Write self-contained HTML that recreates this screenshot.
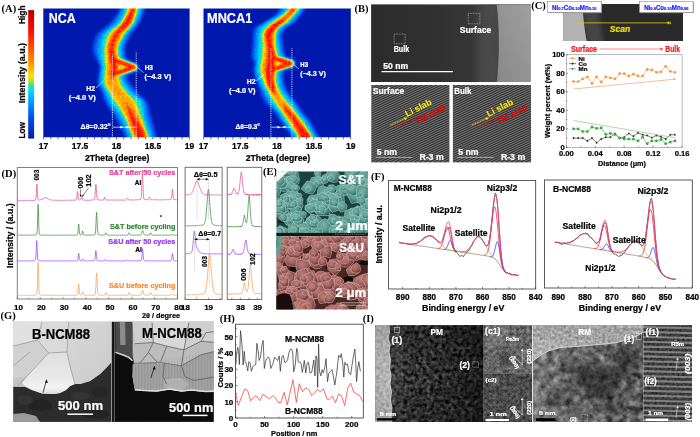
<!DOCTYPE html>
<html><head><meta charset="utf-8"><style>
html,body{margin:0;padding:0;background:#fff;width:700px;height:437px;overflow:hidden}
svg{display:block;will-change:transform}
</style></head><body>
<svg xmlns="http://www.w3.org/2000/svg" width="700" height="437" viewBox="0 0 700 437">
<rect width="700" height="437" fill="#fff"/>
<defs>
<linearGradient id="cbar" x1="0" y1="0" x2="0" y2="1">
 <stop offset="0" stop-color="#b00000"/>
 <stop offset="0.06" stop-color="#d80000"/>
 <stop offset="0.16" stop-color="#f81000"/>
 <stop offset="0.26" stop-color="#ff4000"/>
 <stop offset="0.40" stop-color="#ff8c00"/>
 <stop offset="0.51" stop-color="#ffe000"/>
 <stop offset="0.555" stop-color="#b0e030"/>
 <stop offset="0.585" stop-color="#30e0a0"/>
 <stop offset="0.62" stop-color="#00e0f0"/>
 <stop offset="0.71" stop-color="#00a0ff"/>
 <stop offset="0.83" stop-color="#0050f0"/>
 <stop offset="1" stop-color="#0020a0"/>
</linearGradient>
</defs>
<text x="1.60" y="11.70" font-family="Liberation Serif" font-size="10.5" fill="#000" font-weight="bold" >(A)</text>
<text x="24.60" y="24.10" font-family="Liberation Sans" font-size="8.6" fill="#000" font-weight="bold" stroke="#000" stroke-width="0.22" textLength="18.60" lengthAdjust="spacingAndGlyphs" transform="rotate(-90 24.60 24.10)" >High</text>
<text x="24.60" y="103.30" font-family="Liberation Sans" font-size="8.6" fill="#000" font-weight="bold" stroke="#000" stroke-width="0.22" textLength="60.40" lengthAdjust="spacingAndGlyphs" transform="rotate(-90 24.60 103.30)" >Intensity (a.u.)</text>
<text x="24.60" y="138.60" font-family="Liberation Sans" font-size="8.6" fill="#000" font-weight="bold" stroke="#000" stroke-width="0.22" textLength="16.70" lengthAdjust="spacingAndGlyphs" transform="rotate(-90 24.60 138.60)" >Low</text>
<rect x="28.20" y="10.10" width="5.90" height="128.50" fill="url(#cbar)" />
<defs>
<filter id="jet" x="0" y="0" width="1" height="1" color-interpolation-filters="sRGB">
 <feGaussianBlur in="SourceGraphic" stdDeviation="0.9" result="bl"/>
 <feTurbulence type="fractalNoise" baseFrequency="0.45" numOctaves="2" seed="3" result="tn"/>
 <feColorMatrix in="tn" type="matrix" values="1 0 0 0 0  1 0 0 0 0  1 0 0 0 0  0 0 0 0 1" result="gn"/>
 <feComposite in="bl" in2="gn" operator="arithmetic" k1="0.3" k2="0.85" k3="0" k4="0" result="mx"/>
 <feComponentTransfer in="mx">
  <feFuncR type="table" tableValues="0.000 0.000 0.000 0.000 0.000 0.000 0.000 0.000 0.000 0.000 0.000 0.000 0.000 0.000 0.000 0.024 0.141 0.376 0.690 0.845 1.000 1.000 1.000 1.000 1.000 1.000 1.000 1.000 1.000 1.000 1.000 1.000 1.000 0.994 0.964 0.933 0.903 0.867 0.808 0.749 0.690"/>
  <feFuncG type="table" tableValues="0.098 0.121 0.143 0.166 0.188 0.237 0.286 0.335 0.402 0.472 0.543 0.613 0.683 0.753 0.823 0.878 0.878 0.878 0.878 0.878 0.878 0.812 0.745 0.678 0.612 0.550 0.488 0.425 0.363 0.301 0.238 0.176 0.113 0.060 0.044 0.028 0.013 0.000 0.000 0.000 0.000"/>
  <feFuncB type="table" tableValues="0.682 0.716 0.749 0.782 0.816 0.855 0.894 0.933 0.953 0.968 0.982 0.997 0.987 0.971 0.954 0.902 0.706 0.463 0.188 0.094 0.000 0.000 0.000 0.000 0.000 0.000 0.000 0.000 0.000 0.000 0.000 0.000 0.000 0.000 0.000 0.000 0.000 0.000 0.000 0.000 0.000"/>
  <feFuncA type="linear" slope="0" intercept="1"/>
 </feComponentTransfer>
</filter>
<clipPath id="clA1"><rect x="43.3" y="8.5" width="146.3" height="128.7"/></clipPath>
<clipPath id="clA2"><rect x="203.5" y="8.5" width="147.3" height="128.7"/></clipPath>
</defs>
<g clip-path="url(#clA1)"><g filter="url(#jet)">
<rect x="43.3" y="8.5" width="146.3" height="128.7" fill="#000"/>
<defs><linearGradient id="clA1og" gradientUnits="userSpaceOnUse" x1="0" y1="0" x2="0" y2="140"><stop offset="0" stop-color="rgb(161,161,161)"/><stop offset="0.507" stop-color="rgb(161,161,161)"/><stop offset="0.571" stop-color="rgb(147,147,147)"/><stop offset="0.714" stop-color="rgb(148,148,148)"/><stop offset="0.829" stop-color="rgb(161,161,161)"/><stop offset="1" stop-color="rgb(161,161,161)"/></linearGradient></defs>
<polygon points="122.3,0.0 122.1,1.0 121.8,2.0 121.5,3.0 121.1,4.0 120.8,5.0 120.4,6.0 120.0,7.0 119.5,8.0 119.1,9.0 118.6,10.0 118.0,11.0 117.5,12.0 116.9,13.0 116.3,14.0 115.6,15.0 114.9,16.0 114.2,17.0 113.5,18.0 112.7,19.0 111.9,20.0 111.1,21.0 110.3,22.0 109.4,23.0 108.4,24.0 107.2,25.0 105.9,26.0 104.6,27.0 103.3,28.0 102.0,29.0 100.7,30.0 99.5,31.0 98.3,32.0 97.3,33.0 96.5,34.0 95.8,35.0 95.3,36.0 94.9,37.0 94.6,38.0 94.3,39.0 94.0,40.0 93.7,41.0 93.4,42.0 93.2,43.0 93.0,44.0 92.8,45.0 92.6,46.0 92.5,47.0 92.4,48.0 92.3,49.0 92.3,50.0 92.4,51.0 92.6,52.0 92.9,53.0 93.2,54.0 93.7,55.0 94.2,56.0 94.7,57.0 95.2,58.0 95.6,59.0 96.1,60.0 96.5,61.0 97.1,62.0 97.6,63.0 98.1,64.0 98.6,65.0 98.9,66.0 99.0,67.0 99.0,68.0 98.9,69.0 98.7,70.0 98.5,71.0 98.3,72.0 98.2,73.0 98.0,74.0 97.9,75.0 97.7,76.0 97.5,77.0 97.4,78.0 97.2,79.0 97.1,80.0 97.0,81.0 97.0,82.0 97.1,83.0 97.3,84.0 97.6,85.0 98.0,86.0 98.5,87.0 99.0,88.0 99.6,89.0 100.1,90.0 100.6,91.0 101.0,92.0 101.4,93.0 101.7,94.0 102.1,95.0 102.4,96.0 102.7,97.0 103.0,98.0 103.4,99.0 103.8,100.0 104.1,101.0 104.6,102.0 105.0,103.0 105.5,104.0 106.1,105.0 106.7,106.0 107.4,107.0 108.1,108.0 108.8,109.0 109.5,110.0 110.3,111.0 111.0,112.0 111.7,113.0 112.4,114.0 113.0,115.0 113.6,116.0 114.2,117.0 114.8,118.0 115.3,119.0 115.9,120.0 116.4,121.0 117.0,122.0 117.5,123.0 118.0,124.0 118.6,125.0 119.1,126.0 119.6,127.0 120.1,128.0 120.6,129.0 121.1,130.0 121.6,131.0 122.2,132.0 122.7,133.0 123.1,134.0 123.6,135.0 124.1,136.0 124.6,137.0 125.1,138.0 125.5,139.0 126.0,140.0 158.0,140.0 157.8,139.0 157.5,138.0 157.3,137.0 157.1,136.0 156.8,135.0 156.6,134.0 156.3,133.0 156.1,132.0 155.8,131.0 155.5,130.0 155.2,129.0 155.0,128.0 154.7,127.0 154.3,126.0 154.0,125.0 153.7,124.0 153.4,123.0 153.1,122.0 152.8,121.0 152.5,120.0 152.2,119.0 151.9,118.0 151.6,117.0 151.3,116.0 151.0,115.0 150.7,114.0 150.5,113.0 150.3,112.0 150.1,111.0 149.9,110.0 149.7,109.0 149.5,108.0 149.2,107.0 149.0,106.0 148.7,105.0 148.4,104.0 148.0,103.0 147.5,102.0 146.9,101.0 146.1,100.0 145.1,99.0 144.1,98.0 143.1,97.0 142.0,96.0 140.9,95.0 139.9,94.0 138.9,93.0 138.0,92.0 137.1,91.0 136.2,90.0 135.3,89.0 134.4,88.0 133.6,87.0 132.7,86.0 131.9,85.0 131.2,84.0 130.6,83.0 130.0,82.0 129.5,81.0 129.0,80.0 128.6,79.0 128.2,78.0 127.8,77.0 127.5,76.0 127.2,75.0 127.0,74.0 126.8,73.0 126.6,72.0 126.4,71.0 126.2,70.0 126.1,69.0 126.0,68.0 126.0,67.0 126.1,66.0 126.2,65.0 126.4,64.0 126.6,63.0 126.7,62.0 126.9,61.0 126.9,60.0 126.9,59.0 126.8,58.0 126.7,57.0 126.5,56.0 126.3,55.0 126.1,54.0 126.0,53.0 125.8,52.0 125.7,51.0 125.7,50.0 125.7,49.0 125.9,48.0 126.0,47.0 126.3,46.0 126.6,45.0 127.0,44.0 127.4,43.0 127.8,42.0 128.3,41.0 128.7,40.0 129.2,39.0 129.7,38.0 130.2,37.0 130.7,36.0 131.2,35.0 131.8,34.0 132.5,33.0 133.3,32.0 134.0,31.0 134.9,30.0 135.7,29.0 136.5,28.0 137.3,27.0 138.1,26.0 138.9,25.0 139.5,24.0 140.2,23.0 140.7,22.0 141.2,21.0 141.7,20.0 142.1,19.0 142.6,18.0 143.0,17.0 143.4,16.0 143.8,15.0 144.2,14.0 144.5,13.0 144.9,12.0 145.1,11.0 145.4,10.0 145.6,9.0 145.8,8.0 146.0,7.0 146.1,6.0 146.3,5.0 146.4,4.0 146.5,3.0 146.6,2.0 146.7,1.0 146.7,0.0" fill="rgb(43,43,43)"/>
<path d="M114.5,60 L133.8,67.3 L112.5,74.5" fill="none" stroke="rgb(43,43,43)" stroke-width="10.5" stroke-linecap="round" stroke-linejoin="round"/>
<polygon points="124.5,0.0 124.3,1.0 124.1,2.0 123.8,3.0 123.5,4.0 123.2,5.0 122.9,6.0 122.5,7.0 122.2,8.0 121.8,9.0 121.4,10.0 121.0,11.0 120.5,12.0 120.0,13.0 119.5,14.0 119.0,15.0 118.4,16.0 117.8,17.0 117.2,18.0 116.6,19.0 115.9,20.0 115.2,21.0 114.5,22.0 113.7,23.0 112.7,24.0 111.7,25.0 110.5,26.0 109.2,27.0 108.0,28.0 106.7,29.0 105.4,30.0 104.2,31.0 103.1,32.0 102.1,33.0 101.2,34.0 100.5,35.0 100.0,36.0 99.6,37.0 99.2,38.0 98.8,39.0 98.5,40.0 98.1,41.0 97.8,42.0 97.5,43.0 97.3,44.0 97.1,45.0 96.9,46.0 96.7,47.0 96.6,48.0 96.5,49.0 96.5,50.0 96.5,51.0 96.6,52.0 96.8,53.0 97.0,54.0 97.2,55.0 97.5,56.0 97.8,57.0 98.1,58.0 98.4,59.0 98.6,60.0 99.0,61.0 99.4,62.0 99.8,63.0 100.3,64.0 100.6,65.0 100.9,66.0 101.0,67.0 101.0,68.0 100.8,69.0 100.7,70.0 100.5,71.0 100.3,72.0 100.1,73.0 100.0,74.0 99.9,75.0 99.8,76.0 99.7,77.0 99.7,78.0 99.6,79.0 99.5,80.0 99.5,81.0 99.5,82.0 99.6,83.0 99.8,84.0 100.2,85.0 100.7,86.0 101.2,87.0 101.8,88.0 102.4,89.0 103.0,90.0 103.5,91.0 104.0,92.0 104.4,93.0 104.8,94.0 105.2,95.0 105.6,96.0 105.9,97.0 106.3,98.0 106.7,99.0 107.1,100.0 107.5,101.0 108.0,102.0 108.5,103.0 109.1,104.0 109.7,105.0 110.4,106.0 111.1,107.0 111.8,108.0 112.6,109.0 113.4,110.0 114.2,111.0 115.0,112.0 115.7,113.0 116.4,114.0 117.0,115.0 117.6,116.0 118.2,117.0 118.7,118.0 119.3,119.0 119.8,120.0 120.3,121.0 120.9,122.0 121.4,123.0 121.9,124.0 122.4,125.0 122.8,126.0 123.3,127.0 123.8,128.0 124.3,129.0 124.7,130.0 125.2,131.0 125.6,132.0 126.1,133.0 126.5,134.0 127.0,135.0 127.4,136.0 127.8,137.0 128.2,138.0 128.6,139.0 129.0,140.0 154.5,140.0 154.2,139.0 153.9,138.0 153.6,137.0 153.3,136.0 153.0,135.0 152.7,134.0 152.4,133.0 152.1,132.0 151.8,131.0 151.5,130.0 151.2,129.0 150.8,128.0 150.5,127.0 150.2,126.0 149.8,125.0 149.5,124.0 149.2,123.0 148.9,122.0 148.6,121.0 148.3,120.0 148.0,119.0 147.7,118.0 147.5,117.0 147.2,116.0 147.0,115.0 146.8,114.0 146.6,113.0 146.5,112.0 146.4,111.0 146.2,110.0 146.1,109.0 146.0,108.0 145.8,107.0 145.7,106.0 145.5,105.0 145.3,104.0 145.0,103.0 144.6,102.0 143.9,101.0 143.1,100.0 142.0,99.0 140.9,98.0 139.7,97.0 138.5,96.0 137.2,95.0 136.1,94.0 135.0,93.0 134.0,92.0 133.1,91.0 132.2,90.0 131.2,89.0 130.3,88.0 129.4,87.0 128.5,86.0 127.7,85.0 127.0,84.0 126.4,83.0 126.0,82.0 125.6,81.0 125.3,80.0 125.1,79.0 124.8,78.0 124.6,77.0 124.4,76.0 124.2,75.0 124.0,74.0 123.8,73.0 123.6,72.0 123.4,71.0 123.3,70.0 123.1,69.0 123.0,68.0 123.0,67.0 123.0,66.0 123.2,65.0 123.3,64.0 123.5,63.0 123.7,62.0 123.8,61.0 123.9,60.0 123.8,59.0 123.7,58.0 123.6,57.0 123.4,56.0 123.2,55.0 123.0,54.0 122.8,53.0 122.6,52.0 122.5,51.0 122.5,50.0 122.5,49.0 122.7,48.0 122.8,47.0 123.1,46.0 123.4,45.0 123.8,44.0 124.2,43.0 124.6,42.0 125.0,41.0 125.5,40.0 126.0,39.0 126.5,38.0 127.0,37.0 127.5,36.0 128.0,35.0 128.7,34.0 129.4,33.0 130.2,32.0 131.0,31.0 131.9,30.0 132.8,29.0 133.7,28.0 134.5,27.0 135.4,26.0 136.2,25.0 136.9,24.0 137.5,23.0 138.0,22.0 138.4,21.0 138.9,20.0 139.3,19.0 139.7,18.0 140.0,17.0 140.4,16.0 140.7,15.0 141.0,14.0 141.3,13.0 141.6,12.0 141.9,11.0 142.1,10.0 142.4,9.0 142.6,8.0 142.8,7.0 143.0,6.0 143.2,5.0 143.4,4.0 143.6,3.0 143.7,2.0 143.9,1.0 144.0,0.0" fill="rgb(69,69,69)"/>
<path d="M114.5,60 L133.8,67.3 L112.5,74.5" fill="none" stroke="rgb(69,69,69)" stroke-width="9" stroke-linecap="round" stroke-linejoin="round"/>
<polygon points="127.1,0.0 127.0,1.0 126.9,2.0 126.7,3.0 126.5,4.0 126.3,5.0 126.0,6.0 125.8,7.0 125.5,8.0 125.3,9.0 125.0,10.0 124.6,11.0 124.2,12.0 123.8,13.0 123.4,14.0 123.0,15.0 122.5,16.0 122.0,17.0 121.4,18.0 120.9,19.0 120.3,20.0 119.6,21.0 119.0,22.0 118.2,23.0 117.3,24.0 116.2,25.0 115.0,26.0 113.7,27.0 112.3,28.0 111.0,29.0 109.7,30.0 108.4,31.0 107.2,32.0 106.2,33.0 105.3,34.0 104.6,35.0 104.1,36.0 103.8,37.0 103.5,38.0 103.1,39.0 102.9,40.0 102.6,41.0 102.3,42.0 102.1,43.0 101.9,44.0 101.7,45.0 101.6,46.0 101.5,47.0 101.4,48.0 101.3,49.0 101.3,50.0 101.3,51.0 101.3,52.0 101.3,53.0 101.4,54.0 101.4,55.0 101.4,56.0 101.5,57.0 101.5,58.0 101.6,59.0 101.7,60.0 101.8,61.0 102.0,62.0 102.2,63.0 102.5,64.0 102.8,65.0 102.9,66.0 103.0,67.0 102.9,68.0 102.8,69.0 102.6,70.0 102.4,71.0 102.2,72.0 102.1,73.0 102.0,74.0 102.0,75.0 102.0,76.0 102.0,77.0 102.0,78.0 102.0,79.0 102.0,80.0 102.0,81.0 102.0,82.0 102.1,83.0 102.4,84.0 102.8,85.0 103.3,86.0 103.9,87.0 104.6,88.0 105.2,89.0 105.9,90.0 106.5,91.0 107.0,92.0 107.5,93.0 107.9,94.0 108.3,95.0 108.8,96.0 109.2,97.0 109.6,98.0 110.0,99.0 110.5,100.0 111.0,101.0 111.5,102.0 112.0,103.0 112.6,104.0 113.3,105.0 114.0,106.0 114.8,107.0 115.6,108.0 116.5,109.0 117.3,110.0 118.1,111.0 118.9,112.0 119.7,113.0 120.4,114.0 121.0,115.0 121.6,116.0 122.1,117.0 122.7,118.0 123.2,119.0 123.7,120.0 124.2,121.0 124.7,122.0 125.1,123.0 125.6,124.0 126.1,125.0 126.5,126.0 126.9,127.0 127.4,128.0 127.8,129.0 128.2,130.0 128.7,131.0 129.1,132.0 129.6,133.0 130.0,134.0 130.4,135.0 130.9,136.0 131.3,137.0 131.7,138.0 132.1,139.0 132.5,140.0 151.5,140.0 151.2,139.0 150.9,138.0 150.6,137.0 150.3,136.0 149.9,135.0 149.6,134.0 149.3,133.0 149.0,132.0 148.7,131.0 148.3,130.0 148.0,129.0 147.6,128.0 147.3,127.0 146.9,126.0 146.5,125.0 146.2,124.0 145.8,123.0 145.5,122.0 145.1,121.0 144.8,120.0 144.5,119.0 144.2,118.0 143.9,117.0 143.7,116.0 143.5,115.0 143.3,114.0 143.2,113.0 143.1,112.0 142.9,111.0 142.8,110.0 142.7,109.0 142.6,108.0 142.5,107.0 142.4,106.0 142.2,105.0 142.0,104.0 141.8,103.0 141.4,102.0 140.7,101.0 139.7,100.0 138.6,99.0 137.4,98.0 136.0,97.0 134.7,96.0 133.3,95.0 132.1,94.0 131.0,93.0 130.0,92.0 129.2,91.0 128.3,90.0 127.5,89.0 126.7,88.0 125.9,87.0 125.2,86.0 124.5,85.0 123.9,84.0 123.4,83.0 123.0,82.0 122.6,81.0 122.3,80.0 121.9,79.0 121.6,78.0 121.4,77.0 121.2,76.0 121.0,75.0 121.0,74.0 121.0,73.0 121.0,72.0 121.0,71.0 121.0,70.0 121.0,69.0 121.0,68.0 121.0,67.0 121.0,66.0 121.1,65.0 121.1,64.0 121.2,63.0 121.3,62.0 121.3,61.0 121.3,60.0 121.3,59.0 121.2,58.0 121.0,57.0 120.8,56.0 120.6,55.0 120.4,54.0 120.2,53.0 120.1,52.0 119.9,51.0 119.9,50.0 119.9,49.0 120.1,48.0 120.2,47.0 120.5,46.0 120.8,45.0 121.2,44.0 121.6,43.0 122.0,42.0 122.4,41.0 122.9,40.0 123.4,39.0 123.9,38.0 124.4,37.0 124.9,36.0 125.4,35.0 126.1,34.0 126.8,33.0 127.6,32.0 128.5,31.0 129.4,30.0 130.3,29.0 131.2,28.0 132.0,27.0 132.9,26.0 133.7,25.0 134.4,24.0 135.0,23.0 135.5,22.0 135.9,21.0 136.3,20.0 136.7,19.0 137.1,18.0 137.4,17.0 137.8,16.0 138.1,15.0 138.4,14.0 138.7,13.0 138.9,12.0 139.2,11.0 139.4,10.0 139.7,9.0 139.9,8.0 140.1,7.0 140.4,6.0 140.6,5.0 140.7,4.0 140.9,3.0 141.1,2.0 141.3,1.0 141.4,0.0" fill="rgb(97,97,97)"/>
<path d="M114.5,60 L133.8,67.3 L112.5,74.5" fill="none" stroke="rgb(97,97,97)" stroke-width="7.5" stroke-linecap="round" stroke-linejoin="round"/>
<polygon points="128.8,0.0 128.8,1.0 128.7,2.0 128.6,3.0 128.5,4.0 128.3,5.0 128.2,6.0 128.0,7.0 127.8,8.0 127.6,9.0 127.3,10.0 127.0,11.0 126.7,12.0 126.3,13.0 125.8,14.0 125.4,15.0 124.9,16.0 124.3,17.0 123.7,18.0 123.2,19.0 122.6,20.0 121.9,21.0 121.3,22.0 120.6,23.0 119.7,24.0 118.7,25.0 117.6,26.0 116.4,27.0 115.2,28.0 114.0,29.0 112.8,30.0 111.7,31.0 110.6,32.0 109.7,33.0 108.9,34.0 108.2,35.0 107.8,36.0 107.5,37.0 107.2,38.0 106.9,39.0 106.6,40.0 106.3,41.0 106.0,42.0 105.8,43.0 105.6,44.0 105.4,45.0 105.3,46.0 105.2,47.0 105.1,48.0 105.0,49.0 105.0,50.0 105.0,51.0 105.0,52.0 105.0,53.0 105.0,54.0 105.1,55.0 105.1,56.0 105.1,57.0 105.1,58.0 105.2,59.0 105.2,60.0 105.3,61.0 105.4,62.0 105.5,63.0 105.7,64.0 105.9,65.0 106.0,66.0 106.0,67.0 105.9,68.0 105.8,69.0 105.6,70.0 105.4,71.0 105.2,72.0 105.1,73.0 105.0,74.0 105.0,75.0 105.0,76.0 105.0,77.0 105.0,78.0 105.0,79.0 105.0,80.0 105.0,81.0 105.0,82.0 105.1,83.0 105.3,84.0 105.6,85.0 106.1,86.0 106.6,87.0 107.2,88.0 107.8,89.0 108.4,90.0 109.0,91.0 109.5,92.0 110.0,93.0 110.6,94.0 111.2,95.0 111.8,96.0 112.4,97.0 113.1,98.0 113.7,99.0 114.4,100.0 115.0,101.0 115.7,102.0 116.3,103.0 116.9,104.0 117.6,105.0 118.3,106.0 119.0,107.0 119.6,108.0 120.3,109.0 121.0,110.0 121.7,111.0 122.3,112.0 122.9,113.0 123.5,114.0 124.0,115.0 124.5,116.0 125.0,117.0 125.4,118.0 125.9,119.0 126.3,120.0 126.7,121.0 127.2,122.0 127.6,123.0 127.9,124.0 128.3,125.0 128.7,126.0 129.1,127.0 129.5,128.0 129.9,129.0 130.3,130.0 130.7,131.0 131.1,132.0 131.5,133.0 132.0,134.0 132.4,135.0 132.8,136.0 133.2,137.0 133.7,138.0 134.1,139.0 134.5,140.0 149.5,140.0 149.0,139.0 148.6,138.0 148.2,137.0 147.7,136.0 147.3,135.0 146.9,134.0 146.5,133.0 146.1,132.0 145.7,131.0 145.4,130.0 145.0,129.0 144.7,128.0 144.4,127.0 144.1,126.0 143.7,125.0 143.4,124.0 143.1,123.0 142.8,122.0 142.5,121.0 142.2,120.0 141.9,119.0 141.5,118.0 141.2,117.0 140.9,116.0 140.5,115.0 140.1,114.0 139.8,113.0 139.4,112.0 139.1,111.0 138.7,110.0 138.4,109.0 138.0,108.0 137.6,107.0 137.2,106.0 136.7,105.0 136.2,104.0 135.7,103.0 135.1,102.0 134.3,101.0 133.5,100.0 132.6,99.0 131.6,98.0 130.6,97.0 129.6,96.0 128.6,95.0 127.7,94.0 126.8,93.0 126.0,92.0 125.2,91.0 124.4,90.0 123.6,89.0 122.8,88.0 122.1,87.0 121.4,86.0 120.7,85.0 120.2,84.0 119.8,83.0 119.5,82.0 119.3,81.0 119.1,80.0 118.9,79.0 118.8,78.0 118.7,77.0 118.6,76.0 118.5,75.0 118.5,74.0 118.6,73.0 118.7,72.0 118.9,71.0 119.1,70.0 119.3,69.0 119.4,68.0 119.5,67.0 119.5,66.0 119.5,65.0 119.5,64.0 119.4,63.0 119.4,62.0 119.3,61.0 119.3,60.0 119.2,59.0 119.1,58.0 118.9,57.0 118.6,56.0 118.4,55.0 118.2,54.0 117.9,53.0 117.8,52.0 117.6,51.0 117.6,50.0 117.6,49.0 117.8,48.0 117.9,47.0 118.2,46.0 118.5,45.0 118.9,44.0 119.3,43.0 119.7,42.0 120.1,41.0 120.6,40.0 121.1,39.0 121.6,38.0 122.1,37.0 122.6,36.0 123.1,35.0 123.8,34.0 124.5,33.0 125.3,32.0 126.2,31.0 127.1,30.0 128.0,29.0 128.9,28.0 129.7,27.0 130.6,26.0 131.4,25.0 132.1,24.0 132.7,23.0 133.2,22.0 133.6,21.0 134.0,20.0 134.4,19.0 134.8,18.0 135.1,17.0 135.5,16.0 135.8,15.0 136.1,14.0 136.3,13.0 136.6,12.0 136.9,11.0 137.1,10.0 137.4,9.0 137.6,8.0 137.9,7.0 138.1,6.0 138.3,5.0 138.5,4.0 138.7,3.0 138.9,2.0 139.0,1.0 139.2,0.0" fill="rgb(128,128,128)"/>
<path d="M114.5,60 L133.8,67.3 L112.5,74.5" fill="none" stroke="rgb(128,128,128)" stroke-width="6.2" stroke-linecap="round" stroke-linejoin="round"/>
<polygon points="130.6,0.0 130.6,1.0 130.5,2.0 130.4,3.0 130.3,4.0 130.1,5.0 129.9,6.0 129.7,7.0 129.5,8.0 129.3,9.0 129.0,10.0 128.7,11.0 128.3,12.0 127.9,13.0 127.5,14.0 127.0,15.0 126.5,16.0 125.9,17.0 125.3,18.0 124.7,19.0 124.1,20.0 123.5,21.0 122.9,22.0 122.2,23.0 121.4,24.0 120.5,25.0 119.5,26.0 118.4,27.0 117.3,28.0 116.2,29.0 115.1,30.0 114.1,31.0 113.1,32.0 112.2,33.0 111.4,34.0 110.8,35.0 110.3,36.0 109.9,37.0 109.5,38.0 109.1,39.0 108.8,40.0 108.4,41.0 108.1,42.0 107.8,43.0 107.5,44.0 107.3,45.0 107.1,46.0 106.9,47.0 106.8,48.0 106.7,49.0 106.7,50.0 106.7,51.0 106.7,52.0 106.8,53.0 106.8,54.0 106.9,55.0 107.0,56.0 107.1,57.0 107.1,58.0 107.2,59.0 107.3,60.0 107.4,61.0 107.4,62.0 107.5,63.0 107.6,64.0 107.7,65.0 107.8,66.0 107.8,67.0 107.8,68.0 107.6,69.0 107.5,70.0 107.3,71.0 107.2,72.0 107.0,73.0 107.0,74.0 107.0,75.0 107.0,76.0 107.0,77.0 107.0,78.0 107.0,79.0 107.0,80.0 107.0,81.0 107.0,82.0 107.1,83.0 107.3,84.0 107.6,85.0 108.1,86.0 108.6,87.0 109.1,88.0 109.7,89.0 110.3,90.0 110.9,91.0 111.5,92.0 112.1,93.0 112.7,94.0 113.4,95.0 114.0,96.0 114.8,97.0 115.5,98.0 116.2,99.0 117.0,100.0 117.7,101.0 118.3,102.0 119.0,103.0 119.6,104.0 120.3,105.0 120.9,106.0 121.5,107.0 122.2,108.0 122.8,109.0 123.4,110.0 123.9,111.0 124.5,112.0 125.0,113.0 125.5,114.0 126.0,115.0 126.4,116.0 126.8,117.0 127.2,118.0 127.6,119.0 128.0,120.0 128.3,121.0 128.6,122.0 129.0,123.0 129.3,124.0 129.6,125.0 129.9,126.0 130.3,127.0 130.6,128.0 131.0,129.0 131.3,130.0 131.7,131.0 132.1,132.0 132.6,133.0 133.0,134.0 133.5,135.0 134.0,136.0 134.5,137.0 135.0,138.0 135.5,139.0 136.0,140.0 148.0,140.0 147.7,139.0 147.3,138.0 147.0,137.0 146.6,136.0 146.2,135.0 145.9,134.0 145.5,133.0 145.1,132.0 144.7,131.0 144.3,130.0 143.9,129.0 143.5,128.0 143.1,127.0 142.7,126.0 142.3,125.0 141.8,124.0 141.4,123.0 141.0,122.0 140.6,121.0 140.1,120.0 139.7,119.0 139.3,118.0 138.8,117.0 138.4,116.0 138.0,115.0 137.6,114.0 137.2,113.0 136.8,112.0 136.5,111.0 136.1,110.0 135.7,109.0 135.3,108.0 134.9,107.0 134.5,106.0 134.0,105.0 133.5,104.0 133.0,103.0 132.4,102.0 131.7,101.0 130.9,100.0 130.0,99.0 129.1,98.0 128.2,97.0 127.3,96.0 126.4,95.0 125.5,94.0 124.7,93.0 124.0,92.0 123.3,91.0 122.6,90.0 121.8,89.0 121.1,88.0 120.4,87.0 119.7,86.0 119.2,85.0 118.7,84.0 118.3,83.0 118.0,82.0 117.8,81.0 117.6,80.0 117.4,79.0 117.3,78.0 117.2,77.0 117.1,76.0 117.0,75.0 117.0,74.0 117.1,73.0 117.4,72.0 117.7,71.0 118.1,70.0 118.4,69.0 118.7,68.0 118.8,67.0 118.8,66.0 118.7,65.0 118.5,64.0 118.3,63.0 118.1,62.0 117.9,61.0 117.7,60.0 117.5,59.0 117.3,58.0 117.1,57.0 116.8,56.0 116.6,55.0 116.4,54.0 116.2,53.0 116.0,52.0 115.9,51.0 115.9,50.0 115.9,49.0 116.1,48.0 116.2,47.0 116.5,46.0 116.8,45.0 117.1,44.0 117.5,43.0 118.0,42.0 118.4,41.0 118.9,40.0 119.4,39.0 119.9,38.0 120.4,37.0 120.9,36.0 121.5,35.0 122.1,34.0 122.9,33.0 123.7,32.0 124.6,31.0 125.5,30.0 126.5,29.0 127.4,28.0 128.3,27.0 129.2,26.0 130.0,25.0 130.8,24.0 131.4,23.0 131.9,22.0 132.3,21.0 132.7,20.0 133.1,19.0 133.5,18.0 133.8,17.0 134.1,16.0 134.4,15.0 134.7,14.0 135.0,13.0 135.2,12.0 135.5,11.0 135.7,10.0 136.0,9.0 136.2,8.0 136.5,7.0 136.7,6.0 136.9,5.0 137.1,4.0 137.3,3.0 137.5,2.0 137.7,1.0 137.9,0.0" fill="url(#clA1og)"/>
<path d="M114.5,60 L133.8,67.3 L112.5,74.5" fill="none" stroke="rgb(161,161,161)" stroke-width="5" stroke-linecap="round" stroke-linejoin="round"/>
<polygon points="133.1,0.0 133.0,1.0 132.9,2.0 132.7,3.0 132.5,4.0 132.3,5.0 132.1,6.0 131.8,7.0 131.5,8.0 131.3,9.0 130.9,10.0 130.5,11.0 130.1,12.0 129.6,13.0 129.1,14.0 128.6,15.0 128.0,16.0 127.4,17.0 126.8,18.0 126.2,19.0 125.6,20.0 124.9,21.0 124.3,22.0 123.6,23.0 122.9,24.0 122.1,25.0 121.3,26.0 120.4,27.0 119.5,28.0 118.6,29.0 117.7,30.0 116.9,31.0 116.1,32.0 115.3,33.0 114.7,34.0 114.1,35.0 113.6,36.0 113.2,37.0 112.7,38.0 112.3,39.0 111.9,40.0 111.5,41.0 111.1,42.0 110.7,43.0 110.4,44.0 110.1,45.0 109.9,46.0 109.7,47.0 109.5,48.0 109.4,49.0 109.4,50.0 109.4,51.0 109.4,52.0 109.5,53.0 109.5,54.0 109.5,55.0 109.6,56.0 109.7,57.0 109.7,58.0 109.8,59.0 109.9,60.0 110.1,61.0 110.4,62.0 110.8,63.0 111.2,64.0 111.6,65.0 111.9,66.0 112.0,67.0 111.9,68.0 111.8,69.0 111.6,70.0 111.4,71.0 111.2,72.0 111.1,73.0 111.0,74.0 111.0,75.0 111.0,76.0 111.1,77.0 111.1,78.0 111.2,79.0 111.3,80.0 111.4,81.0 111.5,82.0 111.7,83.0 112.0,84.0 112.4,85.0 113.0,86.0 113.6,87.0 114.2,88.0 114.9,89.0 115.6,90.0 116.3,91.0 117.0,92.0 117.7,93.0 118.5,94.0 119.4,95.0 120.4,96.0 121.3,97.0 122.3,98.0 123.2,99.0 124.1,100.0 124.8,101.0 125.5,102.0 126.0,103.0 126.4,104.0 126.8,105.0 127.1,106.0 127.4,107.0 127.7,108.0 127.9,109.0 128.2,110.0 128.4,111.0 128.7,112.0 128.9,113.0 129.2,114.0 129.5,115.0 129.8,116.0 130.1,117.0 130.4,118.0 130.7,119.0 131.0,120.0 131.3,121.0 131.6,122.0 131.9,123.0 132.2,124.0 132.5,125.0 132.8,126.0 133.1,127.0 133.4,128.0 133.8,129.0 134.1,130.0 134.5,131.0 134.8,132.0 135.2,133.0 135.5,134.0 135.9,135.0 136.3,136.0 136.7,137.0 137.2,138.0 137.6,139.0 138.0,140.0 146.5,140.0 146.2,139.0 145.8,138.0 145.4,137.0 145.0,136.0 144.6,135.0 144.2,134.0 143.8,133.0 143.3,132.0 142.9,131.0 142.4,130.0 141.9,129.0 141.3,128.0 140.8,127.0 140.2,126.0 139.6,125.0 139.0,124.0 138.4,123.0 137.8,122.0 137.2,121.0 136.5,120.0 135.9,119.0 135.3,118.0 134.7,117.0 134.1,116.0 133.5,115.0 132.9,114.0 132.4,113.0 131.8,112.0 131.3,111.0 130.7,110.0 130.2,109.0 129.6,108.0 129.0,107.0 128.4,106.0 127.8,105.0 127.2,104.0 126.5,103.0 125.8,102.0 125.0,101.0 124.2,100.0 123.3,99.0 122.4,98.0 121.5,97.0 120.6,96.0 119.8,95.0 119.0,94.0 118.2,93.0 117.5,92.0 116.8,91.0 116.1,90.0 115.3,89.0 114.6,88.0 113.9,87.0 113.3,86.0 112.8,85.0 112.4,84.0 112.1,83.0 112.0,82.0 112.1,81.0 112.2,80.0 112.4,79.0 112.7,78.0 113.0,77.0 113.3,76.0 113.7,75.0 114.0,74.0 114.4,73.0 114.9,72.0 115.5,71.0 116.1,70.0 116.5,69.0 116.9,68.0 117.0,67.0 116.9,66.0 116.8,65.0 116.6,64.0 116.4,63.0 116.1,62.0 115.8,61.0 115.6,60.0 115.4,59.0 115.1,58.0 114.8,57.0 114.5,56.0 114.2,55.0 113.9,54.0 113.7,53.0 113.5,52.0 113.3,51.0 113.3,50.0 113.3,49.0 113.4,48.0 113.6,47.0 113.8,46.0 114.0,45.0 114.3,44.0 114.6,43.0 114.9,42.0 115.3,41.0 115.7,40.0 116.1,39.0 116.5,38.0 117.0,37.0 117.4,36.0 117.9,35.0 118.7,34.0 119.5,33.0 120.5,32.0 121.5,31.0 122.7,30.0 123.8,29.0 125.0,28.0 126.1,27.0 127.2,26.0 128.1,25.0 129.0,24.0 129.7,23.0 130.3,22.0 130.7,21.0 131.2,20.0 131.6,19.0 131.9,18.0 132.3,17.0 132.6,16.0 132.9,15.0 133.2,14.0 133.5,13.0 133.7,12.0 133.9,11.0 134.2,10.0 134.4,9.0 134.6,8.0 134.8,7.0 135.0,6.0 135.2,5.0 135.4,4.0 135.5,3.0 135.7,2.0 135.8,1.0 135.9,0.0" fill="rgb(209,209,209)"/>
<path d="M114.5,60 L133.8,67.3 L112.5,74.5" fill="none" stroke="rgb(209,209,209)" stroke-width="3.2" stroke-linecap="round" stroke-linejoin="round"/>
</g></g>
<g clip-path="url(#clA2)"><g filter="url(#jet)">
<rect x="203.5" y="8.5" width="147.3" height="128.7" fill="#000"/>
<defs><linearGradient id="clA2og" gradientUnits="userSpaceOnUse" x1="0" y1="0" x2="0" y2="140"><stop offset="0" stop-color="rgb(161,161,161)"/><stop offset="0.507" stop-color="rgb(161,161,161)"/><stop offset="0.571" stop-color="rgb(147,147,147)"/><stop offset="0.714" stop-color="rgb(148,148,148)"/><stop offset="0.829" stop-color="rgb(161,161,161)"/><stop offset="1" stop-color="rgb(161,161,161)"/></linearGradient></defs>
<polygon points="282.3,0.0 282.1,1.0 281.9,2.0 281.6,3.0 281.3,4.0 280.9,5.0 280.5,6.0 280.0,7.0 279.5,8.0 279.0,9.0 278.5,10.0 277.8,11.0 277.0,12.0 276.2,13.0 275.3,14.0 274.3,15.0 273.1,16.0 271.7,17.0 270.1,18.0 268.3,19.0 266.6,20.0 264.9,21.0 263.3,22.0 261.7,23.0 259.9,24.0 258.1,25.0 256.4,26.0 254.9,27.0 253.9,28.0 253.3,29.0 253.1,30.0 252.9,31.0 252.7,32.0 252.5,33.0 252.4,34.0 252.3,35.0 252.3,36.0 252.3,37.0 252.3,38.0 252.3,39.0 252.3,40.0 252.3,41.0 252.3,42.0 252.3,43.0 252.3,44.0 252.2,45.0 252.0,46.0 251.8,47.0 251.6,48.0 251.5,49.0 251.3,50.0 251.3,51.0 251.3,52.0 251.2,53.0 251.2,54.0 251.2,55.0 251.2,56.0 251.2,57.0 251.2,58.0 251.6,59.0 252.2,60.0 252.9,61.0 253.5,62.0 253.9,63.0 254.0,64.0 253.8,65.0 253.5,66.0 253.3,67.0 253.1,68.0 253.0,69.0 253.0,70.0 253.1,71.0 253.2,72.0 253.3,73.0 253.4,74.0 253.6,75.0 253.7,76.0 253.9,77.0 254.1,78.0 254.4,79.0 254.8,80.0 255.2,81.0 255.8,82.0 256.3,83.0 256.9,84.0 257.4,85.0 257.8,86.0 258.2,87.0 258.6,88.0 258.9,89.0 259.2,90.0 259.5,91.0 259.8,92.0 260.2,93.0 260.5,94.0 260.9,95.0 261.4,96.0 261.8,97.0 262.3,98.0 262.9,99.0 263.4,100.0 264.0,101.0 264.7,102.0 265.3,103.0 266.0,104.0 266.8,105.0 267.6,106.0 268.5,107.0 269.5,108.0 270.5,109.0 271.5,110.0 272.5,111.0 273.3,112.0 274.2,113.0 274.9,114.0 275.6,115.0 276.3,116.0 277.0,117.0 277.6,118.0 278.3,119.0 278.9,120.0 279.6,121.0 280.3,122.0 281.0,123.0 281.8,124.0 282.6,125.0 283.4,126.0 284.2,127.0 285.0,128.0 285.8,129.0 286.5,130.0 287.2,131.0 287.9,132.0 288.5,133.0 289.1,134.0 289.6,135.0 290.0,136.0 290.5,137.0 290.9,138.0 291.3,139.0 291.7,140.0 292.0,141.0 322.0,141.0 321.4,140.0 320.9,139.0 320.3,138.0 319.8,137.0 319.2,136.0 318.6,135.0 318.1,134.0 317.5,133.0 316.9,132.0 316.4,131.0 315.9,130.0 315.3,129.0 314.8,128.0 314.2,127.0 313.7,126.0 313.1,125.0 312.5,124.0 311.9,123.0 311.3,122.0 310.6,121.0 309.8,120.0 309.1,119.0 308.2,118.0 307.4,117.0 306.6,116.0 305.7,115.0 304.9,114.0 304.1,113.0 303.4,112.0 302.7,111.0 302.1,110.0 301.4,109.0 300.7,108.0 300.1,107.0 299.4,106.0 298.7,105.0 298.0,104.0 297.2,103.0 296.4,102.0 295.6,101.0 294.8,100.0 293.9,99.0 293.1,98.0 292.3,97.0 291.6,96.0 290.9,95.0 290.2,94.0 289.5,93.0 288.9,92.0 288.2,91.0 287.7,90.0 287.1,89.0 286.6,88.0 286.2,87.0 285.9,86.0 285.5,85.0 285.2,84.0 284.9,83.0 284.6,82.0 284.4,81.0 284.2,80.0 284.1,79.0 284.0,78.0 284.0,77.0 284.0,76.0 284.0,75.0 284.0,74.0 284.0,73.0 284.0,72.0 284.0,71.0 284.0,70.0 284.0,69.0 284.0,68.0 284.0,67.0 284.0,66.0 284.0,65.0 284.0,64.0 284.0,63.0 284.3,62.0 284.7,61.0 285.2,60.0 285.6,59.0 285.8,58.0 285.8,57.0 285.7,56.0 285.6,55.0 285.4,54.0 285.2,53.0 285.0,52.0 284.8,51.0 284.6,50.0 284.5,49.0 284.3,48.0 284.2,47.0 284.0,46.0 283.9,45.0 283.8,44.0 283.6,43.0 283.5,42.0 283.3,41.0 283.1,40.0 282.9,39.0 282.8,38.0 282.7,37.0 282.7,36.0 282.8,35.0 283.1,34.0 283.5,33.0 283.9,32.0 284.5,31.0 285.1,30.0 285.7,29.0 286.6,28.0 287.9,27.0 289.5,26.0 291.2,25.0 292.9,24.0 294.4,23.0 295.7,22.0 296.7,21.0 297.7,20.0 298.6,19.0 299.4,18.0 300.2,17.0 301.0,16.0 301.7,15.0 302.4,14.0 303.1,13.0 303.8,12.0 304.4,11.0 304.9,10.0 305.5,9.0 305.9,8.0 306.4,7.0 306.8,6.0 307.2,5.0 307.6,4.0 307.9,3.0 308.2,2.0 308.5,1.0 308.7,0.0" fill="rgb(43,43,43)"/>
<path d="M272,57.5 L290.8,63.4 L270.5,70" fill="none" stroke="rgb(43,43,43)" stroke-width="10.5" stroke-linecap="round" stroke-linejoin="round"/>
<polygon points="285.0,0.0 284.9,1.0 284.8,2.0 284.6,3.0 284.3,4.0 283.9,5.0 283.5,6.0 283.1,7.0 282.7,8.0 282.3,9.0 281.7,10.0 281.1,11.0 280.3,12.0 279.5,13.0 278.5,14.0 277.5,15.0 276.2,16.0 274.6,17.0 272.8,18.0 270.8,19.0 268.9,20.0 267.1,21.0 265.5,22.0 264.0,23.0 262.5,24.0 261.0,25.0 259.6,26.0 258.4,27.0 257.4,28.0 256.9,29.0 256.6,30.0 256.3,31.0 256.0,32.0 255.8,33.0 255.7,34.0 255.6,35.0 255.5,36.0 255.5,37.0 255.5,38.0 255.5,39.0 255.5,40.0 255.5,41.0 255.5,42.0 255.5,43.0 255.5,44.0 255.4,45.0 255.2,46.0 255.1,47.0 254.9,48.0 254.7,49.0 254.5,50.0 254.5,51.0 254.4,52.0 254.4,53.0 254.3,54.0 254.3,55.0 254.3,56.0 254.3,57.0 254.3,58.0 254.5,59.0 254.9,60.0 255.3,61.0 255.7,62.0 256.0,63.0 256.0,64.0 255.8,65.0 255.5,66.0 255.3,67.0 255.1,68.0 255.0,69.0 255.0,70.0 255.1,71.0 255.3,72.0 255.4,73.0 255.6,74.0 255.9,75.0 256.1,76.0 256.4,77.0 256.6,78.0 256.9,79.0 257.3,80.0 257.8,81.0 258.3,82.0 258.8,83.0 259.3,84.0 259.8,85.0 260.3,86.0 260.8,87.0 261.2,88.0 261.7,89.0 262.1,90.0 262.5,91.0 263.0,92.0 263.4,93.0 263.9,94.0 264.4,95.0 264.9,96.0 265.4,97.0 265.9,98.0 266.5,99.0 267.0,100.0 267.6,101.0 268.2,102.0 268.8,103.0 269.5,104.0 270.3,105.0 271.1,106.0 272.1,107.0 273.1,108.0 274.1,109.0 275.0,110.0 276.0,111.0 276.9,112.0 277.6,113.0 278.3,114.0 279.0,115.0 279.6,116.0 280.2,117.0 280.8,118.0 281.4,119.0 282.0,120.0 282.6,121.0 283.3,122.0 284.0,123.0 284.7,124.0 285.5,125.0 286.3,126.0 287.1,127.0 287.9,128.0 288.7,129.0 289.5,130.0 290.2,131.0 290.9,132.0 291.5,133.0 292.1,134.0 292.6,135.0 293.0,136.0 293.5,137.0 293.9,138.0 294.3,139.0 294.7,140.0 295.0,141.0 319.0,141.0 318.4,140.0 317.9,139.0 317.3,138.0 316.8,137.0 316.2,136.0 315.6,135.0 315.1,134.0 314.5,133.0 313.9,132.0 313.4,131.0 312.9,130.0 312.3,129.0 311.8,128.0 311.2,127.0 310.7,126.0 310.1,125.0 309.5,124.0 308.9,123.0 308.3,122.0 307.6,121.0 306.8,120.0 306.1,119.0 305.2,118.0 304.4,117.0 303.6,116.0 302.7,115.0 301.9,114.0 301.1,113.0 300.4,112.0 299.7,111.0 299.1,110.0 298.4,109.0 297.7,108.0 297.1,107.0 296.4,106.0 295.7,105.0 295.0,104.0 294.2,103.0 293.4,102.0 292.6,101.0 291.8,100.0 290.9,99.0 290.1,98.0 289.3,97.0 288.6,96.0 287.9,95.0 287.2,94.0 286.5,93.0 285.9,92.0 285.2,91.0 284.7,90.0 284.1,89.0 283.6,88.0 283.2,87.0 282.9,86.0 282.5,85.0 282.2,84.0 281.9,83.0 281.6,82.0 281.4,81.0 281.2,80.0 281.1,79.0 281.0,78.0 281.0,77.0 281.0,76.0 281.0,75.0 281.0,74.0 281.0,73.0 281.0,72.0 281.0,71.0 281.0,70.0 281.0,69.0 281.0,68.0 281.0,67.0 281.0,66.0 281.0,65.0 281.0,64.0 281.0,63.0 281.3,62.0 281.7,61.0 282.1,60.0 282.5,59.0 282.7,58.0 282.7,57.0 282.6,56.0 282.4,55.0 282.2,54.0 282.0,53.0 281.8,52.0 281.6,51.0 281.4,50.0 281.3,49.0 281.1,48.0 281.0,47.0 280.8,46.0 280.7,45.0 280.6,44.0 280.4,43.0 280.3,42.0 280.1,41.0 279.9,40.0 279.7,39.0 279.6,38.0 279.5,37.0 279.5,36.0 279.6,35.0 279.9,34.0 280.3,33.0 280.7,32.0 281.3,31.0 281.9,30.0 282.5,29.0 283.4,28.0 284.7,27.0 286.3,26.0 288.0,25.0 289.7,24.0 291.2,23.0 292.5,22.0 293.5,21.0 294.5,20.0 295.3,19.0 296.2,18.0 297.0,17.0 297.7,16.0 298.5,15.0 299.3,14.0 300.1,13.0 300.8,12.0 301.6,11.0 302.2,10.0 302.8,9.0 303.2,8.0 303.6,7.0 304.0,6.0 304.4,5.0 304.7,4.0 305.0,3.0 305.2,2.0 305.4,1.0 305.5,0.0" fill="rgb(69,69,69)"/>
<path d="M272,57.5 L290.8,63.4 L270.5,70" fill="none" stroke="rgb(69,69,69)" stroke-width="9" stroke-linecap="round" stroke-linejoin="round"/>
<polygon points="287.6,0.0 287.6,1.0 287.6,2.0 287.5,3.0 287.4,4.0 287.3,5.0 287.2,6.0 287.0,7.0 286.9,8.0 286.7,9.0 286.2,10.0 285.4,11.0 284.5,12.0 283.4,13.0 282.3,14.0 281.1,15.0 279.7,16.0 278.1,17.0 276.2,18.0 274.2,19.0 272.3,20.0 270.5,21.0 269.0,22.0 267.6,23.0 266.3,24.0 264.9,25.0 263.7,26.0 262.7,27.0 261.8,28.0 261.2,29.0 260.8,30.0 260.3,31.0 260.0,32.0 259.6,33.0 259.4,34.0 259.2,35.0 259.1,36.0 259.1,37.0 259.1,38.0 259.1,39.0 259.1,40.0 259.1,41.0 259.1,42.0 259.1,43.0 259.1,44.0 259.1,45.0 259.0,46.0 258.9,47.0 258.8,48.0 258.7,49.0 258.6,50.0 258.6,51.0 258.5,52.0 258.5,53.0 258.5,54.0 258.4,55.0 258.4,56.0 258.4,57.0 258.3,58.0 258.3,59.0 258.2,60.0 258.2,61.0 258.1,62.0 258.0,63.0 258.0,64.0 257.8,65.0 257.7,66.0 257.6,67.0 257.5,68.0 257.5,69.0 257.6,70.0 257.7,71.0 257.9,72.0 258.2,73.0 258.5,74.0 258.8,75.0 259.2,76.0 259.5,77.0 259.8,78.0 260.2,79.0 260.5,80.0 260.9,81.0 261.3,82.0 261.7,83.0 262.1,84.0 262.5,85.0 263.0,86.0 263.5,87.0 264.0,88.0 264.6,89.0 265.3,90.0 265.9,91.0 266.6,92.0 267.2,93.0 267.8,94.0 268.4,95.0 268.9,96.0 269.4,97.0 269.9,98.0 270.3,99.0 270.8,100.0 271.3,101.0 271.8,102.0 272.3,103.0 272.9,104.0 273.6,105.0 274.3,106.0 275.1,107.0 276.0,108.0 276.9,109.0 277.8,110.0 278.6,111.0 279.4,112.0 280.1,113.0 280.8,114.0 281.5,115.0 282.1,116.0 282.7,117.0 283.3,118.0 283.9,119.0 284.5,120.0 285.1,121.0 285.8,122.0 286.5,123.0 287.2,124.0 288.0,125.0 288.8,126.0 289.6,127.0 290.3,128.0 291.1,129.0 291.9,130.0 292.6,131.0 293.3,132.0 294.0,133.0 294.6,134.0 295.1,135.0 295.7,136.0 296.2,137.0 296.7,138.0 297.1,139.0 297.6,140.0 298.0,141.0 316.5,141.0 316.0,140.0 315.4,139.0 314.8,138.0 314.3,137.0 313.7,136.0 313.1,135.0 312.6,134.0 312.0,133.0 311.4,132.0 310.8,131.0 310.2,130.0 309.7,129.0 309.1,128.0 308.5,127.0 307.9,126.0 307.2,125.0 306.6,124.0 306.0,123.0 305.3,122.0 304.6,121.0 303.8,120.0 303.0,119.0 302.2,118.0 301.4,117.0 300.5,116.0 299.7,115.0 298.9,114.0 298.1,113.0 297.4,112.0 296.8,111.0 296.1,110.0 295.5,109.0 294.9,108.0 294.3,107.0 293.6,106.0 292.9,105.0 292.2,104.0 291.4,103.0 290.5,102.0 289.6,101.0 288.6,100.0 287.7,99.0 286.7,98.0 285.9,97.0 285.1,96.0 284.4,95.0 283.7,94.0 283.1,93.0 282.5,92.0 281.9,91.0 281.4,90.0 280.9,89.0 280.4,88.0 280.1,87.0 279.8,86.0 279.5,85.0 279.3,84.0 279.0,83.0 278.8,82.0 278.6,81.0 278.4,80.0 278.3,79.0 278.2,78.0 278.2,77.0 278.1,76.0 278.1,75.0 278.1,74.0 278.1,73.0 278.0,72.0 278.0,71.0 278.0,70.0 278.0,69.0 278.0,68.0 278.0,67.0 278.0,66.0 278.0,65.0 278.0,64.0 278.0,63.0 278.3,62.0 278.6,61.0 279.1,60.0 279.4,59.0 279.6,58.0 279.7,57.0 279.6,56.0 279.6,55.0 279.5,54.0 279.4,53.0 279.3,52.0 279.2,51.0 279.1,50.0 278.9,49.0 278.7,48.0 278.4,47.0 278.1,46.0 277.9,45.0 277.7,44.0 277.5,43.0 277.4,42.0 277.3,41.0 277.3,40.0 277.2,39.0 277.1,38.0 277.1,37.0 277.1,36.0 277.2,35.0 277.5,34.0 277.8,33.0 278.3,32.0 278.8,31.0 279.3,30.0 279.9,29.0 280.8,28.0 282.1,27.0 283.6,26.0 285.3,25.0 287.0,24.0 288.6,23.0 289.8,22.0 290.8,21.0 291.7,20.0 292.5,19.0 293.2,18.0 294.0,17.0 294.7,16.0 295.5,15.0 296.3,14.0 297.2,13.0 298.0,12.0 298.8,11.0 299.6,10.0 300.2,9.0 300.6,8.0 301.0,7.0 301.4,6.0 301.8,5.0 302.2,4.0 302.4,3.0 302.7,2.0 302.8,1.0 302.9,0.0" fill="rgb(97,97,97)"/>
<path d="M272,57.5 L290.8,63.4 L270.5,70" fill="none" stroke="rgb(97,97,97)" stroke-width="7.5" stroke-linecap="round" stroke-linejoin="round"/>
<polygon points="289.8,0.0 289.8,1.0 289.7,2.0 289.7,3.0 289.6,4.0 289.4,5.0 289.3,6.0 289.1,7.0 288.9,8.0 288.6,9.0 288.1,10.0 287.3,11.0 286.2,12.0 285.1,13.0 283.9,14.0 282.8,15.0 281.6,16.0 280.4,17.0 279.0,18.0 277.6,19.0 276.2,20.0 274.8,21.0 273.5,22.0 272.2,23.0 270.8,24.0 269.3,25.0 268.0,26.0 266.8,27.0 265.8,28.0 265.0,29.0 264.4,30.0 263.8,31.0 263.3,32.0 262.9,33.0 262.5,34.0 262.2,35.0 262.1,36.0 262.1,37.0 262.2,38.0 262.3,39.0 262.5,40.0 262.6,41.0 262.7,42.0 262.8,43.0 262.8,44.0 262.8,45.0 262.8,46.0 262.8,47.0 262.8,48.0 262.8,49.0 262.8,50.0 262.8,51.0 262.8,52.0 262.7,53.0 262.7,54.0 262.6,55.0 262.6,56.0 262.5,57.0 262.4,58.0 262.2,59.0 261.9,60.0 261.6,61.0 261.3,62.0 261.1,63.0 260.9,64.0 260.8,65.0 260.7,66.0 260.6,67.0 260.5,68.0 260.5,69.0 260.6,70.0 260.7,71.0 260.8,72.0 261.1,73.0 261.3,74.0 261.6,75.0 261.9,76.0 262.1,77.0 262.4,78.0 262.7,79.0 263.1,80.0 263.4,81.0 263.8,82.0 264.3,83.0 264.7,84.0 265.2,85.0 265.6,86.0 266.1,87.0 266.6,88.0 267.1,89.0 267.6,90.0 268.1,91.0 268.7,92.0 269.2,93.0 269.8,94.0 270.4,95.0 271.0,96.0 271.6,97.0 272.3,98.0 272.9,99.0 273.6,100.0 274.3,101.0 275.0,102.0 275.7,103.0 276.4,104.0 277.1,105.0 277.8,106.0 278.5,107.0 279.2,108.0 279.9,109.0 280.6,110.0 281.3,111.0 282.0,112.0 282.6,113.0 283.3,114.0 283.9,115.0 284.5,116.0 285.1,117.0 285.7,118.0 286.4,119.0 287.0,120.0 287.6,121.0 288.3,122.0 288.9,123.0 289.6,124.0 290.4,125.0 291.1,126.0 291.8,127.0 292.6,128.0 293.3,129.0 294.0,130.0 294.7,131.0 295.3,132.0 296.0,133.0 296.6,134.0 297.1,135.0 297.6,136.0 298.2,137.0 298.6,138.0 299.1,139.0 299.6,140.0 300.0,141.0 314.5,141.0 314.0,140.0 313.4,139.0 312.9,138.0 312.3,137.0 311.7,136.0 311.2,135.0 310.6,134.0 310.0,133.0 309.3,132.0 308.7,131.0 308.1,130.0 307.5,129.0 306.8,128.0 306.2,127.0 305.5,126.0 304.9,125.0 304.2,124.0 303.5,123.0 302.8,122.0 302.1,121.0 301.3,120.0 300.5,119.0 299.7,118.0 298.9,117.0 298.1,116.0 297.3,115.0 296.5,114.0 295.7,113.0 294.9,112.0 294.1,111.0 293.3,110.0 292.6,109.0 291.8,108.0 291.0,107.0 290.3,106.0 289.5,105.0 288.7,104.0 287.9,103.0 287.0,102.0 286.1,101.0 285.2,100.0 284.4,99.0 283.5,98.0 282.7,97.0 282.0,96.0 281.4,95.0 280.8,94.0 280.2,93.0 279.7,92.0 279.2,91.0 278.7,90.0 278.2,89.0 277.8,88.0 277.5,87.0 277.2,86.0 276.9,85.0 276.6,84.0 276.3,83.0 276.1,82.0 275.9,81.0 275.7,80.0 275.6,79.0 275.5,78.0 275.5,77.0 275.6,76.0 275.7,75.0 275.8,74.0 275.9,73.0 276.1,72.0 276.2,71.0 276.3,70.0 276.4,69.0 276.4,68.0 276.4,67.0 276.4,66.0 276.5,65.0 276.5,64.0 276.5,63.0 276.7,62.0 276.9,61.0 277.2,60.0 277.4,59.0 277.5,58.0 277.5,57.0 277.4,56.0 277.2,55.0 277.0,54.0 276.7,53.0 276.5,52.0 276.3,51.0 276.1,50.0 276.0,49.0 275.8,48.0 275.7,47.0 275.5,46.0 275.5,45.0 275.4,44.0 275.4,43.0 275.4,42.0 275.4,41.0 275.4,40.0 275.4,39.0 275.4,38.0 275.4,37.0 275.4,36.0 275.5,35.0 275.6,34.0 275.8,33.0 276.0,32.0 276.3,31.0 276.6,30.0 276.9,29.0 277.6,28.0 278.8,27.0 280.3,26.0 282.1,25.0 283.8,24.0 285.5,23.0 286.8,22.0 287.9,21.0 288.8,20.0 289.8,19.0 290.6,18.0 291.5,17.0 292.3,16.0 293.2,15.0 294.1,14.0 295.1,13.0 296.1,12.0 297.0,11.0 297.9,10.0 298.5,9.0 298.9,8.0 299.2,7.0 299.6,6.0 299.9,5.0 300.2,4.0 300.4,3.0 300.6,2.0 300.7,1.0 300.7,0.0" fill="rgb(128,128,128)"/>
<path d="M272,57.5 L290.8,63.4 L270.5,70" fill="none" stroke="rgb(128,128,128)" stroke-width="6.2" stroke-linecap="round" stroke-linejoin="round"/>
<polygon points="291.6,0.0 291.6,1.0 291.6,2.0 291.5,3.0 291.4,4.0 291.3,5.0 291.2,6.0 291.0,7.0 290.9,8.0 290.7,9.0 290.2,10.0 289.4,11.0 288.4,12.0 287.4,13.0 286.2,14.0 285.1,15.0 283.9,16.0 282.5,17.0 281.1,18.0 279.5,19.0 278.0,20.0 276.5,21.0 275.1,22.0 273.7,23.0 272.3,24.0 270.9,25.0 269.5,26.0 268.3,27.0 267.3,28.0 266.6,29.0 266.0,30.0 265.5,31.0 265.0,32.0 264.6,33.0 264.3,34.0 264.0,35.0 263.9,36.0 263.9,37.0 264.1,38.0 264.3,39.0 264.5,40.0 264.8,41.0 265.0,42.0 265.1,43.0 265.1,44.0 265.1,45.0 265.1,46.0 265.1,47.0 265.1,48.0 265.1,49.0 265.1,50.0 265.1,51.0 265.1,52.0 265.0,53.0 265.0,54.0 264.9,55.0 264.8,56.0 264.7,57.0 264.5,58.0 264.3,59.0 264.0,60.0 263.7,61.0 263.3,62.0 263.1,63.0 262.9,64.0 262.8,65.0 262.7,66.0 262.6,67.0 262.5,68.0 262.5,69.0 262.5,70.0 262.6,71.0 262.8,72.0 263.0,73.0 263.2,74.0 263.4,75.0 263.6,76.0 263.9,77.0 264.1,78.0 264.3,79.0 264.6,80.0 264.9,81.0 265.3,82.0 265.6,83.0 266.0,84.0 266.4,85.0 266.8,86.0 267.3,87.0 267.7,88.0 268.3,89.0 268.8,90.0 269.4,91.0 270.0,92.0 270.6,93.0 271.2,94.0 271.9,95.0 272.5,96.0 273.2,97.0 273.9,98.0 274.6,99.0 275.3,100.0 276.1,101.0 276.8,102.0 277.5,103.0 278.2,104.0 278.9,105.0 279.5,106.0 280.2,107.0 280.8,108.0 281.5,109.0 282.1,110.0 282.8,111.0 283.4,112.0 284.1,113.0 284.9,114.0 285.6,115.0 286.4,116.0 287.1,117.0 287.9,118.0 288.7,119.0 289.4,120.0 290.1,121.0 290.8,122.0 291.4,123.0 292.0,124.0 292.6,125.0 293.2,126.0 293.8,127.0 294.3,128.0 294.9,129.0 295.4,130.0 296.0,131.0 296.5,132.0 297.0,133.0 297.6,134.0 298.1,135.0 298.6,136.0 299.1,137.0 299.6,138.0 300.1,139.0 300.5,140.0 301.0,141.0 313.5,141.0 313.0,140.0 312.4,139.0 311.9,138.0 311.3,137.0 310.8,136.0 310.2,135.0 309.6,134.0 308.9,133.0 308.3,132.0 307.7,131.0 307.0,130.0 306.3,129.0 305.6,128.0 304.9,127.0 304.2,126.0 303.5,125.0 302.8,124.0 302.0,123.0 301.3,122.0 300.6,121.0 299.8,120.0 299.0,119.0 298.2,118.0 297.4,117.0 296.6,116.0 295.8,115.0 295.0,114.0 294.2,113.0 293.4,112.0 292.6,111.0 291.8,110.0 291.0,109.0 290.2,108.0 289.4,107.0 288.6,106.0 287.8,105.0 287.0,104.0 286.2,103.0 285.3,102.0 284.5,101.0 283.6,100.0 282.7,99.0 281.9,98.0 281.1,97.0 280.4,96.0 279.8,95.0 279.2,94.0 278.5,93.0 277.9,92.0 277.3,91.0 276.8,90.0 276.3,89.0 275.9,88.0 275.6,87.0 275.4,86.0 275.2,85.0 275.1,84.0 274.9,83.0 274.8,82.0 274.7,81.0 274.6,80.0 274.5,79.0 274.5,78.0 274.5,77.0 274.6,76.0 274.7,75.0 274.9,74.0 275.0,73.0 275.2,72.0 275.3,71.0 275.4,70.0 275.5,69.0 275.5,68.0 275.5,67.0 275.5,66.0 275.5,65.0 275.5,64.0 275.5,63.0 275.6,62.0 275.8,61.0 276.1,60.0 276.3,59.0 276.4,58.0 276.4,57.0 276.2,56.0 276.0,55.0 275.8,54.0 275.5,53.0 275.2,52.0 275.0,51.0 274.8,50.0 274.6,49.0 274.4,48.0 274.3,47.0 274.1,46.0 274.0,45.0 273.9,44.0 273.9,43.0 273.8,42.0 273.8,41.0 273.8,40.0 273.7,39.0 273.7,38.0 273.7,37.0 273.7,36.0 273.8,35.0 274.0,34.0 274.3,33.0 274.6,32.0 275.0,31.0 275.4,30.0 275.9,29.0 276.6,28.0 277.6,27.0 278.9,26.0 280.3,25.0 281.8,24.0 283.2,23.0 284.4,22.0 285.5,21.0 286.6,20.0 287.6,19.0 288.6,18.0 289.6,17.0 290.6,16.0 291.5,15.0 292.5,14.0 293.5,13.0 294.5,12.0 295.5,11.0 296.3,10.0 296.9,9.0 297.3,8.0 297.6,7.0 297.9,6.0 298.2,5.0 298.4,4.0 298.6,3.0 298.8,2.0 298.9,1.0 298.9,0.0" fill="url(#clA2og)"/>
<path d="M272,57.5 L290.8,63.4 L270.5,70" fill="none" stroke="rgb(161,161,161)" stroke-width="5" stroke-linecap="round" stroke-linejoin="round"/>
<polygon points="295.6,0.0 295.6,1.0 295.5,2.0 295.5,3.0 295.4,4.0 295.2,5.0 295.1,6.0 294.9,7.0 294.7,8.0 294.5,9.0 294.0,10.0 293.3,11.0 292.4,12.0 291.3,13.0 290.2,14.0 289.1,15.0 287.8,16.0 286.2,17.0 284.4,18.0 282.4,19.0 280.5,20.0 278.7,21.0 277.1,22.0 275.6,23.0 274.0,24.0 272.5,25.0 271.1,26.0 269.8,27.0 268.8,28.0 268.1,29.0 267.6,30.0 267.2,31.0 266.7,32.0 266.4,33.0 266.1,34.0 265.9,35.0 265.8,36.0 265.8,37.0 265.9,38.0 266.1,39.0 266.4,40.0 266.7,41.0 266.9,42.0 267.1,43.0 267.3,44.0 267.4,45.0 267.5,46.0 267.7,47.0 267.8,48.0 267.8,49.0 267.9,50.0 267.9,51.0 267.9,52.0 267.9,53.0 267.9,54.0 267.9,55.0 267.9,56.0 267.9,57.0 267.9,58.0 267.8,59.0 267.7,60.0 267.5,61.0 267.3,62.0 267.1,63.0 266.9,64.0 266.7,65.0 266.4,66.0 266.2,67.0 266.0,68.0 266.0,69.0 266.0,70.0 266.1,71.0 266.1,72.0 266.2,73.0 266.3,74.0 266.4,75.0 266.5,76.0 266.6,77.0 266.7,78.0 266.9,79.0 267.0,80.0 267.2,81.0 267.4,82.0 267.6,83.0 267.8,84.0 268.1,85.0 268.4,86.0 268.7,87.0 269.3,88.0 270.0,89.0 270.8,90.0 271.7,91.0 272.6,92.0 273.6,93.0 274.5,94.0 275.3,95.0 276.1,96.0 276.9,97.0 277.8,98.0 278.6,99.0 279.4,100.0 280.2,101.0 280.9,102.0 281.6,103.0 282.3,104.0 282.9,105.0 283.5,106.0 284.0,107.0 284.5,108.0 285.0,109.0 285.5,110.0 286.0,111.0 286.5,112.0 287.1,113.0 287.8,114.0 288.4,115.0 289.1,116.0 289.9,117.0 290.6,118.0 291.3,119.0 292.0,120.0 292.6,121.0 293.2,122.0 293.8,123.0 294.3,124.0 294.9,125.0 295.4,126.0 295.9,127.0 296.4,128.0 296.9,129.0 297.4,130.0 297.8,131.0 298.3,132.0 298.8,133.0 299.4,134.0 299.9,135.0 300.4,136.0 300.9,137.0 301.4,138.0 302.0,139.0 302.5,140.0 303.0,141.0 312.0,141.0 311.5,140.0 311.0,139.0 310.5,138.0 309.9,137.0 309.3,136.0 308.7,135.0 308.1,134.0 307.4,133.0 306.7,132.0 305.9,131.0 305.1,130.0 304.2,129.0 303.3,128.0 302.5,127.0 301.6,126.0 300.7,125.0 299.9,124.0 299.1,123.0 298.3,122.0 297.6,121.0 296.9,120.0 296.2,119.0 295.6,118.0 295.0,117.0 294.3,116.0 293.7,115.0 292.9,114.0 292.2,113.0 291.3,112.0 290.3,111.0 289.3,110.0 288.2,109.0 287.0,108.0 285.9,107.0 284.8,106.0 283.7,105.0 282.8,104.0 281.9,103.0 280.9,102.0 280.0,101.0 279.1,100.0 278.2,99.0 277.4,98.0 276.8,97.0 276.3,96.0 275.9,95.0 275.7,94.0 275.5,93.0 275.4,92.0 275.2,91.0 275.1,90.0 275.0,89.0 274.8,88.0 274.7,87.0 274.5,86.0 274.3,85.0 274.1,84.0 273.8,83.0 273.6,82.0 273.3,81.0 273.1,80.0 273.0,79.0 272.9,78.0 272.9,77.0 273.0,76.0 273.1,75.0 273.3,74.0 273.5,73.0 273.7,72.0 273.8,71.0 273.9,70.0 274.0,69.0 274.0,68.0 274.0,67.0 274.0,66.0 274.0,65.0 274.0,64.0 274.0,63.0 274.0,62.0 274.0,61.0 274.1,60.0 274.1,59.0 274.1,58.0 274.1,57.0 274.0,56.0 273.9,55.0 273.8,54.0 273.6,53.0 273.4,52.0 273.3,51.0 273.1,50.0 272.9,49.0 272.7,48.0 272.5,47.0 272.2,46.0 272.0,45.0 271.9,44.0 271.7,43.0 271.6,42.0 271.5,41.0 271.3,40.0 271.2,39.0 271.2,38.0 271.1,37.0 271.1,36.0 271.3,35.0 271.7,34.0 272.2,33.0 272.8,32.0 273.5,31.0 274.2,30.0 274.9,29.0 275.8,28.0 276.9,27.0 278.1,26.0 279.5,25.0 280.8,24.0 281.9,23.0 282.9,22.0 283.7,21.0 284.4,20.0 285.0,19.0 285.6,18.0 286.2,17.0 286.8,16.0 287.4,15.0 288.1,14.0 289.0,13.0 289.8,12.0 290.6,11.0 291.3,10.0 291.8,9.0 292.0,8.0 292.2,7.0 292.4,6.0 292.5,5.0 292.7,4.0 292.8,3.0 292.8,2.0 292.9,1.0 292.9,0.0" fill="rgb(209,209,209)"/>
<path d="M272,57.5 L290.8,63.4 L270.5,70" fill="none" stroke="rgb(209,209,209)" stroke-width="3.2" stroke-linecap="round" stroke-linejoin="round"/>
</g></g>
<line x1="112.40" y1="54.40" x2="112.40" y2="137.00" stroke="#fff" stroke-width="0.9" stroke-dasharray="0.9 0.9"/>
<line x1="136.20" y1="52.90" x2="136.20" y2="137.00" stroke="#fff" stroke-width="0.9" stroke-dasharray="0.9 0.9"/>
<line x1="270.90" y1="48.30" x2="270.90" y2="137.00" stroke="#fff" stroke-width="0.9" stroke-dasharray="0.9 0.9"/>
<line x1="291.90" y1="48.30" x2="291.90" y2="137.00" stroke="#fff" stroke-width="0.9" stroke-dasharray="0.9 0.9"/>
<text x="48.80" y="22.90" font-family="Liberation Sans" font-size="14.68" fill="#fff" font-weight="bold" stroke="#fff" stroke-width="0.22" textLength="27.00" lengthAdjust="spacingAndGlyphs" >NCA</text>
<text x="207.10" y="22.90" font-family="Liberation Sans" font-size="14.53" fill="#fff" font-weight="bold" stroke="#fff" stroke-width="0.22" textLength="45.20" lengthAdjust="spacingAndGlyphs" >MNCA1</text>
<text x="144.70" y="70.20" font-family="Liberation Sans" font-size="6.6" fill="#fff" font-weight="bold" stroke="#fff" stroke-width="0.22" textLength="8.30" lengthAdjust="spacingAndGlyphs" >H3</text>
<text x="144.50" y="79.40" font-family="Liberation Sans" font-size="6.6" fill="#fff" font-weight="bold" stroke="#fff" stroke-width="0.22" textLength="26.80" lengthAdjust="spacingAndGlyphs" >(~4.3 V)</text>
<text x="86.30" y="91.20" font-family="Liberation Sans" font-size="6.6" fill="#fff" font-weight="bold" stroke="#fff" stroke-width="0.22" textLength="8.70" lengthAdjust="spacingAndGlyphs" >H2</text>
<text x="68.80" y="100.30" font-family="Liberation Sans" font-size="6.6" fill="#fff" font-weight="bold" stroke="#fff" stroke-width="0.22" textLength="27.00" lengthAdjust="spacingAndGlyphs" >(~4.0 V)</text>
<text x="80.50" y="129.30" font-family="Liberation Sans" font-size="6.6" fill="#fff" font-weight="bold" stroke="#fff" stroke-width="0.22" textLength="30.00" lengthAdjust="spacingAndGlyphs" >Δθ=0.32°</text>
<line x1="143.50" y1="72.50" x2="138.00" y2="67.80" stroke="#fff" stroke-width="0.6" />
<line x1="96.00" y1="88.00" x2="103.50" y2="81.00" stroke="#fff" stroke-width="0.6" />
<text x="300.30" y="66.80" font-family="Liberation Sans" font-size="6.6" fill="#fff" font-weight="bold" stroke="#fff" stroke-width="0.22" textLength="7.70" lengthAdjust="spacingAndGlyphs" >H3</text>
<text x="300.30" y="76.20" font-family="Liberation Sans" font-size="6.6" fill="#fff" font-weight="bold" stroke="#fff" stroke-width="0.22" textLength="25.60" lengthAdjust="spacingAndGlyphs" >(~4.3 V)</text>
<text x="246.80" y="83.60" font-family="Liberation Sans" font-size="6.6" fill="#fff" font-weight="bold" stroke="#fff" stroke-width="0.22" textLength="8.70" lengthAdjust="spacingAndGlyphs" >H2</text>
<text x="229.00" y="92.80" font-family="Liberation Sans" font-size="6.6" fill="#fff" font-weight="bold" stroke="#fff" stroke-width="0.22" textLength="26.50" lengthAdjust="spacingAndGlyphs" >(~4.0 V)</text>
<text x="235.50" y="129.30" font-family="Liberation Sans" font-size="6.6" fill="#fff" font-weight="bold" stroke="#fff" stroke-width="0.22" textLength="24.50" lengthAdjust="spacingAndGlyphs" >Δθ=0.3°</text>
<line x1="299.00" y1="69.00" x2="294.00" y2="65.00" stroke="#fff" stroke-width="0.6" />
<line x1="256.50" y1="80.50" x2="264.00" y2="75.00" stroke="#fff" stroke-width="0.6" />
<line x1="112.90" y1="127.20" x2="135.70" y2="127.20" stroke="#fff" stroke-width="0.7" />
<path d="M123.3,127.2 l-3,-1.4 v2.8 z M125.3,127.2 l3,-1.4 v2.8 z" fill="#fff"/>
<line x1="271.40" y1="127.20" x2="291.40" y2="127.20" stroke="#fff" stroke-width="0.7" />
<path d="M280.4,127.2 l-3,-1.4 v2.8 z M282.4,127.2 l3,-1.4 v2.8 z" fill="#fff"/>
<line x1="43.50" y1="137.20" x2="43.50" y2="139.30" stroke="#222" stroke-width="0.7" />
<line x1="50.80" y1="137.20" x2="50.80" y2="139.30" stroke="#222" stroke-width="0.7" />
<line x1="58.09" y1="137.20" x2="58.09" y2="139.30" stroke="#222" stroke-width="0.7" />
<line x1="65.39" y1="137.20" x2="65.39" y2="139.30" stroke="#222" stroke-width="0.7" />
<line x1="72.68" y1="137.20" x2="72.68" y2="139.30" stroke="#222" stroke-width="0.7" />
<line x1="79.97" y1="137.20" x2="79.97" y2="139.30" stroke="#222" stroke-width="0.7" />
<line x1="87.27" y1="137.20" x2="87.27" y2="139.30" stroke="#222" stroke-width="0.7" />
<line x1="94.56" y1="137.20" x2="94.56" y2="139.30" stroke="#222" stroke-width="0.7" />
<line x1="101.86" y1="137.20" x2="101.86" y2="139.30" stroke="#222" stroke-width="0.7" />
<line x1="109.16" y1="137.20" x2="109.16" y2="139.30" stroke="#222" stroke-width="0.7" />
<line x1="116.45" y1="137.20" x2="116.45" y2="139.30" stroke="#222" stroke-width="0.7" />
<line x1="123.75" y1="137.20" x2="123.75" y2="139.30" stroke="#222" stroke-width="0.7" />
<line x1="131.04" y1="137.20" x2="131.04" y2="139.30" stroke="#222" stroke-width="0.7" />
<line x1="138.34" y1="137.20" x2="138.34" y2="139.30" stroke="#222" stroke-width="0.7" />
<line x1="145.63" y1="137.20" x2="145.63" y2="139.30" stroke="#222" stroke-width="0.7" />
<line x1="152.93" y1="137.20" x2="152.93" y2="139.30" stroke="#222" stroke-width="0.7" />
<line x1="160.22" y1="137.20" x2="160.22" y2="139.30" stroke="#222" stroke-width="0.7" />
<line x1="167.52" y1="137.20" x2="167.52" y2="139.30" stroke="#222" stroke-width="0.7" />
<line x1="174.81" y1="137.20" x2="174.81" y2="139.30" stroke="#222" stroke-width="0.7" />
<line x1="182.10" y1="137.20" x2="182.10" y2="139.30" stroke="#222" stroke-width="0.7" />
<line x1="189.40" y1="137.20" x2="189.40" y2="139.30" stroke="#222" stroke-width="0.7" />
<text x="43.50" y="148.60" font-family="Liberation Sans" font-size="8.5" fill="#000" font-weight="bold" stroke="#000" stroke-width="0.22" text-anchor="middle" >17</text>
<text x="79.97" y="148.60" font-family="Liberation Sans" font-size="8.5" fill="#000" font-weight="bold" stroke="#000" stroke-width="0.22" text-anchor="middle" >17.5</text>
<text x="116.45" y="148.60" font-family="Liberation Sans" font-size="8.5" fill="#000" font-weight="bold" stroke="#000" stroke-width="0.22" text-anchor="middle" >18</text>
<text x="152.93" y="148.60" font-family="Liberation Sans" font-size="8.5" fill="#000" font-weight="bold" stroke="#000" stroke-width="0.22" text-anchor="middle" >18.5</text>
<text x="189.40" y="148.60" font-family="Liberation Sans" font-size="8.5" fill="#000" font-weight="bold" stroke="#000" stroke-width="0.22" text-anchor="middle" >19</text>
<line x1="203.50" y1="137.20" x2="203.50" y2="139.30" stroke="#222" stroke-width="0.7" />
<line x1="210.86" y1="137.20" x2="210.86" y2="139.30" stroke="#222" stroke-width="0.7" />
<line x1="218.22" y1="137.20" x2="218.22" y2="139.30" stroke="#222" stroke-width="0.7" />
<line x1="225.58" y1="137.20" x2="225.58" y2="139.30" stroke="#222" stroke-width="0.7" />
<line x1="232.94" y1="137.20" x2="232.94" y2="139.30" stroke="#222" stroke-width="0.7" />
<line x1="240.30" y1="137.20" x2="240.30" y2="139.30" stroke="#222" stroke-width="0.7" />
<line x1="247.66" y1="137.20" x2="247.66" y2="139.30" stroke="#222" stroke-width="0.7" />
<line x1="255.02" y1="137.20" x2="255.02" y2="139.30" stroke="#222" stroke-width="0.7" />
<line x1="262.38" y1="137.20" x2="262.38" y2="139.30" stroke="#222" stroke-width="0.7" />
<line x1="269.74" y1="137.20" x2="269.74" y2="139.30" stroke="#222" stroke-width="0.7" />
<line x1="277.10" y1="137.20" x2="277.10" y2="139.30" stroke="#222" stroke-width="0.7" />
<line x1="284.46" y1="137.20" x2="284.46" y2="139.30" stroke="#222" stroke-width="0.7" />
<line x1="291.82" y1="137.20" x2="291.82" y2="139.30" stroke="#222" stroke-width="0.7" />
<line x1="299.18" y1="137.20" x2="299.18" y2="139.30" stroke="#222" stroke-width="0.7" />
<line x1="306.54" y1="137.20" x2="306.54" y2="139.30" stroke="#222" stroke-width="0.7" />
<line x1="313.90" y1="137.20" x2="313.90" y2="139.30" stroke="#222" stroke-width="0.7" />
<line x1="321.26" y1="137.20" x2="321.26" y2="139.30" stroke="#222" stroke-width="0.7" />
<line x1="328.62" y1="137.20" x2="328.62" y2="139.30" stroke="#222" stroke-width="0.7" />
<line x1="335.98" y1="137.20" x2="335.98" y2="139.30" stroke="#222" stroke-width="0.7" />
<line x1="343.34" y1="137.20" x2="343.34" y2="139.30" stroke="#222" stroke-width="0.7" />
<line x1="350.70" y1="137.20" x2="350.70" y2="139.30" stroke="#222" stroke-width="0.7" />
<text x="203.50" y="148.60" font-family="Liberation Sans" font-size="8.5" fill="#000" font-weight="bold" stroke="#000" stroke-width="0.22" text-anchor="middle" >17</text>
<text x="240.30" y="148.60" font-family="Liberation Sans" font-size="8.5" fill="#000" font-weight="bold" stroke="#000" stroke-width="0.22" text-anchor="middle" >17.5</text>
<text x="277.10" y="148.60" font-family="Liberation Sans" font-size="8.5" fill="#000" font-weight="bold" stroke="#000" stroke-width="0.22" text-anchor="middle" >18</text>
<text x="313.90" y="148.60" font-family="Liberation Sans" font-size="8.5" fill="#000" font-weight="bold" stroke="#000" stroke-width="0.22" text-anchor="middle" >18.5</text>
<text x="350.70" y="148.60" font-family="Liberation Sans" font-size="8.5" fill="#000" font-weight="bold" stroke="#000" stroke-width="0.22" text-anchor="middle" >19</text>
<text x="117.20" y="160.60" font-family="Liberation Sans" font-size="8.5" fill="#000" font-weight="bold" stroke="#000" stroke-width="0.22" text-anchor="middle" textLength="64.50" lengthAdjust="spacingAndGlyphs" >2Theta (degree)</text>
<text x="278.00" y="160.60" font-family="Liberation Sans" font-size="8.5" fill="#000" font-weight="bold" stroke="#000" stroke-width="0.22" text-anchor="middle" textLength="64.50" lengthAdjust="spacingAndGlyphs" >2Theta (degree)</text>
<text x="354.60" y="12.10" font-family="Liberation Serif" font-size="10.5" fill="#000" font-weight="bold" >(B)</text>
<defs>
<linearGradient id="bTopDark" x1="0" y1="0" x2="1" y2="0">
 <stop offset="0" stop-color="#2b2b2b"/>
 <stop offset="0.45" stop-color="#323232"/>
 <stop offset="0.8" stop-color="#3a3a3a"/>
 <stop offset="0.95" stop-color="#444"/>
 <stop offset="1" stop-color="#4a4a4a"/>
</linearGradient>
<linearGradient id="bTopGrey" x1="0" y1="1" x2="1" y2="0">
 <stop offset="0" stop-color="#868686"/>
 <stop offset="1" stop-color="#a2a2a2"/>
</linearGradient>
<pattern id="latt" patternUnits="userSpaceOnUse" width="20" height="2.1" patternTransform="rotate(-25)">
 <rect width="20" height="2.1" fill="#303030"/>
 <rect y="0.3" width="20" height="1.0" fill="#808080"/>
</pattern>
<filter id="grain" x="0" y="0" width="1" height="1" color-interpolation-filters="sRGB">
 <feTurbulence type="fractalNoise" baseFrequency="0.9" numOctaves="1" seed="7" result="n"/>
 <feColorMatrix in="n" type="matrix" values="0 0 0 0 0.5  0 0 0 0 0.5  0 0 0 0 0.5  0.9 0 0 0 -0.45" result="nn"/>
 <feComposite in="nn" in2="SourceGraphic" operator="in" result="nc"/>
 <feBlend in="SourceGraphic" in2="nc" mode="overlay"/>
</filter>
</defs>
<rect x="371.10" y="4.40" width="159.40" height="77.60" fill="url(#bTopDark)" />
<defs><clipPath id="clBtop"><rect x="371.1" y="4.4" width="159.4" height="77.6"/></clipPath><filter id="bBl" x="-0.3" y="-0.3" width="1.6" height="1.6"><feGaussianBlur stdDeviation="5"/></filter><filter id="bBl2" x="-0.3" y="-0.3" width="1.6" height="1.6"><feGaussianBlur stdDeviation="0.5"/></filter></defs>
<g clip-path="url(#clBtop)">
<path d="M478,0 L500,0 C503,25 504,55 500,90 L478,90 Z" fill="#484848" filter="url(#bBl)"/>
<path d="M496.2,0 C499.5,25 500,55 496.2,90 L535,90 L535,0 Z" fill="url(#bTopGrey)" filter="url(#bBl2)"/>
</g>
<line x1="371.10" y1="4.60" x2="530.50" y2="4.60" stroke="#777" stroke-width="0.5" />
<rect x="468.20" y="13.40" width="11.70" height="10.40" fill="none" stroke="#ddd" stroke-width="0.6" stroke-dasharray="0.8 0.8"/>
<rect x="394.10" y="34.00" width="11.00" height="9.70" fill="none" stroke="#ddd" stroke-width="0.6" stroke-dasharray="0.8 0.8"/>
<text x="459.70" y="32.60" font-family="Liberation Sans" font-size="8.28" fill="#fff" font-weight="bold" stroke="#fff" stroke-width="0.22" textLength="31.60" lengthAdjust="spacingAndGlyphs" >Surface</text>
<text x="393.70" y="52.10" font-family="Liberation Sans" font-size="8.43" fill="#fff" font-weight="bold" stroke="#fff" stroke-width="0.22" textLength="15.50" lengthAdjust="spacingAndGlyphs" >Bulk</text>
<text x="383.20" y="69.20" font-family="Liberation Sans" font-size="8.43" fill="#fff" font-weight="bold" stroke="#fff" stroke-width="0.22" textLength="25.00" lengthAdjust="spacingAndGlyphs" >50 nm</text>
<line x1="381.50" y1="71.60" x2="452.90" y2="71.60" stroke="#fff" stroke-width="1.1" />
<defs><clipPath id="clL371"><rect x="371.2" y="84.9" width="78.40000000000003" height="77.69999999999999"/></clipPath></defs>
<g clip-path="url(#clL371)"><g filter="url(#grain)">
<rect x="371.2" y="84.9" width="78.40000000000003" height="77.69999999999999" fill="#343434"/>
<path d="M311.52,101.01L456.53,33.39M312.40,102.89L457.41,35.27M313.28,104.78L458.29,37.16M314.16,106.66L459.17,39.04M315.04,108.55L460.05,40.93M315.92,110.43L460.93,42.81M316.80,112.32L461.81,44.70M317.68,114.20L462.69,46.58M318.56,116.09L463.57,48.47M319.44,117.97L464.44,50.35M320.31,119.86L465.32,52.24M321.19,121.74L466.20,54.12M322.07,123.63L467.08,56.01M322.95,125.51L467.96,57.89M323.83,127.40L468.84,59.78M324.71,129.28L469.72,61.66M325.59,131.17L470.60,63.55M326.47,133.05L471.48,65.43M327.35,134.94L472.36,67.32M328.23,136.82L473.24,69.20M329.10,138.71L474.11,71.09M329.98,140.59L474.99,72.97M330.86,142.48L475.87,74.86M331.74,144.36L476.75,76.74M332.62,146.25L477.63,78.63M333.50,148.13L478.51,80.51M334.38,150.02L479.39,82.40M335.26,151.90L480.27,84.29M336.14,153.79L481.15,86.17M337.02,155.67L482.03,88.06M337.90,157.56L482.90,89.94M338.77,159.44L483.78,91.83M339.65,161.33L484.66,93.71M340.53,163.21L485.54,95.60M341.41,165.10L486.42,97.48M342.29,166.99L487.30,99.37M343.17,168.87L488.18,101.25M344.05,170.76L489.06,103.14M344.93,172.64L489.94,105.02M345.81,174.53L490.82,106.91M346.69,176.41L491.70,108.79M347.56,178.30L492.57,110.68M348.44,180.18L493.45,112.56M349.32,182.07L494.33,114.45M350.20,183.95L495.21,116.33M351.08,185.84L496.09,118.22M351.96,187.72L496.97,120.10M352.84,189.61L497.85,121.99M353.72,191.49L498.73,123.87M354.60,193.38L499.61,125.76M355.48,195.26L500.49,127.64M356.36,197.15L501.36,129.53M357.23,199.03L502.24,131.41M358.11,200.92L503.12,133.30M358.99,202.80L504.00,135.18M359.87,204.69L504.88,137.07M360.75,206.57L505.76,138.95M361.63,208.46L506.64,140.84M362.51,210.34L507.52,142.72M363.39,212.23L508.40,144.61M364.27,214.11L509.28,146.49" stroke="#7c7c7c" stroke-width="0.95" fill="none"/>
</g></g>
<text x="372.80" y="94.00" font-family="Liberation Sans" font-size="8.72" fill="#fff" font-weight="bold" stroke="#fff" stroke-width="0.22" textLength="31.50" lengthAdjust="spacingAndGlyphs" >Surface</text>
<line x1="390.3" y1="125.1" x2="405.3" y2="118.3" stroke="#ffee00" stroke-width="0.9" stroke-dasharray="1.2 0.6"/>
<path d="M407.3,117.4 l-3.4,0.2 l1.3,2.7 z" fill="#ffee00"/>
<line x1="395.1" y1="127.6" x2="411.1" y2="120.6" stroke="#e00000" stroke-width="0.9"/>
<path d="M413.1,119.7 l-3.4,0.2 l1.3,2.7 z" fill="#e00000"/>
<text x="407.0" y="116.9" font-family="Liberation Sans" font-weight="bold" font-size="9" fill="#ffee00" transform="rotate(-27 407.0 116.9)">Li slab</text>
<text x="416.7" y="124.5" font-family="Liberation Sans" font-weight="bold" font-size="9" fill="#ee0000" transform="rotate(-27 416.7 124.5)">TM slab</text>
<text x="376.70" y="154.50" font-family="Liberation Sans" font-size="9.16" fill="#fff" font-weight="bold" stroke="#fff" stroke-width="0.22" textLength="20.40" lengthAdjust="spacingAndGlyphs" >5 nm</text>
<line x1="375.70" y1="157.40" x2="412.60" y2="157.40" stroke="#ccc" stroke-width="0.7" />
<text x="419.40" y="159.90" font-family="Liberation Sans" font-size="9.01" fill="#fff" font-weight="bold" stroke="#fff" stroke-width="0.22" textLength="24.30" lengthAdjust="spacingAndGlyphs" >R-3 m</text>
<defs><clipPath id="clL452"><rect x="452.7" y="84.9" width="78.30000000000001" height="77.69999999999999"/></clipPath></defs>
<g clip-path="url(#clL452)"><g filter="url(#grain)">
<rect x="452.7" y="84.9" width="78.30000000000001" height="77.69999999999999" fill="#343434"/>
<path d="M392.97,101.01L537.98,33.39M393.85,102.89L538.86,35.27M394.73,104.78L539.74,37.16M395.61,106.66L540.62,39.04M396.49,108.55L541.50,40.93M397.37,110.43L542.38,42.81M398.25,112.32L543.26,44.70M399.13,114.20L544.14,46.58M400.01,116.09L545.02,48.47M400.89,117.97L545.89,50.35M401.76,119.86L546.77,52.24M402.64,121.74L547.65,54.12M403.52,123.63L548.53,56.01M404.40,125.51L549.41,57.89M405.28,127.40L550.29,59.78M406.16,129.28L551.17,61.66M407.04,131.17L552.05,63.55M407.92,133.05L552.93,65.43M408.80,134.94L553.81,67.32M409.68,136.82L554.69,69.20M410.55,138.71L555.56,71.09M411.43,140.59L556.44,72.97M412.31,142.48L557.32,74.86M413.19,144.36L558.20,76.74M414.07,146.25L559.08,78.63M414.95,148.13L559.96,80.51M415.83,150.02L560.84,82.40M416.71,151.90L561.72,84.29M417.59,153.79L562.60,86.17M418.47,155.67L563.48,88.06M419.35,157.56L564.35,89.94M420.22,159.44L565.23,91.83M421.10,161.33L566.11,93.71M421.98,163.21L566.99,95.60M422.86,165.10L567.87,97.48M423.74,166.99L568.75,99.37M424.62,168.87L569.63,101.25M425.50,170.76L570.51,103.14M426.38,172.64L571.39,105.02M427.26,174.53L572.27,106.91M428.14,176.41L573.15,108.79M429.01,178.30L574.02,110.68M429.89,180.18L574.90,112.56M430.77,182.07L575.78,114.45M431.65,183.95L576.66,116.33M432.53,185.84L577.54,118.22M433.41,187.72L578.42,120.10M434.29,189.61L579.30,121.99M435.17,191.49L580.18,123.87M436.05,193.38L581.06,125.76M436.93,195.26L581.94,127.64M437.81,197.15L582.81,129.53M438.68,199.03L583.69,131.41M439.56,200.92L584.57,133.30M440.44,202.80L585.45,135.18M441.32,204.69L586.33,137.07M442.20,206.57L587.21,138.95M443.08,208.46L588.09,140.84M443.96,210.34L588.97,142.72M444.84,212.23L589.85,144.61M445.72,214.11L590.73,146.49" stroke="#7c7c7c" stroke-width="0.95" fill="none"/>
</g></g>
<text x="454.30" y="94.00" font-family="Liberation Sans" font-size="8.72" fill="#fff" font-weight="bold" stroke="#fff" stroke-width="0.22" textLength="17.00" lengthAdjust="spacingAndGlyphs" >Bulk</text>
<line x1="471.8" y1="125.1" x2="486.8" y2="118.3" stroke="#ffee00" stroke-width="0.9" stroke-dasharray="1.2 0.6"/>
<path d="M488.8,117.4 l-3.4,0.2 l1.3,2.7 z" fill="#ffee00"/>
<line x1="476.6" y1="127.6" x2="492.6" y2="120.6" stroke="#e00000" stroke-width="0.9"/>
<path d="M494.6,119.7 l-3.4,0.2 l1.3,2.7 z" fill="#e00000"/>
<text x="488.5" y="116.9" font-family="Liberation Sans" font-weight="bold" font-size="9" fill="#ffee00" transform="rotate(-27 488.5 116.9)">Li slab</text>
<text x="498.2" y="124.5" font-family="Liberation Sans" font-weight="bold" font-size="9" fill="#ee0000" transform="rotate(-27 498.2 124.5)">TM slab</text>
<text x="458.20" y="154.50" font-family="Liberation Sans" font-size="9.16" fill="#fff" font-weight="bold" stroke="#fff" stroke-width="0.22" textLength="20.40" lengthAdjust="spacingAndGlyphs" >5 nm</text>
<line x1="457.20" y1="157.40" x2="494.10" y2="157.40" stroke="#ccc" stroke-width="0.7" />
<text x="500.90" y="159.90" font-family="Liberation Sans" font-size="9.01" fill="#fff" font-weight="bold" stroke="#fff" stroke-width="0.22" textLength="24.30" lengthAdjust="spacingAndGlyphs" >R-3 m</text>
<text x="531.20" y="9.40" font-family="Liberation Serif" font-size="10.5" fill="#000" font-weight="bold" >(C)</text>
<defs>
<linearGradient id="cScan" gradientUnits="userSpaceOnUse" x1="563" y1="0" x2="683" y2="0">
 <stop offset="0" stop-color="#b0b0b0"/>
 <stop offset="0.14" stop-color="#a8a8a8"/>
 <stop offset="0.17" stop-color="#585858"/>
 <stop offset="0.28" stop-color="#383838"/>
 <stop offset="0.5" stop-color="#2c2c2c"/>
 <stop offset="1" stop-color="#262626"/>
</linearGradient>
<clipPath id="clScan"><rect x="563.3" y="4" width="119.7" height="37.1"/></clipPath>
</defs>
<g clip-path="url(#clScan)">
<rect x="563.30" y="4.00" width="119.70" height="37.10" fill="#2a2a2a" />
<defs><filter id="cbl" x="-0.5" y="-0.5" width="2" height="2"><feGaussianBlur stdDeviation="2.5"/></filter><filter id="cbl2" x="-0.5" y="-0.5" width="2" height="2"><feGaussianBlur stdDeviation="0.6"/></filter></defs>
<path d="M582.1,0 C583,15 584.5,30 586.7,45 L604,45 C601,30 599,15 598,0 Z" fill="#444" filter="url(#cbl)"/>
<path d="M560,0 L582.1,0 C583,15 584.5,30 586.7,41.1 L587.5,45 L560,45 Z" fill="#b2b2b2" filter="url(#cbl2)"/>
</g>
<rect x="548.10" y="2.20" width="53.90" height="10.90" fill="#999" />
<rect x="547.30" y="1.40" width="53.90" height="10.90" fill="#fff" stroke="#888" stroke-width="0.6" />
<text x="552.1" y="9.8" font-family="Liberation Sans" font-weight="bold" font-size="6.8" fill="#1a1aff" stroke="#1a1aff" stroke-width="0.2" textLength="44.4" lengthAdjust="spacingAndGlyphs">Ni<tspan font-size="4.4">0.7</tspan>Co<tspan font-size="4.4">0.10</tspan>Mn<tspan font-size="4.4">0.10</tspan></text>
<rect x="640.20" y="2.20" width="53.70" height="10.90" fill="#999" />
<rect x="639.40" y="1.40" width="53.70" height="10.90" fill="#fff" stroke="#888" stroke-width="0.6" />
<text x="644.2" y="9.8" font-family="Liberation Sans" font-weight="bold" font-size="6.8" fill="#1a1aff" stroke="#1a1aff" stroke-width="0.2" textLength="44.2" lengthAdjust="spacingAndGlyphs">Ni<tspan font-size="4.4">0.8</tspan>Co<tspan font-size="4.4">0.10</tspan>Mn<tspan font-size="4.4">0.06</tspan></text>
<line x1="578.10" y1="22.90" x2="668.50" y2="22.90" stroke="#d8d000" stroke-width="0.8" />
<line x1="578.10" y1="21.40" x2="578.10" y2="24.40" stroke="#d8d000" stroke-width="0.6" />
<path d="M671,22.9 l-3.5,-1.6 v3.2 z" fill="#d8d000"/>
<line x1="670.50" y1="21.40" x2="670.50" y2="24.40" stroke="#d8d000" stroke-width="0.6" />
<text x="609.70" y="31.50" font-family="Liberation Sans" font-size="9.4" fill="#f0e000" font-weight="bold" stroke="#f0e000" stroke-width="0.22" textLength="20.60" lengthAdjust="spacingAndGlyphs" font-style="italic" >Scan</text>
<text x="570.90" y="51.90" font-family="Liberation Sans" font-size="8.58" fill="#ff1010" font-weight="bold" stroke="#ff1010" stroke-width="0.22" textLength="26.20" lengthAdjust="spacingAndGlyphs" >Surface</text>
<line x1="599.50" y1="49.00" x2="661.00" y2="49.00" stroke="#ff3030" stroke-width="0.6" />
<path d="M663.5,49 l-3,-1.4 v2.8 z" fill="#ff3030"/>
<text x="665.30" y="51.90" font-family="Liberation Sans" font-size="8.58" fill="#ff1010" font-weight="bold" stroke="#ff1010" stroke-width="0.22" textLength="14.60" lengthAdjust="spacingAndGlyphs" >Bulk</text>
<rect x="566.30" y="54.70" width="115.80" height="92.70" fill="none" stroke="#999" stroke-width="0.7" />
<line x1="566.30" y1="147.40" x2="566.30" y2="145.60" stroke="#444" stroke-width="0.6" />
<line x1="580.77" y1="147.40" x2="580.77" y2="146.40" stroke="#444" stroke-width="0.6" />
<line x1="595.25" y1="147.40" x2="595.25" y2="145.60" stroke="#444" stroke-width="0.6" />
<line x1="609.73" y1="147.40" x2="609.73" y2="146.40" stroke="#444" stroke-width="0.6" />
<line x1="624.20" y1="147.40" x2="624.20" y2="145.60" stroke="#444" stroke-width="0.6" />
<line x1="638.67" y1="147.40" x2="638.67" y2="146.40" stroke="#444" stroke-width="0.6" />
<line x1="653.15" y1="147.40" x2="653.15" y2="145.60" stroke="#444" stroke-width="0.6" />
<line x1="667.62" y1="147.40" x2="667.62" y2="146.40" stroke="#444" stroke-width="0.6" />
<line x1="682.10" y1="147.40" x2="682.10" y2="145.60" stroke="#444" stroke-width="0.6" />
<line x1="566.30" y1="147.40" x2="568.10" y2="147.40" stroke="#444" stroke-width="0.6" />
<line x1="566.30" y1="138.13" x2="567.30" y2="138.13" stroke="#444" stroke-width="0.6" />
<line x1="566.30" y1="128.86" x2="568.10" y2="128.86" stroke="#444" stroke-width="0.6" />
<line x1="566.30" y1="119.59" x2="567.30" y2="119.59" stroke="#444" stroke-width="0.6" />
<line x1="566.30" y1="110.32" x2="568.10" y2="110.32" stroke="#444" stroke-width="0.6" />
<line x1="566.30" y1="101.05" x2="567.30" y2="101.05" stroke="#444" stroke-width="0.6" />
<line x1="566.30" y1="91.78" x2="568.10" y2="91.78" stroke="#444" stroke-width="0.6" />
<line x1="566.30" y1="82.51" x2="567.30" y2="82.51" stroke="#444" stroke-width="0.6" />
<line x1="566.30" y1="73.24" x2="568.10" y2="73.24" stroke="#444" stroke-width="0.6" />
<line x1="566.30" y1="63.97" x2="567.30" y2="63.97" stroke="#444" stroke-width="0.6" />
<line x1="566.30" y1="54.70" x2="568.10" y2="54.70" stroke="#444" stroke-width="0.6" />
<text x="566.30" y="156.40" font-family="Liberation Sans" font-size="7.6" fill="#000" font-weight="bold" stroke="#000" stroke-width="0.22" text-anchor="middle" >0.00</text>
<text x="595.25" y="156.40" font-family="Liberation Sans" font-size="7.6" fill="#000" font-weight="bold" stroke="#000" stroke-width="0.22" text-anchor="middle" >0.04</text>
<text x="624.20" y="156.40" font-family="Liberation Sans" font-size="7.6" fill="#000" font-weight="bold" stroke="#000" stroke-width="0.22" text-anchor="middle" >0.08</text>
<text x="653.15" y="156.40" font-family="Liberation Sans" font-size="7.6" fill="#000" font-weight="bold" stroke="#000" stroke-width="0.22" text-anchor="middle" >0.12</text>
<text x="682.10" y="156.40" font-family="Liberation Sans" font-size="7.6" fill="#000" font-weight="bold" stroke="#000" stroke-width="0.22" text-anchor="middle" >0.16</text>
<text x="564.80" y="150.00" font-family="Liberation Sans" font-size="7.6" fill="#000" font-weight="bold" stroke="#000" stroke-width="0.22" text-anchor="end" >0</text>
<text x="564.80" y="131.46" font-family="Liberation Sans" font-size="7.6" fill="#000" font-weight="bold" stroke="#000" stroke-width="0.22" text-anchor="end" >20</text>
<text x="564.80" y="112.92" font-family="Liberation Sans" font-size="7.6" fill="#000" font-weight="bold" stroke="#000" stroke-width="0.22" text-anchor="end" >40</text>
<text x="564.80" y="94.38" font-family="Liberation Sans" font-size="7.6" fill="#000" font-weight="bold" stroke="#000" stroke-width="0.22" text-anchor="end" >60</text>
<text x="564.80" y="75.84" font-family="Liberation Sans" font-size="7.6" fill="#000" font-weight="bold" stroke="#000" stroke-width="0.22" text-anchor="end" >80</text>
<text x="564.80" y="57.30" font-family="Liberation Sans" font-size="7.6" fill="#000" font-weight="bold" stroke="#000" stroke-width="0.22" text-anchor="end" >100</text>
<text x="622.00" y="165.60" font-family="Liberation Sans" font-size="7.8" fill="#000" font-weight="bold" stroke="#000" stroke-width="0.22" text-anchor="middle" textLength="48.00" lengthAdjust="spacingAndGlyphs" >Distance (μm)</text>
<text x="550.20" y="138.00" font-family="Liberation Sans" font-size="8" fill="#000" font-weight="bold" stroke="#000" stroke-width="0.22" textLength="74.30" lengthAdjust="spacingAndGlyphs" transform="rotate(-90 550.20 138.00)" >Weight percent (wt%)</text>
<polyline points="573.54,81.58 578.14,81.58 582.75,78.80 587.35,76.95 591.96,83.44 596.57,76.95 601.17,82.05 605.78,76.95 610.38,77.88 614.99,78.80 619.59,73.70 624.20,73.70 628.81,76.02 633.41,74.17 638.02,76.02 642.62,76.02 647.23,69.53 651.83,70.00 656.44,72.31 661.05,71.85 665.65,66.29 670.26,71.39 674.86,72.31" fill="none" stroke="#f39a45" stroke-width="0.6" stroke-linejoin="round" />
<circle cx="573.5" cy="81.6" r="1.4" fill="#f39a45"/>
<circle cx="578.1" cy="81.6" r="1.4" fill="#f39a45"/>
<circle cx="582.7" cy="78.8" r="1.4" fill="#f39a45"/>
<circle cx="587.4" cy="76.9" r="1.4" fill="#f39a45"/>
<circle cx="592.0" cy="83.4" r="1.4" fill="#f39a45"/>
<circle cx="596.6" cy="76.9" r="1.4" fill="#f39a45"/>
<circle cx="601.2" cy="82.0" r="1.4" fill="#f39a45"/>
<circle cx="605.8" cy="76.9" r="1.4" fill="#f39a45"/>
<circle cx="610.4" cy="77.9" r="1.4" fill="#f39a45"/>
<circle cx="615.0" cy="78.8" r="1.4" fill="#f39a45"/>
<circle cx="619.6" cy="73.7" r="1.4" fill="#f39a45"/>
<circle cx="624.2" cy="73.7" r="1.4" fill="#f39a45"/>
<circle cx="628.8" cy="76.0" r="1.4" fill="#f39a45"/>
<circle cx="633.4" cy="74.2" r="1.4" fill="#f39a45"/>
<circle cx="638.0" cy="76.0" r="1.4" fill="#f39a45"/>
<circle cx="642.6" cy="76.0" r="1.4" fill="#f39a45"/>
<circle cx="647.2" cy="69.5" r="1.4" fill="#f39a45"/>
<circle cx="651.8" cy="70.0" r="1.4" fill="#f39a45"/>
<circle cx="656.4" cy="72.3" r="1.4" fill="#f39a45"/>
<circle cx="661.0" cy="71.8" r="1.4" fill="#f39a45"/>
<circle cx="665.7" cy="66.3" r="1.4" fill="#f39a45"/>
<circle cx="670.3" cy="71.4" r="1.4" fill="#f39a45"/>
<circle cx="674.9" cy="72.3" r="1.4" fill="#f39a45"/>
<polyline points="573.54,138.13 578.14,138.13 582.75,138.13 587.35,140.91 591.96,138.13 596.57,142.77 601.17,139.06 605.78,137.20 610.38,137.20 614.99,133.50 619.59,138.13 624.20,137.20 628.81,133.50 633.41,136.28 638.02,132.94 642.62,134.79 647.23,135.53 651.83,137.67 656.44,135.53 661.05,136.83 665.65,139.06 670.26,134.79 674.86,134.79" fill="none" stroke="#333" stroke-width="0.6" stroke-linejoin="round" />
<path d="M573.5,136.8 l1.1,1.3 l-1.1,1.3 l-1.1,-1.3 z" fill="#333"/>
<path d="M578.1,136.8 l1.1,1.3 l-1.1,1.3 l-1.1,-1.3 z" fill="#333"/>
<path d="M582.7,136.8 l1.1,1.3 l-1.1,1.3 l-1.1,-1.3 z" fill="#333"/>
<path d="M587.4,139.6 l1.1,1.3 l-1.1,1.3 l-1.1,-1.3 z" fill="#333"/>
<path d="M592.0,136.8 l1.1,1.3 l-1.1,1.3 l-1.1,-1.3 z" fill="#333"/>
<path d="M596.6,141.5 l1.1,1.3 l-1.1,1.3 l-1.1,-1.3 z" fill="#333"/>
<path d="M601.2,137.8 l1.1,1.3 l-1.1,1.3 l-1.1,-1.3 z" fill="#333"/>
<path d="M605.8,135.9 l1.1,1.3 l-1.1,1.3 l-1.1,-1.3 z" fill="#333"/>
<path d="M610.4,135.9 l1.1,1.3 l-1.1,1.3 l-1.1,-1.3 z" fill="#333"/>
<path d="M615.0,132.2 l1.1,1.3 l-1.1,1.3 l-1.1,-1.3 z" fill="#333"/>
<path d="M619.6,136.8 l1.1,1.3 l-1.1,1.3 l-1.1,-1.3 z" fill="#333"/>
<path d="M624.2,135.9 l1.1,1.3 l-1.1,1.3 l-1.1,-1.3 z" fill="#333"/>
<path d="M628.8,132.2 l1.1,1.3 l-1.1,1.3 l-1.1,-1.3 z" fill="#333"/>
<path d="M633.4,135.0 l1.1,1.3 l-1.1,1.3 l-1.1,-1.3 z" fill="#333"/>
<path d="M638.0,131.6 l1.1,1.3 l-1.1,1.3 l-1.1,-1.3 z" fill="#333"/>
<path d="M642.6,133.5 l1.1,1.3 l-1.1,1.3 l-1.1,-1.3 z" fill="#333"/>
<path d="M647.2,134.2 l1.1,1.3 l-1.1,1.3 l-1.1,-1.3 z" fill="#333"/>
<path d="M651.8,136.4 l1.1,1.3 l-1.1,1.3 l-1.1,-1.3 z" fill="#333"/>
<path d="M656.4,134.2 l1.1,1.3 l-1.1,1.3 l-1.1,-1.3 z" fill="#333"/>
<path d="M661.0,135.5 l1.1,1.3 l-1.1,1.3 l-1.1,-1.3 z" fill="#333"/>
<path d="M665.7,137.8 l1.1,1.3 l-1.1,1.3 l-1.1,-1.3 z" fill="#333"/>
<path d="M670.3,133.5 l1.1,1.3 l-1.1,1.3 l-1.1,-1.3 z" fill="#333"/>
<path d="M674.9,133.5 l1.1,1.3 l-1.1,1.3 l-1.1,-1.3 z" fill="#333"/>
<polyline points="573.54,128.86 578.14,128.86 582.75,131.64 587.35,131.64 591.96,127.01 596.57,128.40 601.17,127.93 605.78,134.42 610.38,133.50 614.99,134.42 619.59,138.13 624.20,139.06 628.81,139.06 633.41,139.06 638.02,140.91 642.62,137.20 647.23,143.69 651.83,140.91 656.44,140.91 661.05,139.52 665.65,143.69 670.26,142.12 674.86,140.91" fill="none" stroke="#3aaa3a" stroke-width="0.6" stroke-linejoin="round" />
<circle cx="573.5" cy="128.9" r="1.4" fill="#3aaa3a"/>
<circle cx="578.1" cy="128.9" r="1.4" fill="#3aaa3a"/>
<circle cx="582.7" cy="131.6" r="1.4" fill="#3aaa3a"/>
<circle cx="587.4" cy="131.6" r="1.4" fill="#3aaa3a"/>
<circle cx="592.0" cy="127.0" r="1.4" fill="#3aaa3a"/>
<circle cx="596.6" cy="128.4" r="1.4" fill="#3aaa3a"/>
<circle cx="601.2" cy="127.9" r="1.4" fill="#3aaa3a"/>
<circle cx="605.8" cy="134.4" r="1.4" fill="#3aaa3a"/>
<circle cx="610.4" cy="133.5" r="1.4" fill="#3aaa3a"/>
<circle cx="615.0" cy="134.4" r="1.4" fill="#3aaa3a"/>
<circle cx="619.6" cy="138.1" r="1.4" fill="#3aaa3a"/>
<circle cx="624.2" cy="139.1" r="1.4" fill="#3aaa3a"/>
<circle cx="628.8" cy="139.1" r="1.4" fill="#3aaa3a"/>
<circle cx="633.4" cy="139.1" r="1.4" fill="#3aaa3a"/>
<circle cx="638.0" cy="140.9" r="1.4" fill="#3aaa3a"/>
<circle cx="642.6" cy="137.2" r="1.4" fill="#3aaa3a"/>
<circle cx="647.2" cy="143.7" r="1.4" fill="#3aaa3a"/>
<circle cx="651.8" cy="140.9" r="1.4" fill="#3aaa3a"/>
<circle cx="656.4" cy="140.9" r="1.4" fill="#3aaa3a"/>
<circle cx="661.0" cy="139.5" r="1.4" fill="#3aaa3a"/>
<circle cx="665.7" cy="143.7" r="1.4" fill="#3aaa3a"/>
<circle cx="670.3" cy="142.1" r="1.4" fill="#3aaa3a"/>
<circle cx="674.9" cy="140.9" r="1.4" fill="#3aaa3a"/>
<line x1="573.54" y1="89.00" x2="674.14" y2="79.27" stroke="#f5a070" stroke-width="0.7" />
<path d="M676.3,78.8 l-3,-0.9 l0.6,2.6 z" fill="#f5a070"/>
<line x1="573.54" y1="120.52" x2="674.86" y2="137.67" stroke="#80c060" stroke-width="0.6" />
<line x1="569.00" y1="58.40" x2="576.00" y2="58.40" stroke="#f39a45" stroke-width="0.6" />
<circle cx="572.5" cy="58.4" r="1.1" fill="#f39a45"/>
<text x="578.50" y="60.60" font-family="Liberation Sans" font-size="6.2" fill="#000" font-weight="bold" stroke="#000" stroke-width="0.22" >Ni</text>
<line x1="569.00" y1="63.60" x2="576.00" y2="63.60" stroke="#333" stroke-width="0.6" />
<path d="M572.5,62.300000000000004 l1.1,1.3 l-1.1,1.3 l-1.1,-1.3 z" fill="#333"/>
<text x="578.50" y="65.80" font-family="Liberation Sans" font-size="6.2" fill="#000" font-weight="bold" stroke="#000" stroke-width="0.22" >Co</text>
<line x1="569.00" y1="68.80" x2="576.00" y2="68.80" stroke="#3aaa3a" stroke-width="0.6" />
<circle cx="572.5" cy="68.8" r="1.1" fill="#3aaa3a"/>
<text x="578.50" y="71.00" font-family="Liberation Sans" font-size="6.2" fill="#000" font-weight="bold" stroke="#000" stroke-width="0.22" >Mn</text>
<text x="1.60" y="176.90" font-family="Liberation Serif" font-size="10.5" fill="#000" font-weight="bold" >(D)</text>
<rect x="17.30" y="167.50" width="160.20" height="131.50" fill="none" stroke="#808080" stroke-width="1.0" />
<defs><clipPath id="clD"><rect x="17.3" y="167.5" width="160.2" height="131.5"/></clipPath><clipPath id="clD1"><rect x="185.1" y="167.3" width="37" height="132.2"/></clipPath><clipPath id="clD2"><rect x="227.2" y="167.3" width="34.6" height="132.2"/></clipPath></defs>
<polyline points="17.30,200.55 17.55,200.61 17.80,200.63 18.05,200.71 18.30,200.60 18.55,200.69 18.80,200.25 19.05,200.46 19.30,200.70 19.55,200.55 19.80,200.68 20.05,200.28 20.30,200.46 20.55,200.35 20.80,200.49 21.05,200.51 21.30,200.22 21.55,200.32 21.80,200.35 22.05,200.67 22.30,200.59 22.55,200.29 22.80,200.61 23.05,200.28 23.30,200.51 23.55,200.27 23.80,200.20 24.05,200.64 24.30,200.30 24.55,200.31 24.80,200.69 25.05,200.63 25.30,200.34 25.55,200.67 25.80,200.46 26.05,200.53 26.30,200.29 26.55,200.65 26.80,200.53 27.05,200.66 27.30,200.62 27.55,200.32 27.80,200.35 28.05,200.25 28.30,200.24 28.55,200.20 28.80,200.31 29.05,200.46 29.30,200.16 29.55,200.49 29.80,200.32 30.05,200.30 30.30,200.55 30.55,200.38 30.80,200.29 31.05,200.37 31.30,200.48 31.55,200.15 31.80,200.60 32.05,200.12 32.30,200.48 32.55,200.52 32.80,200.10 33.05,200.47 33.30,200.25 33.55,200.34 33.80,200.04 34.05,200.04 34.30,200.08 34.55,200.43 34.80,200.00 35.05,200.22 35.30,200.20 35.55,199.96 35.80,198.99 36.05,197.26 36.30,193.83 36.55,188.86 36.80,184.15 37.05,185.07 37.30,189.92 37.55,194.81 37.80,197.50 38.05,199.40 38.30,199.49 38.55,199.80 38.80,200.00 39.05,200.18 39.30,199.90 39.55,200.18 39.80,199.97 40.05,199.82 40.30,199.77 40.55,199.65 40.80,199.53 41.05,199.50 41.30,199.68 41.55,199.74 41.80,199.23 42.05,199.06 42.30,199.41 42.55,199.06 42.80,198.87 43.05,198.65 43.30,198.70 43.55,198.68 43.80,198.36 44.05,198.21 44.30,197.91 44.55,198.23 44.80,197.69 45.05,197.85 45.30,197.97 45.55,197.58 45.80,197.88 46.05,198.01 46.30,197.90 46.55,198.05 46.80,197.80 47.05,198.07 47.30,198.05 47.55,198.52 47.80,198.38 48.05,198.59 48.30,199.00 48.55,199.06 48.80,199.25 49.05,199.12 49.30,199.26 49.55,199.49 49.80,199.47 50.05,199.47 50.30,199.62 50.55,199.57 50.80,199.76 51.05,200.13 51.30,200.17 51.55,200.06 51.80,200.04 52.05,199.99 52.30,199.90 52.55,200.02 52.80,200.30 53.05,200.36 53.30,200.13 53.55,200.35 53.80,200.36 54.05,200.33 54.30,200.32 54.55,200.38 54.80,200.19 55.05,200.36 55.30,200.15 55.55,200.26 55.80,200.40 56.05,200.37 56.30,200.17 56.55,200.50 56.80,200.35 57.05,200.32 57.30,200.03 57.55,200.30 57.80,200.15 58.05,200.36 58.30,200.26 58.55,200.44 58.80,200.35 59.05,200.43 59.30,200.20 59.55,200.35 59.80,200.40 60.05,200.44 60.30,200.20 60.55,200.45 60.80,200.46 61.05,200.37 61.30,200.52 61.55,200.50 61.80,200.29 62.05,200.29 62.30,200.11 62.55,200.44 62.80,200.49 63.05,200.26 63.30,200.37 63.55,200.38 63.80,200.39 64.05,200.11 64.30,200.41 64.55,200.31 64.80,200.35 65.05,200.23 65.30,200.33 65.55,200.40 65.80,200.33 66.05,200.37 66.30,200.03 66.55,200.09 66.80,200.23 67.05,200.33 67.30,200.12 67.55,200.35 67.80,200.32 68.05,200.03 68.30,200.24 68.55,200.12 68.80,200.03 69.05,200.07 69.30,200.16 69.55,200.09 69.80,200.09 70.05,200.01 70.30,200.22 70.55,200.18 70.80,200.29 71.05,200.28 71.30,200.10 71.55,200.43 71.80,199.98 72.05,200.18 72.30,200.11 72.55,200.18 72.80,200.02 73.05,200.38 73.30,200.15 73.55,199.97 73.80,200.25 74.05,199.99 74.30,200.20 74.55,200.09 74.80,200.20 75.05,200.37 75.30,200.28 75.55,200.05 75.80,200.20 76.05,200.02 76.30,199.64 76.55,198.87 76.80,197.60 77.05,195.07 77.30,192.48 77.55,191.51 77.80,193.35 78.05,196.06 78.30,198.45 78.55,199.11 78.80,199.60 79.05,199.98 79.30,200.07 79.55,199.85 79.80,200.10 80.05,200.23 80.30,199.92 80.55,199.81 80.80,199.30 81.05,198.45 81.30,197.40 81.55,195.73 81.80,195.85 82.05,197.07 82.30,198.37 82.55,199.20 82.80,200.05 83.05,200.00 83.30,200.03 83.55,200.01 83.80,200.36 84.05,200.13 84.30,200.03 84.55,200.13 84.80,199.96 85.05,200.21 85.30,200.13 85.55,200.05 85.80,200.30 86.05,200.32 86.30,199.91 86.55,200.17 86.80,200.04 87.05,200.37 87.30,200.30 87.55,200.03 87.80,200.04 88.05,199.98 88.30,200.39 88.55,200.04 88.80,200.20 89.05,200.13 89.30,200.21 89.55,200.19 89.80,200.25 90.05,199.94 90.30,200.25 90.55,200.02 90.80,200.13 91.05,200.02 91.30,200.00 91.55,200.10 91.80,200.06 92.05,200.00 92.30,200.17 92.55,200.08 92.80,199.78 93.05,199.86 93.30,199.93 93.55,200.11 93.80,200.03 94.05,199.75 94.30,199.24 94.55,199.05 94.80,197.62 95.05,195.35 95.30,191.83 95.55,187.57 95.80,184.38 96.05,185.00 96.30,188.28 96.55,192.47 96.80,196.05 97.05,197.82 97.30,198.95 97.55,199.70 97.80,199.52 98.05,200.00 98.30,199.99 98.55,199.90 98.80,199.86 99.05,200.13 99.30,200.21 99.55,199.84 99.80,200.02 100.05,200.06 100.30,200.04 100.55,199.97 100.80,199.88 101.05,200.10 101.30,200.21 101.55,199.84 101.80,199.92 102.05,200.21 102.30,200.19 102.55,200.12 102.80,199.79 103.05,200.10 103.30,200.15 103.55,199.96 103.80,199.39 104.05,198.37 104.30,197.93 104.55,197.07 104.80,197.54 105.05,198.49 105.30,199.14 105.55,199.39 105.80,199.75 106.05,200.18 106.30,199.84 106.55,200.09 106.80,200.01 107.05,199.89 107.30,200.12 107.55,199.84 107.80,199.87 108.05,200.01 108.30,199.86 108.55,199.85 108.80,200.11 109.05,200.20 109.30,200.26 109.55,199.89 109.80,200.04 110.05,199.98 110.30,200.12 110.55,200.07 110.80,200.29 111.05,200.01 111.30,199.85 111.55,200.17 111.80,199.90 112.05,200.14 112.30,200.07 112.55,200.27 112.80,200.10 113.05,200.13 113.30,199.95 113.55,200.09 113.80,199.94 114.05,200.19 114.30,200.07 114.55,199.88 114.80,199.93 115.05,200.00 115.30,200.18 115.55,199.90 115.80,200.16 116.05,200.13 116.30,199.85 116.55,200.14 116.80,199.85 117.05,199.86 117.30,200.10 117.55,199.92 117.80,200.24 118.05,200.04 118.30,199.96 118.55,200.19 118.80,199.81 119.05,200.16 119.30,199.82 119.55,199.87 119.80,200.27 120.05,200.13 120.30,199.90 120.55,199.84 120.80,200.27 121.05,200.12 121.30,200.19 121.55,199.85 121.80,200.09 122.05,199.95 122.30,199.89 122.55,199.94 122.80,200.08 123.05,199.94 123.30,199.96 123.55,199.83 123.80,200.18 124.05,200.08 124.30,200.16 124.55,199.97 124.80,200.18 125.05,200.00 125.30,200.03 125.55,200.02 125.80,200.08 126.05,199.88 126.30,199.65 126.55,199.43 126.80,199.17 127.05,198.57 127.30,198.48 127.55,198.11 127.80,198.60 128.05,198.77 128.30,199.45 128.55,199.94 128.80,199.94 129.05,199.89 129.30,199.93 129.55,199.76 129.80,199.79 130.05,199.80 130.30,199.91 130.55,199.91 130.80,200.16 131.05,199.80 131.30,199.85 131.55,199.86 131.80,199.80 132.05,199.86 132.30,199.83 132.55,199.95 132.80,199.73 133.05,200.17 133.30,199.89 133.55,200.17 133.80,200.05 134.05,200.04 134.30,199.93 134.55,200.17 134.80,199.75 135.05,200.02 135.30,199.83 135.55,200.02 135.80,200.04 136.05,199.75 136.30,199.76 136.55,199.67 136.80,199.76 137.05,199.68 137.30,199.83 137.55,200.11 137.80,199.79 138.05,199.75 138.30,199.81 138.55,199.70 138.80,199.91 139.05,199.87 139.30,199.56 139.55,199.56 139.80,199.72 140.05,199.78 140.30,199.53 140.55,199.27 140.80,199.24 141.05,198.03 141.30,196.24 141.55,192.66 141.80,185.67 142.05,176.72 142.30,170.05 142.55,171.20 142.80,178.73 143.05,187.21 143.30,193.31 143.55,196.73 143.80,198.67 144.05,199.06 144.30,199.54 144.55,199.23 144.80,199.42 145.05,199.39 145.30,199.61 145.55,199.48 145.80,199.60 146.05,199.70 146.30,199.67 146.55,199.55 146.80,199.55 147.05,200.02 147.30,199.63 147.55,199.78 147.80,199.71 148.05,199.71 148.30,199.32 148.55,199.07 148.80,198.33 149.05,197.72 149.30,197.26 149.55,197.18 149.80,198.05 150.05,198.54 150.30,199.03 150.55,199.62 150.80,199.74 151.05,199.84 151.30,199.76 151.55,199.90 151.80,199.96 152.05,200.06 152.30,199.76 152.55,199.84 152.80,200.03 153.05,199.73 153.30,199.68 153.55,199.78 153.80,199.66 154.05,200.01 154.30,200.03 154.55,199.78 154.80,199.69 155.05,199.66 155.30,199.75 155.55,199.66 155.80,199.84 156.05,199.91 156.30,199.74 156.55,199.65 156.80,199.97 157.05,199.64 157.30,199.72 157.55,199.76 157.80,199.81 158.05,199.67 158.30,199.83 158.55,199.77 158.80,199.99 159.05,199.89 159.30,200.06 159.55,199.94 159.80,199.99 160.05,199.90 160.30,199.83 160.55,200.02 160.80,199.93 161.05,200.08 161.30,199.97 161.55,199.95 161.80,199.74 162.05,200.01 162.30,199.79 162.55,199.66 162.80,199.63 163.05,199.68 163.30,199.73 163.55,199.93 163.80,199.73 164.05,199.62 164.30,199.97 164.55,199.87 164.80,199.60 165.05,199.61 165.30,199.65 165.55,199.76 165.80,200.01 166.05,200.05 166.30,199.88 166.55,199.68 166.80,199.78 167.05,199.74 167.30,199.72 167.55,199.56 167.80,199.84 168.05,199.96 168.30,199.90 168.55,199.58 168.80,199.79 169.05,199.60 169.30,199.86 169.55,199.71 169.80,199.94 170.05,199.84 170.30,199.47 170.55,199.53 170.80,199.74 171.05,199.33 171.30,198.86 171.55,197.79 171.80,195.91 172.05,193.02 172.30,189.79 172.55,189.02 172.80,190.93 173.05,193.87 173.30,196.88 173.55,198.30 173.80,198.90 174.05,199.67 174.30,199.33 174.55,199.66 174.80,199.65 175.05,199.87 175.30,199.65 175.55,199.58 175.80,199.62 176.05,199.59 176.30,199.78 176.55,199.68 176.80,199.88 177.05,199.63 177.30,199.69" fill="none" stroke="#ee4f95" stroke-width="0.75" stroke-linejoin="round" clip-path="url(#clD)"/>
<polyline points="17.30,235.14 17.55,235.29 17.80,235.26 18.05,235.26 18.30,235.22 18.55,235.17 18.80,235.12 19.05,235.26 19.30,235.19 19.55,235.10 19.80,235.13 20.05,235.11 20.30,235.24 20.55,235.27 20.80,235.13 21.05,235.25 21.30,235.16 21.55,235.23 21.80,235.26 22.05,235.22 22.30,235.25 22.55,235.17 22.80,235.09 23.05,235.19 23.30,235.21 23.55,235.13 23.80,235.17 24.05,235.15 24.30,235.09 24.55,235.15 24.80,235.16 25.05,235.18 25.30,235.23 25.55,235.17 25.80,235.28 26.05,235.25 26.30,235.27 26.55,235.22 26.80,235.22 27.05,235.19 27.30,235.24 27.55,235.15 27.80,235.20 28.05,235.22 28.30,235.18 28.55,235.14 28.80,235.09 29.05,235.09 29.30,235.15 29.55,235.19 29.80,235.22 30.05,235.21 30.30,235.13 30.55,235.25 30.80,235.12 31.05,235.20 31.30,235.07 31.55,235.21 31.80,235.19 32.05,235.24 32.30,235.22 32.55,235.18 32.80,235.20 33.05,235.17 33.30,235.14 33.55,235.05 33.80,235.10 34.05,235.16 34.30,235.02 34.55,235.15 34.80,235.04 35.05,234.98 35.30,234.86 35.55,234.89 35.80,234.79 36.05,234.80 36.30,234.72 36.55,234.49 36.80,233.88 37.05,232.28 37.30,228.35 37.55,221.09 37.80,211.16 38.05,204.19 38.30,207.48 38.55,217.29 38.80,225.86 39.05,231.08 39.30,233.37 39.55,234.28 39.80,234.65 40.05,234.66 40.30,234.85 40.55,234.95 40.80,234.89 41.05,234.90 41.30,235.03 41.55,235.11 41.80,235.14 42.05,235.12 42.30,235.08 42.55,235.09 42.80,235.12 43.05,235.20 43.30,235.09 43.55,235.09 43.80,235.16 44.05,235.24 44.30,235.09 44.55,235.06 44.80,235.08 45.05,235.17 45.30,235.18 45.55,235.10 45.80,235.10 46.05,235.19 46.30,235.20 46.55,235.21 46.80,235.22 47.05,235.09 47.30,235.17 47.55,235.24 47.80,235.27 48.05,235.14 48.30,235.25 48.55,235.21 48.80,235.27 49.05,235.13 49.30,235.22 49.55,235.25 49.80,235.18 50.05,235.10 50.30,235.12 50.55,235.12 50.80,235.10 51.05,235.12 51.30,235.21 51.55,235.11 51.80,235.24 52.05,235.23 52.30,235.25 52.55,235.25 52.80,235.23 53.05,235.27 53.30,235.28 53.55,235.21 53.80,235.28 54.05,235.11 54.30,235.11 54.55,235.10 54.80,235.13 55.05,235.17 55.30,235.18 55.55,235.23 55.80,235.24 56.05,235.11 56.30,235.17 56.55,235.20 56.80,235.17 57.05,235.11 57.30,235.21 57.55,235.17 57.80,235.23 58.05,235.19 58.30,235.28 58.55,235.28 58.80,235.11 59.05,235.24 59.30,235.24 59.55,235.15 59.80,235.12 60.05,235.19 60.30,235.16 60.55,235.24 60.80,235.28 61.05,235.17 61.30,235.15 61.55,235.19 61.80,235.23 62.05,235.25 62.30,235.21 62.55,235.15 62.80,235.16 63.05,235.26 63.30,235.20 63.55,235.10 63.80,235.18 64.05,235.14 64.30,235.22 64.55,235.11 64.80,235.14 65.05,235.11 65.30,235.19 65.55,235.29 65.80,235.20 66.05,235.17 66.30,235.28 66.55,235.11 66.80,235.16 67.05,235.25 67.30,235.09 67.55,235.24 67.80,235.16 68.05,235.09 68.30,235.14 68.55,235.18 68.80,235.16 69.05,235.19 69.30,235.10 69.55,235.13 69.80,235.28 70.05,235.17 70.30,235.18 70.55,235.10 70.80,235.14 71.05,235.27 71.30,235.22 71.55,235.18 71.80,235.09 72.05,235.16 72.30,235.23 72.55,235.16 72.80,235.19 73.05,235.25 73.30,235.20 73.55,235.19 73.80,235.07 74.05,235.06 74.30,235.21 74.55,235.13 74.80,235.22 75.05,235.20 75.30,235.21 75.55,235.10 75.80,235.21 76.05,235.14 76.30,235.15 76.55,234.97 76.80,235.06 77.05,234.93 77.30,234.90 77.55,234.53 77.80,233.38 78.05,231.28 78.30,227.91 78.55,224.64 78.80,224.18 79.05,227.25 79.30,230.62 79.55,233.03 79.80,234.27 80.05,234.64 80.30,234.86 80.55,235.03 80.80,235.05 81.05,234.92 81.30,234.85 81.55,234.89 81.80,234.56 82.05,233.70 82.30,232.38 82.55,231.17 82.80,231.16 83.05,232.28 83.30,233.40 83.55,234.32 83.80,234.82 84.05,234.96 84.30,235.12 84.55,235.07 84.80,235.16 85.05,235.05 85.30,235.13 85.55,235.23 85.80,235.18 86.05,235.06 86.30,235.07 86.55,235.18 86.80,235.13 87.05,235.13 87.30,235.15 87.55,235.17 87.80,235.25 88.05,235.10 88.30,235.17 88.55,235.10 88.80,235.16 89.05,235.20 89.30,235.07 89.55,235.14 89.80,235.18 90.05,235.04 90.30,235.19 90.55,235.12 90.80,235.13 91.05,235.14 91.30,235.17 91.55,235.02 91.80,235.10 92.05,235.00 92.30,235.06 92.55,235.04 92.80,234.95 93.05,234.99 93.30,234.99 93.55,235.01 93.80,235.02 94.05,234.86 94.30,234.82 94.55,234.75 94.80,234.61 95.05,234.20 95.30,233.25 95.55,231.05 95.80,227.29 96.05,222.01 96.30,215.83 96.55,212.21 96.80,213.98 97.05,219.48 97.30,225.33 97.55,229.90 97.80,232.45 98.05,233.83 98.30,234.47 98.55,234.58 98.80,234.75 99.05,234.86 99.30,234.93 99.55,234.90 99.80,234.98 100.05,234.93 100.30,234.96 100.55,235.03 100.80,235.00 101.05,235.18 101.30,235.05 101.55,235.06 101.80,235.17 102.05,235.16 102.30,235.07 102.55,235.19 102.80,235.15 103.05,235.10 103.30,235.15 103.55,235.07 103.80,235.07 104.05,235.18 104.30,235.06 104.55,235.07 104.80,234.73 105.05,234.33 105.30,233.70 105.55,233.16 105.80,232.78 106.05,233.02 106.30,233.70 106.55,234.47 106.80,234.80 107.05,235.08 107.30,235.00 107.55,235.14 107.80,235.06 108.05,235.19 108.30,235.18 108.55,235.18 108.80,235.11 109.05,235.26 109.30,235.09 109.55,235.08 109.80,235.21 110.05,235.09 110.30,235.09 110.55,235.17 110.80,235.21 111.05,235.26 111.30,235.23 111.55,235.10 111.80,235.21 112.05,235.25 112.30,235.11 112.55,235.24 112.80,235.14 113.05,235.15 113.30,235.09 113.55,235.24 113.80,235.19 114.05,235.27 114.30,235.18 114.55,235.12 114.80,235.13 115.05,235.14 115.30,235.28 115.55,235.13 115.80,235.11 116.05,235.16 116.30,235.11 116.55,235.17 116.80,235.21 117.05,235.22 117.30,235.12 117.55,235.12 117.80,235.19 118.05,235.23 118.30,235.18 118.55,235.20 118.80,235.27 119.05,235.12 119.30,235.14 119.55,235.19 119.80,235.20 120.05,235.27 120.30,235.20 120.55,235.22 120.80,235.17 121.05,235.25 121.30,235.26 121.55,235.15 121.80,235.11 122.05,235.14 122.30,235.16 122.55,235.27 122.80,235.14 123.05,235.21 123.30,235.22 123.55,235.28 123.80,235.11 124.05,235.24 124.30,235.15 124.55,235.10 124.80,235.21 125.05,235.25 125.30,235.20 125.55,235.09 125.80,235.27 126.05,235.15 126.30,235.19 126.55,235.21 126.80,235.11 127.05,235.12 127.30,235.08 127.55,234.98 127.80,234.83 128.05,234.65 128.30,234.06 128.55,233.47 128.80,232.77 129.05,232.89 129.30,233.47 129.55,234.29 129.80,234.75 130.05,235.04 130.30,235.08 130.55,235.04 130.80,235.13 131.05,235.10 131.30,235.07 131.55,235.18 131.80,235.13 132.05,235.09 132.30,235.18 132.55,235.26 132.80,235.27 133.05,235.17 133.30,235.10 133.55,235.23 133.80,235.10 134.05,235.19 134.30,235.09 134.55,235.28 134.80,235.19 135.05,235.16 135.30,235.13 135.55,235.19 135.80,235.27 136.05,235.16 136.30,235.11 136.55,235.17 136.80,235.25 137.05,235.14 137.30,235.19 137.55,235.24 137.80,235.12 138.05,235.21 138.30,235.15 138.55,235.07 138.80,235.05 139.05,235.21 139.30,235.11 139.55,235.09 139.80,235.17 140.05,235.06 140.30,234.99 140.55,234.84 140.80,234.75 141.05,234.35 141.30,233.92 141.55,233.34 141.80,232.52 142.05,231.57 142.30,230.83 142.55,230.55 142.80,230.72 143.05,231.24 143.30,232.25 143.55,232.91 143.80,233.63 144.05,234.15 144.30,234.58 144.55,234.85 144.80,235.02 145.05,234.96 145.30,235.11 145.55,235.01 145.80,235.12 146.05,235.07 146.30,235.10 146.55,235.04 146.80,235.18 147.05,235.06 147.30,235.20 147.55,235.11 147.80,235.16 148.05,235.17 148.30,235.14 148.55,235.21 148.80,235.20 149.05,235.05 149.30,235.00 149.55,234.94 149.80,234.44 150.05,233.92 150.30,233.23 150.55,232.89 150.80,232.94 151.05,233.70 151.30,234.36 151.55,234.80 151.80,234.89 152.05,235.18 152.30,235.09 152.55,235.21 152.80,235.19 153.05,235.15 153.30,235.23 153.55,235.21 153.80,235.14 154.05,235.22 154.30,235.18 154.55,235.22 154.80,235.21 155.05,235.24 155.30,235.12 155.55,235.18 155.80,235.09 156.05,235.25 156.30,235.24 156.55,235.26 156.80,235.10 157.05,235.20 157.30,235.19 157.55,235.11 157.80,235.13 158.05,235.29 158.30,235.26 158.55,235.14 158.80,235.26 159.05,235.22 159.30,235.17 159.55,235.22 159.80,235.14 160.05,235.15 160.30,235.10 160.55,235.23 160.80,235.21 161.05,235.24 161.30,235.20 161.55,235.18 161.80,235.16 162.05,235.24 162.30,235.17 162.55,235.21 162.80,235.25 163.05,235.18 163.30,235.23 163.55,235.11 163.80,235.15 164.05,235.26 164.30,235.12 164.55,235.11 164.80,235.10 165.05,235.25 165.30,235.12 165.55,235.19 165.80,235.18 166.05,235.26 166.30,235.19 166.55,235.20 166.80,235.10 167.05,235.25 167.30,235.25 167.55,235.22 167.80,235.26 168.05,235.22 168.30,235.24 168.55,235.26 168.80,235.22 169.05,235.10 169.30,235.27 169.55,235.29 169.80,235.13 170.05,235.10 170.30,235.15 170.55,235.10 170.80,235.15 171.05,235.08 171.30,235.07 171.55,234.95 171.80,234.89 172.05,234.65 172.30,234.52 172.55,234.38 172.80,234.49 173.05,234.87 173.30,235.05 173.55,235.13 173.80,235.09 174.05,235.15 174.30,235.17 174.55,235.17 174.80,235.09 175.05,235.18 175.30,235.24 175.55,235.23 175.80,235.26 176.05,235.23 176.30,235.25 176.55,235.27 176.80,235.28 177.05,235.25 177.30,235.18" fill="none" stroke="#3b8f3b" stroke-width="0.75" stroke-linejoin="round" clip-path="url(#clD)"/>
<polyline points="17.30,260.93 17.55,260.93 17.80,260.97 18.05,260.94 18.30,260.88 18.55,260.83 18.80,260.86 19.05,260.85 19.30,260.93 19.55,260.95 19.80,260.83 20.05,260.90 20.30,260.96 20.55,260.87 20.80,260.81 21.05,260.92 21.30,260.87 21.55,260.82 21.80,260.85 22.05,260.80 22.30,260.82 22.55,260.88 22.80,260.81 23.05,260.79 23.30,260.90 23.55,260.98 23.80,260.96 24.05,260.86 24.30,260.98 24.55,260.81 24.80,260.82 25.05,260.79 25.30,260.80 25.55,260.91 25.80,260.94 26.05,260.88 26.30,260.95 26.55,260.88 26.80,260.97 27.05,260.91 27.30,260.89 27.55,260.82 27.80,260.87 28.05,260.87 28.30,260.95 28.55,260.83 28.80,260.84 29.05,260.94 29.30,260.79 29.55,260.88 29.80,260.82 30.05,260.90 30.30,260.89 30.55,260.78 30.80,260.91 31.05,260.84 31.30,260.82 31.55,260.92 31.80,260.90 32.05,260.80 32.30,260.87 32.55,260.75 32.80,260.82 33.05,260.72 33.30,260.82 33.55,260.86 33.80,260.78 34.05,260.63 34.30,260.69 34.55,260.63 34.80,260.55 35.05,260.38 35.30,260.15 35.55,259.49 35.80,257.56 36.05,253.71 36.30,247.43 36.55,241.28 36.80,240.47 37.05,246.07 37.30,252.67 37.55,257.01 37.80,259.17 38.05,260.08 38.30,260.50 38.55,260.46 38.80,260.59 39.05,260.62 39.30,260.75 39.55,260.74 39.80,260.69 40.05,260.86 40.30,260.77 40.55,260.85 40.80,260.81 41.05,260.91 41.30,260.75 41.55,260.79 41.80,260.81 42.05,260.81 42.30,260.92 42.55,260.86 42.80,260.83 43.05,260.87 43.30,260.94 43.55,260.89 43.80,260.86 44.05,260.91 44.30,260.90 44.55,260.86 44.80,260.86 45.05,260.81 45.30,260.87 45.55,260.96 45.80,260.84 46.05,260.86 46.30,260.91 46.55,260.90 46.80,260.82 47.05,260.88 47.30,260.93 47.55,260.80 47.80,260.81 48.05,260.94 48.30,260.97 48.55,260.80 48.80,260.81 49.05,260.92 49.30,260.85 49.55,260.92 49.80,260.80 50.05,260.88 50.30,260.82 50.55,260.86 50.80,260.93 51.05,260.89 51.30,260.96 51.55,260.96 51.80,260.92 52.05,260.96 52.30,260.83 52.55,260.89 52.80,260.86 53.05,260.92 53.30,260.82 53.55,260.97 53.80,260.87 54.05,260.95 54.30,260.98 54.55,260.98 54.80,260.87 55.05,260.97 55.30,260.99 55.55,260.82 55.80,260.94 56.05,260.94 56.30,260.89 56.55,260.85 56.80,260.83 57.05,260.88 57.30,260.98 57.55,260.88 57.80,260.85 58.05,260.92 58.30,260.88 58.55,260.92 58.80,260.89 59.05,260.85 59.30,260.80 59.55,260.96 59.80,260.93 60.05,260.84 60.30,260.90 60.55,260.91 60.80,260.90 61.05,260.98 61.30,260.95 61.55,260.86 61.80,260.86 62.05,260.92 62.30,260.83 62.55,260.98 62.80,260.80 63.05,260.89 63.30,260.85 63.55,260.90 63.80,260.80 64.05,260.84 64.30,260.99 64.55,260.95 64.80,260.84 65.05,260.89 65.30,260.80 65.55,260.82 65.80,260.83 66.05,260.99 66.30,260.86 66.55,260.84 66.80,260.81 67.05,260.82 67.30,260.99 67.55,260.94 67.80,260.98 68.05,260.96 68.30,260.95 68.55,260.84 68.80,260.83 69.05,260.85 69.30,260.80 69.55,260.83 69.80,260.93 70.05,260.89 70.30,260.79 70.55,260.85 70.80,260.96 71.05,260.96 71.30,260.93 71.55,260.93 71.80,260.97 72.05,260.90 72.30,260.86 72.55,260.90 72.80,260.84 73.05,260.79 73.30,260.83 73.55,260.87 73.80,260.80 74.05,260.79 74.30,260.82 74.55,260.84 74.80,260.96 75.05,260.86 75.30,260.92 75.55,260.90 75.80,260.86 76.05,260.79 76.30,260.79 76.55,260.76 76.80,260.80 77.05,260.80 77.30,260.69 77.55,260.34 77.80,259.65 78.05,258.18 78.30,256.05 78.55,253.75 78.80,253.43 79.05,255.49 79.30,257.82 79.55,259.43 79.80,260.32 80.05,260.61 80.30,260.65 80.55,260.79 80.80,260.70 81.05,260.85 81.30,260.68 81.55,260.72 81.80,260.56 82.05,260.18 82.30,259.51 82.55,258.98 82.80,258.86 83.05,259.43 83.30,259.96 83.55,260.43 83.80,260.70 84.05,260.81 84.30,260.75 84.55,260.89 84.80,260.82 85.05,260.85 85.30,260.87 85.55,260.93 85.80,260.83 86.05,260.88 86.30,260.89 86.55,260.90 86.80,260.84 87.05,260.83 87.30,260.87 87.55,260.90 87.80,260.91 88.05,260.80 88.30,260.87 88.55,260.89 88.80,260.81 89.05,260.79 89.30,260.96 89.55,260.78 89.80,260.87 90.05,260.83 90.30,260.77 90.55,260.82 90.80,260.80 91.05,260.84 91.30,260.94 91.55,260.77 91.80,260.82 92.05,260.88 92.30,260.86 92.55,260.73 92.80,260.76 93.05,260.76 93.30,260.86 93.55,260.75 93.80,260.67 94.05,260.67 94.30,260.57 94.55,260.25 94.80,259.72 95.05,258.37 95.30,255.98 95.55,252.96 95.80,250.62 96.05,250.98 96.30,253.59 96.55,256.43 96.80,258.68 97.05,259.90 97.30,260.35 97.55,260.63 97.80,260.66 98.05,260.75 98.30,260.79 98.55,260.82 98.80,260.89 99.05,260.86 99.30,260.87 99.55,260.88 99.80,260.79 100.05,260.87 100.30,260.88 100.55,260.77 100.80,260.91 101.05,260.81 101.30,260.86 101.55,260.87 101.80,260.91 102.05,260.92 102.30,260.86 102.55,260.95 102.80,260.85 103.05,260.87 103.30,260.95 103.55,260.81 103.80,260.87 104.05,260.87 104.30,260.57 104.55,260.46 104.80,260.06 105.05,259.61 105.30,259.45 105.55,259.67 105.80,259.96 106.05,260.41 106.30,260.68 106.55,260.82 106.80,260.93 107.05,260.92 107.30,260.93 107.55,260.78 107.80,260.86 108.05,260.96 108.30,260.97 108.55,260.93 108.80,260.85 109.05,260.94 109.30,260.89 109.55,260.92 109.80,260.92 110.05,260.96 110.30,260.93 110.55,260.98 110.80,260.89 111.05,260.89 111.30,260.92 111.55,260.90 111.80,260.80 112.05,260.98 112.30,260.86 112.55,260.89 112.80,260.80 113.05,260.83 113.30,260.98 113.55,260.85 113.80,260.85 114.05,260.96 114.30,260.84 114.55,260.93 114.80,260.91 115.05,260.97 115.30,260.89 115.55,260.86 115.80,260.85 116.05,260.87 116.30,260.79 116.55,260.82 116.80,260.82 117.05,260.86 117.30,260.95 117.55,260.98 117.80,260.87 118.05,260.84 118.30,260.85 118.55,260.92 118.80,260.89 119.05,260.82 119.30,260.90 119.55,260.85 119.80,260.82 120.05,260.95 120.30,260.81 120.55,260.88 120.80,260.95 121.05,260.90 121.30,260.97 121.55,260.86 121.80,260.98 122.05,260.80 122.30,260.97 122.55,260.88 122.80,260.79 123.05,260.84 123.30,260.99 123.55,260.93 123.80,260.94 124.05,260.95 124.30,260.79 124.55,260.85 124.80,260.88 125.05,260.96 125.30,260.96 125.55,260.81 125.80,260.97 126.05,260.87 126.30,260.80 126.55,260.69 126.80,260.63 127.05,260.40 127.30,260.06 127.55,259.72 127.80,259.81 128.05,259.99 128.30,260.30 128.55,260.66 128.80,260.71 129.05,260.81 129.30,260.78 129.55,260.82 129.80,260.97 130.05,260.90 130.30,260.88 130.55,260.92 130.80,260.92 131.05,260.89 131.30,260.86 131.55,260.81 131.80,260.79 132.05,260.81 132.30,260.87 132.55,260.79 132.80,260.92 133.05,260.85 133.30,260.83 133.55,260.85 133.80,260.88 134.05,260.83 134.30,260.95 134.55,260.88 134.80,260.80 135.05,260.80 135.30,260.96 135.55,260.89 135.80,260.84 136.05,260.92 136.30,260.78 136.55,260.95 136.80,260.96 137.05,260.90 137.30,260.78 137.55,260.85 137.80,260.93 138.05,260.87 138.30,260.79 138.55,260.79 138.80,260.75 139.05,260.83 139.30,260.75 139.55,260.79 139.80,260.86 140.05,260.84 140.30,260.73 140.55,260.75 140.80,260.55 141.05,260.57 141.30,260.20 141.55,259.26 141.80,257.54 142.05,254.49 142.30,251.09 142.55,248.64 142.80,249.85 143.05,253.18 143.30,256.51 143.55,258.73 143.80,259.78 144.05,260.33 144.30,260.61 144.55,260.75 144.80,260.75 145.05,260.66 145.30,260.75 145.55,260.76 145.80,260.74 146.05,260.77 146.30,260.84 146.55,260.81 146.80,260.80 147.05,260.83 147.30,260.95 147.55,260.88 147.80,260.91 148.05,260.95 148.30,260.78 148.55,260.95 148.80,260.79 149.05,260.82 149.30,260.93 149.55,260.93 149.80,260.90 150.05,260.88 150.30,260.93 150.55,260.87 150.80,260.82 151.05,260.83 151.30,260.81 151.55,260.79 151.80,260.98 152.05,260.98 152.30,260.86 152.55,260.87 152.80,260.84 153.05,260.95 153.30,260.89 153.55,260.82 153.80,260.97 154.05,260.98 154.30,260.80 154.55,260.88 154.80,260.84 155.05,260.92 155.30,260.86 155.55,260.85 155.80,260.85 156.05,260.91 156.30,260.89 156.55,260.89 156.80,260.93 157.05,260.89 157.30,260.98 157.55,260.88 157.80,260.95 158.05,260.98 158.30,260.92 158.55,260.91 158.80,260.95 159.05,260.94 159.30,260.83 159.55,260.88 159.80,260.82 160.05,260.80 160.30,260.93 160.55,260.86 160.80,260.84 161.05,260.80 161.30,260.80 161.55,260.93 161.80,260.86 162.05,260.88 162.30,260.93 162.55,260.97 162.80,260.93 163.05,260.83 163.30,260.99 163.55,260.83 163.80,260.91 164.05,260.92 164.30,260.85 164.55,260.97 164.80,260.91 165.05,260.93 165.30,260.81 165.55,260.95 165.80,260.84 166.05,260.91 166.30,260.93 166.55,260.85 166.80,260.83 167.05,260.85 167.30,260.97 167.55,260.91 167.80,260.87 168.05,260.88 168.30,260.90 168.55,260.81 168.80,260.77 169.05,260.77 169.30,260.86 169.55,260.85 169.80,260.92 170.05,260.83 170.30,260.86 170.55,260.85 170.80,260.70 171.05,260.56 171.30,260.26 171.55,259.50 171.80,258.18 172.05,256.11 172.30,253.95 172.55,253.44 172.80,254.78 173.05,257.01 173.30,258.79 173.55,259.91 173.80,260.44 174.05,260.56 174.30,260.65 174.55,260.82 174.80,260.77 175.05,260.74 175.30,260.89 175.55,260.89 175.80,260.90 176.05,260.83 176.30,260.79 176.55,260.92 176.80,260.81 177.05,260.91 177.30,260.91" fill="none" stroke="#9b45f0" stroke-width="0.75" stroke-linejoin="round" clip-path="url(#clD)"/>
<polyline points="17.30,295.25 17.55,295.19 17.80,295.31 18.05,295.35 18.30,295.31 18.55,295.39 18.80,295.24 19.05,295.34 19.30,295.28 19.55,295.31 19.80,295.25 20.05,295.24 20.30,295.30 20.55,295.31 20.80,295.37 21.05,295.31 21.30,295.29 21.55,295.32 21.80,295.32 22.05,295.27 22.30,295.24 22.55,295.33 22.80,295.27 23.05,295.20 23.30,295.22 23.55,295.26 23.80,295.33 24.05,295.32 24.30,295.29 24.55,295.35 24.80,295.25 25.05,295.26 25.30,295.34 25.55,295.32 25.80,295.27 26.05,295.36 26.30,295.19 26.55,295.29 26.80,295.36 27.05,295.36 27.30,295.22 27.55,295.34 27.80,295.29 28.05,295.37 28.30,295.24 28.55,295.31 28.80,295.30 29.05,295.37 29.30,295.24 29.55,295.25 29.80,295.19 30.05,295.30 30.30,295.18 30.55,295.33 30.80,295.19 31.05,295.20 31.30,295.35 31.55,295.25 31.80,295.30 32.05,295.21 32.30,295.19 32.55,295.21 32.80,295.32 33.05,295.16 33.30,295.29 33.55,295.28 33.80,295.23 34.05,295.13 34.30,295.21 34.55,295.22 34.80,295.14 35.05,295.03 35.30,295.07 35.55,295.09 35.80,294.95 36.05,294.77 36.30,294.65 36.55,294.49 36.80,293.79 37.05,292.14 37.30,288.14 37.55,280.33 37.80,269.95 38.05,262.48 38.30,266.12 38.55,276.37 38.80,285.48 39.05,291.01 39.30,293.42 39.55,294.36 39.80,294.65 40.05,294.82 40.30,294.91 40.55,295.04 40.80,294.95 41.05,295.00 41.30,295.18 41.55,295.20 41.80,295.06 42.05,295.25 42.30,295.21 42.55,295.27 42.80,295.25 43.05,295.19 43.30,295.15 43.55,295.28 43.80,295.28 44.05,295.24 44.30,295.20 44.55,295.22 44.80,295.34 45.05,295.25 45.30,295.20 45.55,295.36 45.80,295.36 46.05,295.20 46.30,295.21 46.55,295.32 46.80,295.25 47.05,295.27 47.30,295.31 47.55,295.23 47.80,295.30 48.05,295.22 48.30,295.22 48.55,295.29 48.80,295.27 49.05,295.36 49.30,295.21 49.55,295.37 49.80,295.24 50.05,295.25 50.30,295.21 50.55,295.25 50.80,295.38 51.05,295.26 51.30,295.35 51.55,295.38 51.80,295.33 52.05,295.22 52.30,295.27 52.55,295.22 52.80,295.24 53.05,295.26 53.30,295.22 53.55,295.32 53.80,295.29 54.05,295.25 54.30,295.24 54.55,295.22 54.80,295.21 55.05,295.28 55.30,295.21 55.55,295.29 55.80,295.24 56.05,295.34 56.30,295.24 56.55,295.36 56.80,295.38 57.05,295.38 57.30,295.24 57.55,295.38 57.80,295.29 58.05,295.37 58.30,295.28 58.55,295.30 58.80,295.24 59.05,295.34 59.30,295.27 59.55,295.37 59.80,295.33 60.05,295.28 60.30,295.20 60.55,295.25 60.80,295.27 61.05,295.27 61.30,295.31 61.55,295.19 61.80,295.28 62.05,295.37 62.30,295.38 62.55,295.33 62.80,295.33 63.05,295.31 63.30,295.39 63.55,295.35 63.80,295.28 64.05,295.29 64.30,295.38 64.55,295.30 64.80,295.31 65.05,295.25 65.30,295.32 65.55,295.29 65.80,295.38 66.05,295.39 66.30,295.39 66.55,295.38 66.80,295.20 67.05,295.20 67.30,295.26 67.55,295.35 67.80,295.30 68.05,295.24 68.30,295.21 68.55,295.24 68.80,295.21 69.05,295.21 69.30,295.33 69.55,295.22 69.80,295.22 70.05,295.31 70.30,295.21 70.55,295.35 70.80,295.31 71.05,295.36 71.30,295.33 71.55,295.32 71.80,295.23 72.05,295.26 72.30,295.25 72.55,295.25 72.80,295.35 73.05,295.26 73.30,295.33 73.55,295.29 73.80,295.18 74.05,295.20 74.30,295.27 74.55,295.31 74.80,295.19 75.05,295.19 75.30,295.20 75.55,295.21 75.80,295.19 76.05,295.27 76.30,295.19 76.55,295.09 76.80,295.07 77.05,295.03 77.30,294.82 77.55,294.48 77.80,293.37 78.05,291.26 78.30,287.81 78.55,284.36 78.80,283.87 79.05,286.94 79.30,290.62 79.55,293.12 79.80,294.28 80.05,294.82 80.30,294.98 80.55,294.99 80.80,295.07 81.05,295.16 81.30,295.10 81.55,294.94 81.80,294.62 82.05,294.05 82.30,293.01 82.55,291.94 82.80,291.85 83.05,292.77 83.30,293.89 83.55,294.69 83.80,294.96 84.05,295.14 84.30,295.19 84.55,295.24 84.80,295.17 85.05,295.18 85.30,295.32 85.55,295.17 85.80,295.28 86.05,295.20 86.30,295.25 86.55,295.24 86.80,295.20 87.05,295.19 87.30,295.35 87.55,295.16 87.80,295.18 88.05,295.30 88.30,295.23 88.55,295.19 88.80,295.31 89.05,295.35 89.30,295.19 89.55,295.29 89.80,295.22 90.05,295.34 90.30,295.26 90.55,295.31 90.80,295.26 91.05,295.15 91.30,295.21 91.55,295.25 91.80,295.13 92.05,295.11 92.30,295.28 92.55,295.25 92.80,295.18 93.05,295.05 93.30,295.15 93.55,295.18 93.80,295.10 94.05,295.04 94.30,294.91 94.55,294.85 94.80,294.73 95.05,294.25 95.30,293.23 95.55,291.24 95.80,287.78 96.05,282.46 96.30,276.69 96.55,272.94 96.80,274.60 97.05,280.08 97.30,285.74 97.55,290.07 97.80,292.62 98.05,294.01 98.30,294.58 98.55,294.81 98.80,294.88 99.05,294.97 99.30,295.00 99.55,295.06 99.80,295.06 100.05,295.12 100.30,295.24 100.55,295.22 100.80,295.10 101.05,295.22 101.30,295.26 101.55,295.17 101.80,295.29 102.05,295.30 102.30,295.13 102.55,295.25 102.80,295.20 103.05,295.21 103.30,295.23 103.55,295.29 103.80,295.23 104.05,295.27 104.30,295.11 104.55,295.12 104.80,294.81 105.05,294.31 105.30,293.72 105.55,292.89 105.80,292.42 106.05,292.95 106.30,293.66 106.55,294.42 106.80,294.94 107.05,295.04 107.30,295.18 107.55,295.22 107.80,295.19 108.05,295.25 108.30,295.34 108.55,295.30 108.80,295.21 109.05,295.30 109.30,295.29 109.55,295.24 109.80,295.31 110.05,295.25 110.30,295.33 110.55,295.25 110.80,295.34 111.05,295.24 111.30,295.21 111.55,295.25 111.80,295.21 112.05,295.36 112.30,295.38 112.55,295.27 112.80,295.23 113.05,295.36 113.30,295.36 113.55,295.23 113.80,295.25 114.05,295.29 114.30,295.21 114.55,295.23 114.80,295.27 115.05,295.21 115.30,295.22 115.55,295.31 115.80,295.25 116.05,295.37 116.30,295.38 116.55,295.32 116.80,295.24 117.05,295.34 117.30,295.26 117.55,295.36 117.80,295.27 118.05,295.33 118.30,295.34 118.55,295.33 118.80,295.34 119.05,295.26 119.30,295.22 119.55,295.26 119.80,295.38 120.05,295.20 120.30,295.25 120.55,295.25 120.80,295.28 121.05,295.36 121.30,295.22 121.55,295.21 121.80,295.19 122.05,295.26 122.30,295.33 122.55,295.28 122.80,295.32 123.05,295.29 123.30,295.26 123.55,295.27 123.80,295.19 124.05,295.37 124.30,295.33 124.55,295.20 124.80,295.22 125.05,295.34 125.30,295.28 125.55,295.32 125.80,295.32 126.05,295.20 126.30,295.33 126.55,295.20 126.80,295.17 127.05,295.28 127.30,295.27 127.55,295.10 127.80,294.95 128.05,294.66 128.30,293.95 128.55,293.18 128.80,292.66 129.05,292.57 129.30,293.44 129.55,294.21 129.80,294.80 130.05,294.97 130.30,295.10 130.55,295.20 130.80,295.17 131.05,295.33 131.30,295.27 131.55,295.33 131.80,295.26 132.05,295.27 132.30,295.36 132.55,295.20 132.80,295.22 133.05,295.35 133.30,295.29 133.55,295.33 133.80,295.37 134.05,295.33 134.30,295.30 134.55,295.33 134.80,295.28 135.05,295.22 135.30,295.24 135.55,295.36 135.80,295.28 136.05,295.18 136.30,295.30 136.55,295.37 136.80,295.29 137.05,295.26 137.30,295.25 137.55,295.28 137.80,295.27 138.05,295.24 138.30,295.32 138.55,295.31 138.80,295.28 139.05,295.26 139.30,295.25 139.55,295.13 139.80,295.17 140.05,295.09 140.30,295.01 140.55,295.04 140.80,294.69 141.05,294.47 141.30,293.96 141.55,293.16 141.80,292.21 142.05,291.30 142.30,290.56 142.55,290.15 142.80,290.27 143.05,291.02 143.30,291.86 143.55,292.88 143.80,293.69 144.05,294.28 144.30,294.64 144.55,294.89 144.80,294.93 145.05,295.06 145.30,295.13 145.55,295.09 145.80,295.11 146.05,295.30 146.30,295.25 146.55,295.24 146.80,295.27 147.05,295.31 147.30,295.26 147.55,295.22 147.80,295.21 148.05,295.33 148.30,295.32 148.55,295.15 148.80,295.27 149.05,295.21 149.30,295.07 149.55,294.94 149.80,294.45 150.05,293.88 150.30,293.04 150.55,292.52 150.80,292.66 151.05,293.59 151.30,294.36 151.55,294.83 151.80,295.01 152.05,295.21 152.30,295.14 152.55,295.24 152.80,295.22 153.05,295.25 153.30,295.22 153.55,295.18 153.80,295.26 154.05,295.22 154.30,295.21 154.55,295.24 154.80,295.20 155.05,295.19 155.30,295.38 155.55,295.19 155.80,295.36 156.05,295.27 156.30,295.21 156.55,295.27 156.80,295.29 157.05,295.20 157.30,295.30 157.55,295.19 157.80,295.25 158.05,295.33 158.30,295.36 158.55,295.23 158.80,295.27 159.05,295.38 159.30,295.25 159.55,295.21 159.80,295.24 160.05,295.36 160.30,295.26 160.55,295.32 160.80,295.38 161.05,295.32 161.30,295.23 161.55,295.29 161.80,295.26 162.05,295.29 162.30,295.31 162.55,295.39 162.80,295.33 163.05,295.29 163.30,295.35 163.55,295.29 163.80,295.23 164.05,295.32 164.30,295.24 164.55,295.23 164.80,295.27 165.05,295.29 165.30,295.20 165.55,295.26 165.80,295.38 166.05,295.29 166.30,295.26 166.55,295.28 166.80,295.32 167.05,295.28 167.30,295.26 167.55,295.30 167.80,295.23 168.05,295.31 168.30,295.26 168.55,295.31 168.80,295.23 169.05,295.27 169.30,295.16 169.55,295.19 169.80,295.14 170.05,294.98 170.30,294.90 170.55,294.85 170.80,294.78 171.05,294.64 171.30,294.51 171.55,294.40 171.80,294.39 172.05,294.28 172.30,294.37 172.55,294.51 172.80,294.78 173.05,294.80 173.30,294.94 173.55,295.00 173.80,295.22 174.05,295.13 174.30,295.17 174.55,295.27 174.80,295.30 175.05,295.18 175.30,295.29 175.55,295.28 175.80,295.29 176.05,295.29 176.30,295.34 176.55,295.35 176.80,295.36 177.05,295.25 177.30,295.20" fill="none" stroke="#f5a050" stroke-width="0.75" stroke-linejoin="round" clip-path="url(#clD)"/>
<line x1="17.30" y1="299.00" x2="17.30" y2="297.00" stroke="#555" stroke-width="0.6" />
<line x1="28.74" y1="299.00" x2="28.74" y2="297.80" stroke="#555" stroke-width="0.6" />
<line x1="40.19" y1="299.00" x2="40.19" y2="297.00" stroke="#555" stroke-width="0.6" />
<line x1="51.63" y1="299.00" x2="51.63" y2="297.80" stroke="#555" stroke-width="0.6" />
<line x1="63.07" y1="299.00" x2="63.07" y2="297.00" stroke="#555" stroke-width="0.6" />
<line x1="74.52" y1="299.00" x2="74.52" y2="297.80" stroke="#555" stroke-width="0.6" />
<line x1="85.96" y1="299.00" x2="85.96" y2="297.00" stroke="#555" stroke-width="0.6" />
<line x1="97.40" y1="299.00" x2="97.40" y2="297.80" stroke="#555" stroke-width="0.6" />
<line x1="108.84" y1="299.00" x2="108.84" y2="297.00" stroke="#555" stroke-width="0.6" />
<line x1="120.29" y1="299.00" x2="120.29" y2="297.80" stroke="#555" stroke-width="0.6" />
<line x1="131.73" y1="299.00" x2="131.73" y2="297.00" stroke="#555" stroke-width="0.6" />
<line x1="143.17" y1="299.00" x2="143.17" y2="297.80" stroke="#555" stroke-width="0.6" />
<line x1="154.62" y1="299.00" x2="154.62" y2="297.00" stroke="#555" stroke-width="0.6" />
<line x1="166.06" y1="299.00" x2="166.06" y2="297.80" stroke="#555" stroke-width="0.6" />
<line x1="177.50" y1="299.00" x2="177.50" y2="297.00" stroke="#555" stroke-width="0.6" />
<text x="18.50" y="309.70" font-family="Liberation Sans" font-size="8.0" fill="#000" font-weight="bold" stroke="#000" stroke-width="0.22" text-anchor="middle" >10</text>
<text x="41.39" y="309.70" font-family="Liberation Sans" font-size="8.0" fill="#000" font-weight="bold" stroke="#000" stroke-width="0.22" text-anchor="middle" >20</text>
<text x="64.27" y="309.70" font-family="Liberation Sans" font-size="8.0" fill="#000" font-weight="bold" stroke="#000" stroke-width="0.22" text-anchor="middle" >30</text>
<text x="87.16" y="309.70" font-family="Liberation Sans" font-size="8.0" fill="#000" font-weight="bold" stroke="#000" stroke-width="0.22" text-anchor="middle" >40</text>
<text x="110.04" y="309.70" font-family="Liberation Sans" font-size="8.0" fill="#000" font-weight="bold" stroke="#000" stroke-width="0.22" text-anchor="middle" >50</text>
<text x="132.93" y="309.70" font-family="Liberation Sans" font-size="8.0" fill="#000" font-weight="bold" stroke="#000" stroke-width="0.22" text-anchor="middle" >60</text>
<text x="155.82" y="309.70" font-family="Liberation Sans" font-size="8.0" fill="#000" font-weight="bold" stroke="#000" stroke-width="0.22" text-anchor="middle" >70</text>
<text x="178.70" y="309.70" font-family="Liberation Sans" font-size="8.0" fill="#000" font-weight="bold" stroke="#000" stroke-width="0.22" text-anchor="middle" >80</text>
<text x="161.00" y="318.00" font-family="Liberation Sans" font-size="7.3" fill="#000" font-weight="bold" stroke="#000" stroke-width="0.22" text-anchor="middle" textLength="38.00" lengthAdjust="spacingAndGlyphs" >2θ / degree</text>
<text x="13.00" y="268.00" font-family="Liberation Sans" font-size="8.2" fill="#000" font-weight="bold" stroke="#000" stroke-width="0.22" textLength="64.80" lengthAdjust="spacingAndGlyphs" transform="rotate(-90 13.00 268.00)" >Intensity / (a.u.)</text>
<text x="108.90" y="175.40" font-family="Liberation Sans" font-size="6.9" fill="#ee3d8e" font-weight="bold" stroke="#ee3d8e" stroke-width="0.22" textLength="66.50" lengthAdjust="spacingAndGlyphs" >S&amp;T after 50 cycles</text>
<text x="134.80" y="184.60" font-family="Liberation Sans" font-size="7" fill="#000" font-weight="bold" stroke="#000" stroke-width="0.22" textLength="6.40" lengthAdjust="spacingAndGlyphs" >Al</text>
<text x="110.00" y="229.20" font-family="Liberation Sans" font-size="7" fill="#2e872e" font-weight="bold" stroke="#2e872e" stroke-width="0.22" textLength="65.40" lengthAdjust="spacingAndGlyphs" >S&amp;T before cycling</text>
<text x="108.20" y="244.40" font-family="Liberation Sans" font-size="7" fill="#8e38f0" font-weight="bold" stroke="#8e38f0" stroke-width="0.22" textLength="67.20" lengthAdjust="spacingAndGlyphs" >S&amp;U after 50 cycles</text>
<text x="135.30" y="251.70" font-family="Liberation Sans" font-size="7" fill="#000" font-weight="bold" stroke="#000" stroke-width="0.22" textLength="6.60" lengthAdjust="spacingAndGlyphs" >Al</text>
<text x="108.90" y="288.20" font-family="Liberation Sans" font-size="7" fill="#f88a2c" font-weight="bold" stroke="#f88a2c" stroke-width="0.22" textLength="66.50" lengthAdjust="spacingAndGlyphs" >S&amp;U before cycling</text>
<text x="159.8" y="218.5" font-family="Liberation Sans" font-weight="bold" font-size="6" fill="#000">*</text>
<text x="39.40" y="180.50" font-family="Liberation Sans" font-size="7" fill="#000" font-weight="bold" stroke="#000" stroke-width="0.22" textLength="10.90" lengthAdjust="spacingAndGlyphs" transform="rotate(-90 39.40 180.50)" >003</text>
<text x="83.40" y="188.60" font-family="Liberation Sans" font-size="7" fill="#000" font-weight="bold" stroke="#000" stroke-width="0.22" textLength="11.80" lengthAdjust="spacingAndGlyphs" transform="rotate(-90 83.40 188.60)" >006</text>
<text x="91.40" y="186.70" font-family="Liberation Sans" font-size="7" fill="#000" font-weight="bold" stroke="#000" stroke-width="0.22" textLength="12.30" lengthAdjust="spacingAndGlyphs" transform="rotate(-90 91.40 186.70)" >102</text>
<line x1="80.60" y1="189.50" x2="80.40" y2="195.50" stroke="#000" stroke-width="0.5" />
<path d="M80.4,197 l-0.9,-2.2 h1.8 z" fill="#000"/>
<line x1="88.50" y1="188.00" x2="83.00" y2="195.50" stroke="#000" stroke-width="0.5" />
<path d="M82.2,196.8 l0.3,-2.4 l1.5,1.1 z" fill="#000"/>
<rect x="185.10" y="167.30" width="37.00" height="132.20" fill="none" stroke="#666" stroke-width="0.9" />
<polyline points="185.10,194.90 185.30,194.81 185.50,194.92 185.70,194.88 185.90,194.93 186.10,194.94 186.30,194.91 186.50,194.89 186.70,194.81 186.90,194.88 187.10,194.85 187.30,194.75 187.50,194.87 187.70,194.77 187.90,194.77 188.10,194.68 188.30,194.78 188.50,194.69 188.70,194.71 188.90,194.70 189.10,194.59 189.30,194.56 189.50,194.48 189.70,194.38 189.90,194.42 190.10,194.37 190.30,194.10 190.50,193.99 190.70,193.95 190.90,193.74 191.10,193.65 191.30,193.45 191.50,193.22 191.70,193.10 191.90,192.80 192.10,192.58 192.30,192.12 192.50,191.81 192.70,191.48 192.90,191.09 193.10,190.58 193.30,190.05 193.50,189.58 193.70,189.08 193.90,188.60 194.10,187.95 194.30,187.38 194.50,186.75 194.70,186.04 194.90,185.42 195.10,184.85 195.30,184.21 195.50,183.55 195.70,182.94 195.90,182.53 196.10,181.99 196.30,181.59 196.50,181.28 196.70,181.16 196.90,181.04 197.10,181.10 197.30,181.14 197.50,181.33 197.70,181.71 197.90,181.95 198.10,182.50 198.30,183.10 198.50,183.54 198.70,184.10 198.90,184.71 199.10,185.32 199.30,186.10 199.50,186.67 199.70,187.37 199.90,187.98 200.10,188.41 200.30,189.03 200.50,189.56 200.70,190.07 200.90,190.50 201.10,190.99 201.30,191.42 201.50,191.82 201.70,192.19 201.90,192.60 202.10,192.71 202.30,192.97 202.50,193.35 202.70,193.44 202.90,193.67 203.10,193.78 203.30,194.04 203.50,194.17 203.70,194.20 203.90,194.20 204.10,194.34 204.30,194.47 204.50,194.51 204.70,194.50 204.90,194.57 205.10,194.54 205.30,194.64 205.50,194.76 205.70,194.69 205.90,194.73 206.10,194.69 206.30,194.82 206.50,194.78 206.70,194.78 206.90,194.87 207.10,194.79 207.30,194.76 207.50,194.88 207.70,194.91 207.90,194.78 208.10,194.85 208.30,194.96 208.50,194.90 208.70,194.88 208.90,194.83 209.10,194.87 209.30,194.94 209.50,195.01 209.70,194.96 209.90,195.03 210.10,194.92 210.30,194.86 210.50,194.92 210.70,194.93 210.90,194.87 211.10,194.88 211.30,195.05 211.50,195.05 211.70,194.90 211.90,194.89 212.10,195.07 212.30,194.91 212.50,194.94 212.70,194.93 212.90,194.93 213.10,194.90 213.30,194.99 213.50,195.05 213.70,194.91 213.90,195.00 214.10,194.93 214.30,195.06 214.50,195.09 214.70,195.09 214.90,195.02 215.10,194.94 215.30,195.06 215.50,194.93 215.70,195.07 215.90,194.98 216.10,195.10 216.30,194.98 216.50,195.07 216.70,195.03 216.90,194.98 217.10,195.03 217.30,195.02 217.50,194.96 217.70,195.04 217.90,195.04 218.10,195.08 218.30,195.01 218.50,195.06 218.70,194.98 218.90,195.05 219.10,194.99 219.30,195.10 219.50,194.98 219.70,195.00 219.90,194.96 220.10,195.01 220.30,195.06 220.50,194.99 220.70,194.97 220.90,195.13 221.10,195.01 221.30,195.00 221.50,195.03 221.70,195.12 221.90,195.10 222.10,195.14" fill="none" stroke="#ee4f95" stroke-width="0.75" stroke-linejoin="round" clip-path="url(#clD1)"/>
<polyline points="185.10,225.76 185.30,225.72 185.50,225.75 185.70,225.66 185.90,225.79 186.10,225.82 186.30,225.83 186.50,225.81 186.70,225.78 186.90,225.81 187.10,225.70 187.30,225.76 187.50,225.68 187.70,225.83 187.90,225.74 188.10,225.68 188.30,225.84 188.50,225.76 188.70,225.68 188.90,225.80 189.10,225.76 189.30,225.76 189.50,225.81 189.70,225.69 189.90,225.68 190.10,225.74 190.30,225.67 190.50,225.76 190.70,225.72 190.90,225.66 191.10,225.64 191.30,225.65 191.50,225.73 191.70,225.80 191.90,225.77 192.10,225.78 192.30,225.72 192.50,225.76 192.70,225.67 192.90,225.67 193.10,225.78 193.30,225.64 193.50,225.71 193.70,225.70 193.90,225.59 194.10,225.69 194.30,225.74 194.50,225.75 194.70,225.65 194.90,225.75 195.10,225.57 195.30,225.74 195.50,225.69 195.70,225.71 195.90,225.63 196.10,225.66 196.30,225.70 196.50,225.57 196.70,225.56 196.90,225.67 197.10,225.69 197.30,225.55 197.50,225.61 197.70,225.59 197.90,225.54 198.10,225.64 198.30,225.52 198.50,225.61 198.70,225.53 198.90,225.46 199.10,225.61 199.30,225.44 199.50,225.42 199.70,225.39 199.90,225.44 200.10,225.36 200.30,225.37 200.50,225.51 200.70,225.35 200.90,225.42 201.10,225.30 201.30,225.23 201.50,225.21 201.70,225.20 201.90,225.33 202.10,225.20 202.30,225.12 202.50,225.03 202.70,225.10 202.90,224.97 203.10,224.87 203.30,224.84 203.50,224.78 203.70,224.57 203.90,224.43 204.10,224.13 204.30,223.91 204.50,223.43 204.70,223.12 204.90,222.51 205.10,221.67 205.30,220.70 205.50,219.53 205.70,218.21 205.90,216.55 206.10,214.69 206.30,212.50 206.50,210.12 206.70,207.61 206.90,204.76 207.10,201.96 207.30,199.10 207.50,196.35 207.70,193.97 207.90,191.74 208.10,190.27 208.30,189.31 208.50,189.49 208.70,190.22 208.90,191.82 209.10,193.82 209.30,196.43 209.50,199.22 209.70,201.95 209.90,204.75 210.10,207.54 210.30,210.19 210.50,212.56 210.70,214.56 210.90,216.50 211.10,218.24 211.30,219.50 211.50,220.62 211.70,221.73 211.90,222.49 212.10,223.02 212.30,223.56 212.50,223.95 212.70,224.26 212.90,224.36 213.10,224.65 213.30,224.82 213.50,224.91 213.70,224.94 213.90,224.99 214.10,225.17 214.30,225.22 214.50,225.23 214.70,225.21 214.90,225.32 215.10,225.35 215.30,225.31 215.50,225.26 215.70,225.38 215.90,225.31 216.10,225.37 216.30,225.43 216.50,225.44 216.70,225.48 216.90,225.53 217.10,225.57 217.30,225.46 217.50,225.60 217.70,225.49 217.90,225.50 218.10,225.60 218.30,225.65 218.50,225.57 218.70,225.63 218.90,225.65 219.10,225.55 219.30,225.62 219.50,225.69 219.70,225.51 219.90,225.54 220.10,225.70 220.30,225.64 220.50,225.62 220.70,225.70 220.90,225.63 221.10,225.58 221.30,225.62 221.50,225.71 221.70,225.69 221.90,225.67 222.10,225.57" fill="none" stroke="#3b8f3b" stroke-width="0.75" stroke-linejoin="round" clip-path="url(#clD1)"/>
<polyline points="185.10,253.88 185.30,253.69 185.50,253.72 185.70,253.82 185.90,253.84 186.10,253.79 186.30,253.72 186.50,253.78 186.70,253.76 186.90,253.73 187.10,253.77 187.30,253.71 187.50,253.70 187.70,253.63 187.90,253.72 188.10,253.57 188.30,253.55 188.50,253.64 188.70,253.51 188.90,253.65 189.10,253.49 189.30,253.52 189.50,253.45 189.70,253.45 189.90,253.44 190.10,253.31 190.30,253.32 190.50,253.33 190.70,253.08 190.90,252.99 191.10,252.84 191.30,252.62 191.50,252.34 191.70,252.16 191.90,251.65 192.10,250.76 192.30,249.98 192.50,248.71 192.70,247.10 192.90,245.37 193.10,243.05 193.30,240.74 193.50,238.20 193.70,235.70 193.90,233.38 194.10,231.72 194.30,231.05 194.50,231.23 194.70,232.42 194.90,234.17 195.10,236.06 195.30,238.28 195.50,240.32 195.70,242.00 195.90,243.57 196.10,244.79 196.30,245.91 196.50,246.57 196.70,247.17 196.90,247.76 197.10,248.16 197.30,248.56 197.50,248.82 197.70,249.29 197.90,249.53 198.10,249.81 198.30,250.19 198.50,250.35 198.70,250.82 198.90,251.08 199.10,251.23 199.30,251.53 199.50,251.69 199.70,252.06 199.90,252.31 200.10,252.42 200.30,252.67 200.50,252.72 200.70,252.94 200.90,253.06 201.10,253.19 201.30,253.19 201.50,253.28 201.70,253.26 201.90,253.50 202.10,253.38 202.30,253.53 202.50,253.57 202.70,253.52 202.90,253.58 203.10,253.59 203.30,253.56 203.50,253.65 203.70,253.66 203.90,253.75 204.10,253.75 204.30,253.81 204.50,253.81 204.70,253.69 204.90,253.77 205.10,253.79 205.30,253.82 205.50,253.70 205.70,253.74 205.90,253.80 206.10,253.75 206.30,253.87 206.50,253.77 206.70,253.84 206.90,253.71 207.10,253.88 207.30,253.90 207.50,253.90 207.70,253.78 207.90,253.88 208.10,253.91 208.30,253.74 208.50,253.74 208.70,253.86 208.90,253.92 209.10,253.73 209.30,253.90 209.50,253.86 209.70,253.83 209.90,253.76 210.10,253.84 210.30,253.84 210.50,253.78 210.70,253.92 210.90,253.89 211.10,253.78 211.30,253.87 211.50,253.87 211.70,253.94 211.90,253.95 212.10,253.93 212.30,253.76 212.50,253.84 212.70,253.79 212.90,253.91 213.10,253.77 213.30,253.92 213.50,253.88 213.70,253.89 213.90,253.95 214.10,253.94 214.30,253.91 214.50,253.89 214.70,253.87 214.90,253.87 215.10,253.77 215.30,253.81 215.50,253.90 215.70,253.85 215.90,253.86 216.10,253.94 216.30,253.85 216.50,253.92 216.70,253.93 216.90,253.94 217.10,253.82 217.30,253.89 217.50,253.87 217.70,253.89 217.90,253.79 218.10,253.81 218.30,253.82 218.50,253.93 218.70,253.93 218.90,253.85 219.10,253.90 219.30,253.86 219.50,253.88 219.70,253.83 219.90,253.85 220.10,253.97 220.30,253.96 220.50,253.80 220.70,253.80 220.90,253.95 221.10,253.87 221.30,253.91 221.50,253.90 221.70,253.90 221.90,253.96 222.10,253.81" fill="none" stroke="#9b45f0" stroke-width="0.75" stroke-linejoin="round" clip-path="url(#clD1)"/>
<polyline points="185.10,294.91 185.30,294.79 185.50,294.75 185.70,294.79 185.90,294.83 186.10,294.89 186.30,294.84 186.50,294.92 186.70,294.76 186.90,294.80 187.10,294.84 187.30,294.84 187.50,294.86 187.70,294.82 187.90,294.74 188.10,294.87 188.30,294.87 188.50,294.73 188.70,294.87 188.90,294.71 189.10,294.84 189.30,294.83 189.50,294.76 189.70,294.72 189.90,294.75 190.10,294.82 190.30,294.80 190.50,294.86 190.70,294.72 190.90,294.81 191.10,294.75 191.30,294.69 191.50,294.72 191.70,294.70 191.90,294.71 192.10,294.68 192.30,294.86 192.50,294.74 192.70,294.81 192.90,294.74 193.10,294.76 193.30,294.70 193.50,294.84 193.70,294.69 193.90,294.83 194.10,294.79 194.30,294.81 194.50,294.65 194.70,294.82 194.90,294.75 195.10,294.73 195.30,294.72 195.50,294.69 195.70,294.79 195.90,294.79 196.10,294.78 196.30,294.61 196.50,294.68 196.70,294.71 196.90,294.60 197.10,294.73 197.30,294.70 197.50,294.56 197.70,294.59 197.90,294.65 198.10,294.69 198.30,294.70 198.50,294.54 198.70,294.64 198.90,294.58 199.10,294.52 199.30,294.49 199.50,294.45 199.70,294.42 199.90,294.48 200.10,294.40 200.30,294.40 200.50,294.41 200.70,294.35 200.90,294.34 201.10,294.33 201.30,294.45 201.50,294.31 201.70,294.32 201.90,294.27 202.10,294.32 202.30,294.26 202.50,294.24 202.70,294.18 202.90,294.10 203.10,294.07 203.30,293.89 203.50,293.85 203.70,293.70 203.90,293.69 204.10,293.41 204.30,293.37 204.50,292.98 204.70,292.72 204.90,292.45 205.10,291.99 205.30,291.39 205.50,290.73 205.70,290.12 205.90,289.07 206.10,288.06 206.30,286.88 206.50,285.38 206.70,283.75 206.90,281.86 207.10,280.00 207.30,277.73 207.50,275.38 207.70,272.84 207.90,270.31 208.10,267.60 208.30,264.94 208.50,262.42 208.70,260.13 208.90,258.04 209.10,256.25 209.30,255.05 209.50,254.47 209.70,254.41 209.90,255.12 210.10,256.20 210.30,258.04 210.50,260.13 210.70,262.47 210.90,265.02 211.10,267.56 211.30,270.17 211.50,272.76 211.70,275.43 211.90,277.69 212.10,279.93 212.30,281.91 212.50,283.83 212.70,285.43 212.90,286.79 213.10,288.09 213.30,289.08 213.50,290.13 213.70,290.74 213.90,291.53 214.10,291.98 214.30,292.33 214.50,292.85 214.70,292.98 214.90,293.30 215.10,293.41 215.30,293.53 215.50,293.79 215.70,293.91 215.90,294.00 216.10,294.03 216.30,294.08 216.50,294.04 216.70,294.25 216.90,294.16 217.10,294.26 217.30,294.17 217.50,294.26 217.70,294.33 217.90,294.35 218.10,294.36 218.30,294.38 218.50,294.33 218.70,294.47 218.90,294.43 219.10,294.40 219.30,294.47 219.50,294.54 219.70,294.57 219.90,294.52 220.10,294.48 220.30,294.59 220.50,294.60 220.70,294.58 220.90,294.69 221.10,294.58 221.30,294.62 221.50,294.53 221.70,294.56 221.90,294.58 222.10,294.59" fill="none" stroke="#f5a050" stroke-width="0.75" stroke-linejoin="round" clip-path="url(#clD1)"/>
<line x1="197.00" y1="179.00" x2="197.00" y2="219.50" stroke="#888" stroke-width="0.5" stroke-dasharray="0.7 0.7"/>
<line x1="208.40" y1="179.00" x2="208.40" y2="219.50" stroke="#888" stroke-width="0.5" stroke-dasharray="0.7 0.7"/>
<line x1="194.60" y1="239.30" x2="194.60" y2="270.70" stroke="#888" stroke-width="0.5" stroke-dasharray="0.7 0.7"/>
<line x1="209.30" y1="239.30" x2="209.30" y2="285.00" stroke="#888" stroke-width="0.5" stroke-dasharray="0.7 0.7"/>
<line x1="197.00" y1="179.20" x2="208.40" y2="179.20" stroke="#000" stroke-width="0.5" />
<path d="M197.0,179.2 l2.6,-1.2 v2.4 z M208.4,179.2 l-2.6,-1.2 v2.4 z" fill="#000"/>
<line x1="194.60" y1="239.30" x2="209.30" y2="239.30" stroke="#000" stroke-width="0.5" />
<path d="M194.6,239.3 l2.6,-1.2 v2.4 z M209.3,239.3 l-2.6,-1.2 v2.4 z" fill="#000"/>
<text x="193.70" y="176.50" font-family="Liberation Sans" font-size="7.2" fill="#000" font-weight="bold" stroke="#000" stroke-width="0.22" textLength="23.80" lengthAdjust="spacingAndGlyphs" >Δθ=0.5</text>
<text x="198.30" y="236.30" font-family="Liberation Sans" font-size="7.2" fill="#000" font-weight="bold" stroke="#000" stroke-width="0.22" textLength="22.90" lengthAdjust="spacingAndGlyphs" >Δθ=0.7</text>
<text x="207.50" y="267.10" font-family="Liberation Sans" font-size="7" fill="#000" font-weight="bold" stroke="#000" stroke-width="0.22" textLength="11.00" lengthAdjust="spacingAndGlyphs" transform="rotate(-90 207.50 267.10)" >003</text>
<text x="185.50" y="309.70" font-family="Liberation Sans" font-size="8.0" fill="#000" font-weight="bold" stroke="#000" stroke-width="0.22" text-anchor="middle" >18</text>
<text x="208.60" y="309.70" font-family="Liberation Sans" font-size="8.0" fill="#000" font-weight="bold" stroke="#000" stroke-width="0.22" text-anchor="middle" >19</text>
<line x1="185.10" y1="299.50" x2="185.10" y2="297.50" stroke="#555" stroke-width="0.6" />
<line x1="196.75" y1="299.50" x2="196.75" y2="297.50" stroke="#555" stroke-width="0.6" />
<line x1="208.40" y1="299.50" x2="208.40" y2="297.50" stroke="#555" stroke-width="0.6" />
<line x1="220.05" y1="299.50" x2="220.05" y2="297.50" stroke="#555" stroke-width="0.6" />
<rect x="227.20" y="167.30" width="34.60" height="132.20" fill="none" stroke="#666" stroke-width="0.9" />
<polyline points="227.20,194.30 227.40,194.22 227.60,195.19 227.80,194.78 228.00,194.66 228.20,194.74 228.40,194.40 228.60,195.09 228.80,194.92 229.00,194.54 229.20,194.05 229.40,194.01 229.60,194.03 229.80,194.84 230.00,193.99 230.20,194.46 230.40,194.50 230.60,194.27 230.80,194.11 231.00,194.78 231.20,194.66 231.40,194.24 231.60,193.75 231.80,193.96 232.00,193.31 232.20,192.32 232.40,191.72 232.60,191.17 232.80,190.52 233.00,190.23 233.20,189.87 233.40,188.81 233.60,188.17 233.80,188.15 234.00,188.17 234.20,188.78 234.40,189.11 234.60,189.49 234.80,189.37 235.00,190.65 235.20,190.61 235.40,191.55 235.60,192.02 235.80,192.13 236.00,192.90 236.20,192.89 236.40,193.78 236.60,193.30 236.80,194.09 237.00,193.45 237.20,193.27 237.40,193.77 237.60,194.24 237.80,193.83 238.00,193.18 238.20,193.22 238.40,192.63 238.60,192.51 238.80,191.38 239.00,190.36 239.20,190.26 239.40,187.76 239.60,186.30 239.80,184.70 240.00,182.71 240.20,180.84 240.40,178.59 240.60,176.08 240.80,175.04 241.00,173.47 241.20,172.07 241.40,172.05 241.60,172.77 241.80,174.67 242.00,176.68 242.20,178.89 242.40,180.49 242.60,183.39 242.80,185.45 243.00,186.75 243.20,187.92 243.40,189.33 243.60,191.10 243.80,191.20 244.00,192.57 244.20,193.21 244.40,192.77 244.60,193.21 244.80,193.54 245.00,193.93 245.20,194.54 245.40,194.56 245.60,194.14 245.80,193.73 246.00,194.41 246.20,194.03 246.40,194.17 246.60,194.97 246.80,194.22 247.00,194.37 247.20,194.72 247.40,195.05 247.60,194.02 247.80,194.67 248.00,194.77 248.20,194.14 248.40,194.12 248.60,194.41 248.80,194.43 249.00,194.87 249.20,195.20 249.40,194.84 249.60,194.57 249.80,195.25 250.00,195.18 250.20,194.60 250.40,194.64 250.60,194.70 250.80,194.21 251.00,194.86 251.20,194.95 251.40,194.67 251.60,194.80 251.80,195.19 252.00,194.85 252.20,194.94 252.40,195.17 252.60,195.00 252.80,194.67 253.00,195.27 253.20,195.26 253.40,194.22 253.60,195.33 253.80,194.33 254.00,195.19 254.20,194.91 254.40,195.07 254.60,194.55 254.80,194.48 255.00,194.35 255.20,194.29 255.40,194.28 255.60,194.35 255.80,195.13 256.00,194.80 256.20,195.18 256.40,195.34 256.60,194.68 256.80,194.37 257.00,195.23 257.20,194.29 257.40,194.77 257.60,195.17 257.80,194.31 258.00,194.48 258.20,194.94 258.40,194.28 258.60,195.20 258.80,195.06 259.00,194.83 259.20,195.10 259.40,194.33 259.60,195.18 259.80,194.81 260.00,194.63 260.20,195.15 260.40,194.72 260.60,194.22 260.80,195.01 261.00,194.22 261.20,194.85 261.40,194.43 261.60,194.67 261.80,194.68" fill="none" stroke="#ee4f95" stroke-width="0.75" stroke-linejoin="round" clip-path="url(#clD2)"/>
<polyline points="227.20,226.90 227.40,226.86 227.60,226.66 227.80,226.57 228.00,226.96 228.20,226.46 228.40,226.82 228.60,226.92 228.80,226.85 229.00,226.43 229.20,226.47 229.40,226.86 229.60,226.96 229.80,226.85 230.00,227.09 230.20,226.89 230.40,226.70 230.60,227.07 230.80,226.56 231.00,226.48 231.20,226.67 231.40,226.41 231.60,226.79 231.80,226.77 232.00,226.52 232.20,226.82 232.40,226.72 232.60,226.87 232.80,226.94 233.00,226.94 233.20,226.86 233.40,226.45 233.60,226.78 233.80,226.84 234.00,226.51 234.20,226.63 234.40,226.73 234.60,226.55 234.80,226.42 235.00,226.56 235.20,226.64 235.40,226.89 235.60,227.04 235.80,226.93 236.00,226.96 236.20,227.02 236.40,226.69 236.60,226.76 236.80,226.34 237.00,226.82 237.20,226.89 237.40,226.54 237.60,226.72 237.80,226.36 238.00,226.94 238.20,226.57 238.40,226.58 238.60,226.41 238.80,226.85 239.00,226.90 239.20,226.51 239.40,226.57 239.60,226.39 239.80,226.66 240.00,226.59 240.20,226.72 240.40,226.12 240.60,226.43 240.80,226.72 241.00,226.01 241.20,226.37 241.40,226.11 241.60,225.81 241.80,225.77 242.00,225.98 242.20,225.12 242.40,224.84 242.60,224.49 242.80,223.18 243.00,222.17 243.20,221.46 243.40,220.23 243.60,218.51 243.80,217.79 244.00,216.62 244.20,215.70 244.40,215.13 244.60,215.84 244.80,216.07 245.00,217.64 245.20,218.50 245.40,219.93 245.60,220.75 245.80,221.69 246.00,222.59 246.20,222.61 246.40,222.57 246.60,222.72 246.80,222.04 247.00,220.32 247.20,219.29 247.40,217.22 247.60,214.40 247.80,211.61 248.00,208.37 248.20,205.65 248.40,201.89 248.60,199.49 248.80,197.18 249.00,196.06 249.20,195.46 249.40,197.23 249.60,199.02 249.80,202.00 250.00,205.77 250.20,208.58 250.40,212.16 250.60,215.20 250.80,217.36 251.00,219.43 251.20,221.48 251.40,222.65 251.60,223.92 251.80,224.48 252.00,224.86 252.20,224.97 252.40,225.85 252.60,225.95 252.80,225.67 253.00,226.16 253.20,225.95 253.40,226.13 253.60,225.99 253.80,225.98 254.00,226.29 254.20,226.50 254.40,226.53 254.60,226.66 254.80,226.72 255.00,226.63 255.20,226.30 255.40,226.69 255.60,226.68 255.80,226.26 256.00,226.20 256.20,226.85 256.40,226.34 256.60,226.84 256.80,226.90 257.00,226.55 257.20,226.63 257.40,226.32 257.60,226.33 257.80,226.88 258.00,226.73 258.20,226.48 258.40,226.44 258.60,226.36 258.80,226.85 259.00,226.51 259.20,226.36 259.40,226.91 259.60,226.55 259.80,226.46 260.00,226.74 260.20,226.60 260.40,226.72 260.60,226.67 260.80,226.73 261.00,226.55 261.20,226.71 261.40,227.03 261.60,226.51 261.80,226.66" fill="none" stroke="#3b8f3b" stroke-width="0.75" stroke-linejoin="round" clip-path="url(#clD2)"/>
<polyline points="227.20,254.22 227.40,254.21 227.60,254.14 227.80,254.30 228.00,254.48 228.20,254.01 228.40,254.18 228.60,254.49 228.80,253.90 229.00,254.30 229.20,254.10 229.40,254.17 229.60,254.28 229.80,253.98 230.00,253.83 230.20,254.12 230.40,254.25 230.60,253.83 230.80,253.97 231.00,253.51 231.20,253.33 231.40,252.97 231.60,252.61 231.80,252.04 232.00,251.51 232.20,250.94 232.40,250.09 232.60,249.97 232.80,249.46 233.00,249.26 233.20,249.47 233.40,249.64 233.60,250.08 233.80,251.05 234.00,251.21 234.20,251.85 234.40,252.49 234.60,252.85 234.80,252.96 235.00,253.34 235.20,253.84 235.40,253.61 235.60,253.92 235.80,253.77 236.00,253.79 236.20,254.37 236.40,254.06 236.60,254.10 236.80,253.87 237.00,253.93 237.20,254.15 237.40,254.40 237.60,254.41 237.80,254.08 238.00,254.15 238.20,253.97 238.40,254.34 238.60,253.92 238.80,254.02 239.00,253.94 239.20,254.27 239.40,254.34 239.60,254.08 239.80,254.00 240.00,254.34 240.20,253.84 240.40,254.23 240.60,253.95 240.80,254.29 241.00,253.88 241.20,254.22 241.40,254.18 241.60,253.82 241.80,253.71 242.00,253.91 242.20,253.49 242.40,253.67 242.60,253.35 242.80,253.35 243.00,252.72 243.20,252.69 243.40,251.93 243.60,251.48 243.80,250.79 244.00,249.52 244.20,248.52 244.40,247.53 244.60,246.19 244.80,244.92 245.00,243.02 245.20,241.96 245.40,240.87 245.60,240.48 245.80,239.99 246.00,240.14 246.20,240.76 246.40,241.99 246.60,243.21 246.80,244.40 247.00,246.15 247.20,247.64 247.40,248.58 247.60,249.69 247.80,250.89 248.00,251.72 248.20,252.36 248.40,252.73 248.60,252.78 248.80,253.18 249.00,253.38 249.20,253.82 249.40,253.93 249.60,254.03 249.80,253.69 250.00,253.79 250.20,254.28 250.40,253.92 250.60,254.10 250.80,254.02 251.00,254.21 251.20,253.80 251.40,254.29 251.60,254.37 251.80,254.25 252.00,254.05 252.20,254.27 252.40,253.99 252.60,254.33 252.80,254.35 253.00,254.24 253.20,254.34 253.40,254.31 253.60,254.36 253.80,254.44 254.00,254.36 254.20,254.46 254.40,254.34 254.60,253.97 254.80,254.04 255.00,254.47 255.20,253.98 255.40,254.45 255.60,254.36 255.80,254.02 256.00,254.47 256.20,254.37 256.40,254.07 256.60,254.15 256.80,254.35 257.00,254.32 257.20,254.30 257.40,254.46 257.60,254.14 257.80,254.47 258.00,254.54 258.20,254.47 258.40,254.22 258.60,254.11 258.80,254.26 259.00,254.20 259.20,254.36 259.40,254.02 259.60,254.14 259.80,254.02 260.00,254.04 260.20,254.15 260.40,254.29 260.60,254.44 260.80,254.20 261.00,254.50 261.20,254.27 261.40,254.55 261.60,254.17 261.80,254.17" fill="none" stroke="#9b45f0" stroke-width="0.75" stroke-linejoin="round" clip-path="url(#clD2)"/>
<polyline points="227.20,293.89 227.40,294.21 227.60,294.11 227.80,294.28 228.00,294.06 228.20,294.19 228.40,293.89 228.60,294.27 228.80,293.84 229.00,293.90 229.20,294.30 229.40,293.84 229.60,294.28 229.80,294.30 230.00,293.83 230.20,294.01 230.40,294.19 230.60,294.28 230.80,294.06 231.00,294.25 231.20,294.00 231.40,294.16 231.60,293.82 231.80,294.12 232.00,293.89 232.20,294.15 232.40,293.92 232.60,293.79 232.80,294.00 233.00,293.89 233.20,294.03 233.40,293.78 233.60,293.99 233.80,293.88 234.00,293.95 234.20,294.07 234.40,294.13 234.60,294.00 234.80,293.97 235.00,293.89 235.20,294.05 235.40,294.12 235.60,293.86 235.80,293.80 236.00,294.09 236.20,293.86 236.40,294.10 236.60,294.00 236.80,293.76 237.00,293.88 237.20,294.17 237.40,294.11 237.60,294.02 237.80,294.18 238.00,294.17 238.20,294.06 238.40,294.10 238.60,293.90 238.80,294.09 239.00,293.77 239.20,294.09 239.40,294.09 239.60,294.00 239.80,294.05 240.00,293.89 240.20,293.87 240.40,293.57 240.60,293.84 240.80,293.49 241.00,293.85 241.20,293.74 241.40,293.70 241.60,293.51 241.80,293.11 242.00,293.03 242.20,292.64 242.40,292.38 242.60,291.63 242.80,290.77 243.00,289.98 243.20,288.91 243.40,287.61 243.60,286.19 243.80,285.08 244.00,283.93 244.20,282.91 244.40,282.69 244.60,282.88 244.80,283.79 245.00,284.64 245.20,286.18 245.40,287.32 245.60,288.24 245.80,289.55 246.00,290.43 246.20,290.71 246.40,291.51 246.60,291.65 246.80,291.93 247.00,291.84 247.20,291.41 247.40,291.03 247.60,290.04 247.80,289.42 248.00,288.25 248.20,286.86 248.40,285.02 248.60,282.95 248.80,280.81 249.00,278.28 249.20,275.97 249.40,273.35 249.60,270.78 249.80,268.54 250.00,266.40 250.20,265.30 250.40,264.96 250.60,265.32 250.80,266.36 251.00,268.32 251.20,270.67 251.40,273.23 251.60,276.05 251.80,278.48 252.00,280.83 252.20,283.43 252.40,285.23 252.60,287.11 252.80,288.31 253.00,289.35 253.20,290.28 253.40,291.46 253.60,291.60 253.80,292.07 254.00,292.66 254.20,292.82 254.40,292.82 254.60,293.11 254.80,293.34 255.00,293.22 255.20,293.39 255.40,293.38 255.60,293.55 255.80,293.79 256.00,293.67 256.20,293.78 256.40,293.84 256.60,293.47 256.80,293.53 257.00,293.91 257.20,293.77 257.40,293.75 257.60,293.99 257.80,293.70 258.00,293.82 258.20,294.00 258.40,293.96 258.60,293.65 258.80,293.76 259.00,294.07 259.20,293.95 259.40,293.85 259.60,294.11 259.80,293.94 260.00,294.12 260.20,293.82 260.40,294.00 260.60,293.89 260.80,293.70 261.00,294.04 261.20,293.97 261.40,293.88 261.60,293.88 261.80,293.93" fill="none" stroke="#f5a050" stroke-width="0.75" stroke-linejoin="round" clip-path="url(#clD2)"/>
<text x="245.80" y="280.80" font-family="Liberation Sans" font-size="7" fill="#000" font-weight="bold" stroke="#000" stroke-width="0.22" textLength="12.30" lengthAdjust="spacingAndGlyphs" transform="rotate(-90 245.80 280.80)" >006</text>
<text x="255.00" y="264.90" font-family="Liberation Sans" font-size="7" fill="#000" font-weight="bold" stroke="#000" stroke-width="0.22" textLength="11.50" lengthAdjust="spacingAndGlyphs" transform="rotate(-90 255.00 264.90)" >102</text>
<text x="240.40" y="309.70" font-family="Liberation Sans" font-size="8.0" fill="#000" font-weight="bold" stroke="#000" stroke-width="0.22" text-anchor="middle" >38</text>
<text x="257.60" y="309.70" font-family="Liberation Sans" font-size="8.0" fill="#000" font-weight="bold" stroke="#000" stroke-width="0.22" text-anchor="middle" >39</text>
<line x1="231.80" y1="299.50" x2="231.80" y2="297.50" stroke="#555" stroke-width="0.6" />
<line x1="240.40" y1="299.50" x2="240.40" y2="297.50" stroke="#555" stroke-width="0.6" />
<line x1="249.00" y1="299.50" x2="249.00" y2="297.50" stroke="#555" stroke-width="0.6" />
<line x1="257.60" y1="299.50" x2="257.60" y2="297.50" stroke="#555" stroke-width="0.6" />
<text x="263.10" y="175.40" font-family="Liberation Serif" font-size="10.5" fill="#000" font-weight="bold" >(E)</text>
<defs>
<radialGradient id="tealB" cx="0.42" cy="0.38" r="0.65">
 <stop offset="0" stop-color="#76b4aa"/><stop offset="0.55" stop-color="#5a988e"/><stop offset="1" stop-color="#2c6058"/>
</radialGradient>
<radialGradient id="redB" cx="0.42" cy="0.38" r="0.65">
 <stop offset="0" stop-color="#bc7c78"/><stop offset="0.55" stop-color="#a0625e"/><stop offset="1" stop-color="#603432"/>
</radialGradient>
<clipPath id="clE1"><rect x="276.3" y="171.3" width="91.6" height="62.2"/></clipPath>
<clipPath id="clE2"><rect x="276.3" y="236.3" width="91.6" height="73.3"/></clipPath>
<filter id="eSoft" x="0" y="0" width="1" height="1"><feGaussianBlur stdDeviation="0.35"/></filter>
</defs>
<g clip-path="url(#clE1)"><g filter="url(#eSoft)">
<rect x="276.30" y="171.30" width="91.60" height="62.20" fill="#1e423d" />
<ellipse cx="317.7" cy="206.1" rx="6.7" ry="2.7" fill="#080808"/>
<ellipse cx="322.8" cy="207.8" rx="3.7" ry="2.8" fill="#080808"/>
<ellipse cx="334.0" cy="220.6" rx="3.4" ry="2.3" fill="#080808"/>
<ellipse cx="284.6" cy="221.7" rx="5.8" ry="1.6" fill="#080808"/>
<ellipse cx="366.3" cy="231.3" rx="5.6" ry="3.0" fill="#080808"/>
<ellipse cx="290.7" cy="172.2" rx="5.1" ry="1.6" fill="#080808"/>
<ellipse cx="293.7" cy="186.3" rx="3.1" ry="2.7" fill="#080808"/>
<ellipse cx="316.7" cy="223.7" rx="5.1" ry="3.1" fill="#080808"/>
<ellipse cx="322.1" cy="212.5" rx="4.8" ry="2.2" fill="#080808"/>
<polygon points="318.0,188.7 322.4,185.6 329.9,188.5 332.1,191.0 334.0,197.3 331.0,201.8 323.0,202.8 317.9,201.1 317.3,194.6" fill="url(#tealB)" stroke="#b8e8e0" stroke-width="0.6" stroke-opacity="0.8" stroke-linejoin="round"/>
<ellipse cx="323.3" cy="198.3" rx="4.0" ry="3.4" fill="none" stroke="#b8e8e0" stroke-width="0.5" stroke-opacity="0.55"/>
<polygon points="348.7,185.4 353.4,190.2 348.2,195.1 341.8,195.3 336.3,193.6 336.8,186.1 343.2,183.6" fill="url(#tealB)" stroke="#b8e8e0" stroke-width="0.6" stroke-opacity="0.8" stroke-linejoin="round"/>
<ellipse cx="343.4" cy="191.4" rx="4.8" ry="4.1" fill="none" stroke="#b8e8e0" stroke-width="0.5" stroke-opacity="0.55"/>
<polygon points="366.3,172.6 373.2,182.9 370.0,191.1 361.3,191.5 353.9,187.2 358.2,176.0" fill="url(#tealB)" stroke="#b8e8e0" stroke-width="0.6" stroke-opacity="0.8" stroke-linejoin="round"/>
<polygon points="361.0,210.8 361.5,202.6 363.8,198.8 373.6,199.5 377.5,206.0 374.0,212.0 365.4,214.3" fill="url(#tealB)" stroke="#b8e8e0" stroke-width="0.6" stroke-opacity="0.8" stroke-linejoin="round"/>
<ellipse cx="369.4" cy="208.5" rx="3.5" ry="3.0" fill="none" stroke="#b8e8e0" stroke-width="0.5" stroke-opacity="0.55"/>
<polygon points="332.8,211.5 325.3,208.2 322.6,202.7 327.7,193.6 333.1,193.2 340.5,201.1 341.7,206.3" fill="url(#tealB)" stroke="#b8e8e0" stroke-width="0.6" stroke-opacity="0.8" stroke-linejoin="round"/>
<polygon points="314.3,233.8 309.2,238.2 301.1,235.0 300.1,228.9 302.3,222.5 309.7,221.6 317.9,225.2" fill="url(#tealB)" stroke="#b8e8e0" stroke-width="0.6" stroke-opacity="0.8" stroke-linejoin="round"/>
<polygon points="352.1,234.2 358.0,226.9 364.6,228.9 370.4,232.2 368.3,237.5 361.2,244.7 356.2,242.6" fill="url(#tealB)" stroke="#b8e8e0" stroke-width="0.6" stroke-opacity="0.8" stroke-linejoin="round"/>
<ellipse cx="363.0" cy="236.2" rx="3.4" ry="2.9" fill="none" stroke="#b8e8e0" stroke-width="0.5" stroke-opacity="0.55"/>
<polygon points="306.9,200.0 309.4,196.0 317.7,194.4 322.0,196.3 321.7,204.0 317.0,206.7 308.3,207.2" fill="url(#tealB)" stroke="#b8e8e0" stroke-width="0.6" stroke-opacity="0.8" stroke-linejoin="round"/>
<ellipse cx="311.5" cy="200.1" rx="3.0" ry="2.6" fill="none" stroke="#b8e8e0" stroke-width="0.5" stroke-opacity="0.55"/>
<polygon points="345.9,221.6 345.6,228.4 341.2,231.0 336.5,233.0 329.4,226.4 329.4,224.0 331.2,217.8 338.3,216.0 340.9,216.7" fill="url(#tealB)" stroke="#b8e8e0" stroke-width="0.6" stroke-opacity="0.8" stroke-linejoin="round"/>
<polygon points="362.5,191.4 365.1,198.1 359.1,202.4 351.6,203.3 347.2,195.2 349.9,188.0 358.6,185.9" fill="url(#tealB)" stroke="#b8e8e0" stroke-width="0.6" stroke-opacity="0.8" stroke-linejoin="round"/>
<polygon points="350.6,208.4 356.9,207.5 362.2,208.5 364.8,216.1 363.5,220.4 355.6,222.5 349.7,222.6 345.9,213.1" fill="url(#tealB)" stroke="#b8e8e0" stroke-width="0.6" stroke-opacity="0.8" stroke-linejoin="round"/>
<polygon points="273.5,231.8 281.8,230.3 287.5,236.3 282.1,240.6 275.8,241.5 268.5,237.0" fill="url(#tealB)" stroke="#b8e8e0" stroke-width="0.6" stroke-opacity="0.8" stroke-linejoin="round"/>
<ellipse cx="279.2" cy="238.4" rx="3.4" ry="2.9" fill="none" stroke="#b8e8e0" stroke-width="0.5" stroke-opacity="0.55"/>
<polygon points="295.2,223.7 286.4,225.2 284.5,218.4 285.5,213.3 293.7,212.1 301.9,217.8" fill="url(#tealB)" stroke="#b8e8e0" stroke-width="0.6" stroke-opacity="0.8" stroke-linejoin="round"/>
<polygon points="363.0,235.6 360.5,241.7 354.7,241.2 348.8,240.0 345.9,233.3 349.6,231.4 356.8,228.4 361.4,232.9" fill="url(#tealB)" stroke="#b8e8e0" stroke-width="0.6" stroke-opacity="0.8" stroke-linejoin="round"/>
<ellipse cx="352.7" cy="236.7" rx="4.2" ry="3.6" fill="none" stroke="#b8e8e0" stroke-width="0.5" stroke-opacity="0.55"/>
<polygon points="315.7,205.8 325.9,204.8 330.3,209.9 329.4,215.6 317.6,215.4 313.9,210.4" fill="url(#tealB)" stroke="#b8e8e0" stroke-width="0.6" stroke-opacity="0.8" stroke-linejoin="round"/>
<ellipse cx="322.1" cy="209.0" rx="3.5" ry="2.9" fill="none" stroke="#b8e8e0" stroke-width="0.5" stroke-opacity="0.55"/>
<polygon points="283.7,177.7 287.1,172.3 291.8,170.5 297.9,172.6 299.3,178.6 298.9,183.3 294.3,187.7 288.5,186.4 284.1,183.7" fill="url(#tealB)" stroke="#b8e8e0" stroke-width="0.6" stroke-opacity="0.8" stroke-linejoin="round"/>
<polygon points="285.2,192.0 277.5,189.9 276.0,181.1 281.6,177.0 291.0,180.8 290.5,187.8" fill="url(#tealB)" stroke="#b8e8e0" stroke-width="0.6" stroke-opacity="0.8" stroke-linejoin="round"/>
<ellipse cx="279.4" cy="184.7" rx="4.2" ry="3.6" fill="none" stroke="#b8e8e0" stroke-width="0.5" stroke-opacity="0.55"/>
<polygon points="342.2,218.4 347.6,217.1 352.6,222.0 353.1,227.0 345.3,231.5 340.1,227.8 336.2,221.6" fill="url(#tealB)" stroke="#b8e8e0" stroke-width="0.6" stroke-opacity="0.8" stroke-linejoin="round"/>
<ellipse cx="344.5" cy="223.6" rx="3.0" ry="2.5" fill="none" stroke="#b8e8e0" stroke-width="0.5" stroke-opacity="0.55"/>
<polygon points="319.6,225.4 314.7,230.9 307.4,232.5 304.9,229.6 302.1,224.3 308.8,219.8 316.3,221.5" fill="url(#tealB)" stroke="#b8e8e0" stroke-width="0.6" stroke-opacity="0.8" stroke-linejoin="round"/>
<ellipse cx="307.8" cy="228.6" rx="3.0" ry="2.5" fill="none" stroke="#b8e8e0" stroke-width="0.5" stroke-opacity="0.55"/>
<polygon points="328.4,196.3 338.6,190.5 343.6,194.9 344.4,201.8 337.3,204.9 330.1,203.2" fill="url(#tealB)" stroke="#b8e8e0" stroke-width="0.6" stroke-opacity="0.8" stroke-linejoin="round"/>
<ellipse cx="338.1" cy="195.9" rx="2.7" ry="2.3" fill="none" stroke="#b8e8e0" stroke-width="0.5" stroke-opacity="0.55"/>
<polygon points="355.7,181.9 359.0,184.6 359.6,193.4 353.4,195.9 346.5,193.2 344.8,189.4 347.2,184.6" fill="url(#tealB)" stroke="#b8e8e0" stroke-width="0.6" stroke-opacity="0.8" stroke-linejoin="round"/>
<ellipse cx="350.6" cy="187.0" rx="3.2" ry="2.7" fill="none" stroke="#b8e8e0" stroke-width="0.5" stroke-opacity="0.55"/>
<polygon points="321.9,226.1 316.4,229.5 311.7,228.6 305.9,226.8 306.8,218.0 310.4,215.8 318.1,215.5 322.6,220.2" fill="url(#tealB)" stroke="#b8e8e0" stroke-width="0.6" stroke-opacity="0.8" stroke-linejoin="round"/>
<polygon points="344.8,211.6 350.8,208.5 358.5,213.2 360.3,218.0 350.8,225.1 344.1,221.2" fill="url(#tealB)" stroke="#b8e8e0" stroke-width="0.6" stroke-opacity="0.8" stroke-linejoin="round"/>
<ellipse cx="352.2" cy="213.4" rx="2.9" ry="2.4" fill="none" stroke="#b8e8e0" stroke-width="0.5" stroke-opacity="0.55"/>
<polygon points="303.3,238.5 300.4,235.2 296.2,230.5 296.5,226.1 302.6,222.3 308.3,223.1 311.3,226.1 311.7,231.3 309.5,235.7" fill="url(#tealB)" stroke="#b8e8e0" stroke-width="0.6" stroke-opacity="0.8" stroke-linejoin="round"/>
<ellipse cx="301.6" cy="230.5" rx="2.9" ry="2.4" fill="none" stroke="#b8e8e0" stroke-width="0.5" stroke-opacity="0.55"/>
<polygon points="303.1,205.5 301.2,210.3 295.3,215.3 292.0,213.2 289.0,208.4 286.3,205.4 290.9,199.9 299.3,197.8 301.2,201.8" fill="url(#tealB)" stroke="#b8e8e0" stroke-width="0.6" stroke-opacity="0.8" stroke-linejoin="round"/>
<ellipse cx="298.5" cy="209.1" rx="3.0" ry="2.6" fill="none" stroke="#b8e8e0" stroke-width="0.5" stroke-opacity="0.55"/>
<polygon points="341.1,197.7 343.7,205.9 339.9,209.7 332.2,212.4 329.2,207.8 326.6,201.2 330.3,198.4 338.2,197.1" fill="url(#tealB)" stroke="#b8e8e0" stroke-width="0.6" stroke-opacity="0.8" stroke-linejoin="round"/>
<polygon points="363.7,242.2 362.0,236.4 364.2,230.2 370.6,228.5 375.6,228.5 377.6,235.0 378.9,241.0 371.8,243.4 369.3,243.2" fill="url(#tealB)" stroke="#b8e8e0" stroke-width="0.6" stroke-opacity="0.8" stroke-linejoin="round"/>
<polygon points="338.1,197.5 335.6,201.2 331.7,203.7 327.4,204.7 324.1,201.8 323.1,196.4 324.4,193.9 329.1,191.5 335.7,195.7" fill="url(#tealB)" stroke="#b8e8e0" stroke-width="0.6" stroke-opacity="0.8" stroke-linejoin="round"/>
<ellipse cx="331.7" cy="197.8" rx="4.5" ry="3.9" fill="none" stroke="#b8e8e0" stroke-width="0.5" stroke-opacity="0.55"/>
<polygon points="301.3,199.2 294.8,205.6 291.4,204.9 286.3,204.6 283.4,196.7 287.4,191.0 291.8,188.1 295.4,189.6 300.5,195.6" fill="url(#tealB)" stroke="#b8e8e0" stroke-width="0.6" stroke-opacity="0.8" stroke-linejoin="round"/>
<ellipse cx="294.1" cy="199.3" rx="3.0" ry="2.6" fill="none" stroke="#b8e8e0" stroke-width="0.5" stroke-opacity="0.55"/>
<polygon points="356.9,168.4 361.3,171.4 358.5,176.3 349.5,178.0 344.8,175.3 345.6,169.4 351.0,165.8" fill="url(#tealB)" stroke="#b8e8e0" stroke-width="0.6" stroke-opacity="0.8" stroke-linejoin="round"/>
<ellipse cx="349.7" cy="171.0" rx="3.8" ry="3.2" fill="none" stroke="#b8e8e0" stroke-width="0.5" stroke-opacity="0.55"/>
<polygon points="276.6,169.3 284.9,165.7 290.9,169.4 290.2,175.1 285.3,178.3 279.8,177.3 274.9,173.2" fill="url(#tealB)" stroke="#b8e8e0" stroke-width="0.6" stroke-opacity="0.8" stroke-linejoin="round"/>
<polygon points="370.6,178.9 369.0,182.3 363.8,182.6 355.8,180.4 356.0,177.9 359.4,173.7 361.3,171.1 366.4,172.2 370.5,175.0" fill="url(#tealB)" stroke="#b8e8e0" stroke-width="0.6" stroke-opacity="0.8" stroke-linejoin="round"/>
<ellipse cx="360.6" cy="179.4" rx="4.0" ry="3.4" fill="none" stroke="#b8e8e0" stroke-width="0.5" stroke-opacity="0.55"/>
<polygon points="279.6,218.4 274.4,213.5 273.7,209.1 281.0,203.9 284.2,206.6 289.5,212.0 284.2,217.0" fill="url(#tealB)" stroke="#b8e8e0" stroke-width="0.6" stroke-opacity="0.8" stroke-linejoin="round"/>
<polygon points="353.9,221.7 355.2,213.9 361.1,211.3 367.5,212.8 369.2,219.4 366.6,225.8 359.7,226.7" fill="url(#tealB)" stroke="#b8e8e0" stroke-width="0.6" stroke-opacity="0.8" stroke-linejoin="round"/>
<polygon points="320.2,200.1 324.4,204.5 320.9,210.8 316.2,212.1 310.0,209.3 309.9,201.0 314.1,199.4" fill="url(#tealB)" stroke="#b8e8e0" stroke-width="0.6" stroke-opacity="0.8" stroke-linejoin="round"/>
<ellipse cx="319.2" cy="205.0" rx="4.0" ry="3.4" fill="none" stroke="#b8e8e0" stroke-width="0.5" stroke-opacity="0.55"/>
<polygon points="373.5,200.1 371.1,205.9 361.7,205.8 359.8,199.1 363.1,194.5 368.9,194.6" fill="url(#tealB)" stroke="#b8e8e0" stroke-width="0.6" stroke-opacity="0.8" stroke-linejoin="round"/>
<polygon points="283.0,214.3 274.8,212.6 273.9,207.6 278.7,204.0 287.8,205.6 288.0,210.5" fill="url(#tealB)" stroke="#b8e8e0" stroke-width="0.6" stroke-opacity="0.8" stroke-linejoin="round"/>
<ellipse cx="280.8" cy="208.4" rx="2.6" ry="2.2" fill="none" stroke="#b8e8e0" stroke-width="0.5" stroke-opacity="0.55"/>
<polygon points="281.8,208.1 277.3,205.9 277.7,198.2 284.9,196.2 290.1,196.5 292.3,200.3 291.5,208.0 284.6,209.2" fill="url(#tealB)" stroke="#b8e8e0" stroke-width="0.6" stroke-opacity="0.8" stroke-linejoin="round"/>
<polygon points="306.7,228.3 314.4,232.6 311.9,238.1 304.3,240.6 297.9,236.3 299.8,229.8" fill="url(#tealB)" stroke="#b8e8e0" stroke-width="0.6" stroke-opacity="0.8" stroke-linejoin="round"/>
<ellipse cx="307.3" cy="236.0" rx="4.0" ry="3.4" fill="none" stroke="#b8e8e0" stroke-width="0.5" stroke-opacity="0.55"/>
<polygon points="339.0,225.2 343.7,223.6 347.3,222.7 350.6,224.7 352.7,229.3 349.8,235.7 345.9,236.6 342.1,236.2 337.5,229.6" fill="url(#tealB)" stroke="#b8e8e0" stroke-width="0.6" stroke-opacity="0.8" stroke-linejoin="round"/>
<ellipse cx="346.3" cy="227.7" rx="3.3" ry="2.8" fill="none" stroke="#b8e8e0" stroke-width="0.5" stroke-opacity="0.55"/>
<polygon points="324.2,179.3 323.2,185.4 318.7,187.1 313.8,186.3 309.2,183.8 311.4,177.8 316.4,176.6 319.3,175.9" fill="url(#tealB)" stroke="#b8e8e0" stroke-width="0.6" stroke-opacity="0.8" stroke-linejoin="round"/>
<ellipse cx="316.1" cy="183.6" rx="2.7" ry="2.3" fill="none" stroke="#b8e8e0" stroke-width="0.5" stroke-opacity="0.55"/>
<polygon points="370.2,234.2 362.9,232.2 365.1,225.3 367.7,221.3 374.4,224.1 378.7,228.8 375.4,233.9" fill="url(#tealB)" stroke="#b8e8e0" stroke-width="0.6" stroke-opacity="0.8" stroke-linejoin="round"/>
<ellipse cx="367.8" cy="225.7" rx="3.9" ry="3.4" fill="none" stroke="#b8e8e0" stroke-width="0.5" stroke-opacity="0.55"/>
<polygon points="279.6,225.5 286.1,228.2 289.2,231.6 286.7,235.8 281.8,238.1 276.1,234.6 275.0,230.8" fill="url(#tealB)" stroke="#b8e8e0" stroke-width="0.6" stroke-opacity="0.8" stroke-linejoin="round"/>
<ellipse cx="281.9" cy="230.1" rx="2.5" ry="2.1" fill="none" stroke="#b8e8e0" stroke-width="0.5" stroke-opacity="0.55"/>
<polygon points="359.0,219.9 362.4,226.8 358.1,232.2 351.7,233.3 348.1,227.0 350.0,219.1" fill="url(#tealB)" stroke="#b8e8e0" stroke-width="0.6" stroke-opacity="0.8" stroke-linejoin="round"/>
<polygon points="364.6,178.5 370.5,179.6 375.5,184.0 372.8,188.7 369.3,190.8 362.4,190.0 360.9,184.9 360.5,181.5" fill="url(#tealB)" stroke="#b8e8e0" stroke-width="0.6" stroke-opacity="0.8" stroke-linejoin="round"/>
<ellipse cx="365.3" cy="182.1" rx="3.4" ry="2.9" fill="none" stroke="#b8e8e0" stroke-width="0.5" stroke-opacity="0.55"/>
<polygon points="360.8,235.2 354.6,231.7 355.0,225.6 356.6,220.5 365.2,223.3 368.1,226.9 365.0,234.2" fill="url(#tealB)" stroke="#b8e8e0" stroke-width="0.6" stroke-opacity="0.8" stroke-linejoin="round"/>
<polygon points="367.2,198.2 359.7,200.1 357.2,198.5 356.3,192.4 357.1,186.4 360.7,185.2 367.4,186.5 369.9,191.0 369.5,197.2" fill="url(#tealB)" stroke="#b8e8e0" stroke-width="0.6" stroke-opacity="0.8" stroke-linejoin="round"/>
<ellipse cx="360.5" cy="194.9" rx="2.8" ry="2.4" fill="none" stroke="#b8e8e0" stroke-width="0.5" stroke-opacity="0.55"/>
<polygon points="274.4,189.5 270.3,186.8 268.2,178.8 272.3,176.1 280.1,175.7 281.5,179.6 281.4,187.3" fill="url(#tealB)" stroke="#b8e8e0" stroke-width="0.6" stroke-opacity="0.8" stroke-linejoin="round"/>
<polygon points="301.2,188.9 303.9,184.9 307.1,180.9 312.0,182.3 316.7,186.1 315.1,190.9 312.3,194.3 309.5,193.4 305.5,192.6" fill="url(#tealB)" stroke="#b8e8e0" stroke-width="0.6" stroke-opacity="0.8" stroke-linejoin="round"/>
<ellipse cx="308.1" cy="189.2" rx="2.8" ry="2.4" fill="none" stroke="#b8e8e0" stroke-width="0.5" stroke-opacity="0.55"/>
<polygon points="351.9,223.5 349.9,227.7 343.4,232.0 339.4,229.3 336.0,225.2 336.8,219.7 338.8,217.5 345.2,216.6 349.6,218.5" fill="url(#tealB)" stroke="#b8e8e0" stroke-width="0.6" stroke-opacity="0.8" stroke-linejoin="round"/>
<ellipse cx="344.2" cy="222.5" rx="2.9" ry="2.5" fill="none" stroke="#b8e8e0" stroke-width="0.5" stroke-opacity="0.55"/>
<polygon points="266.2,193.2 270.0,187.4 274.0,186.8 280.0,188.2 280.6,192.1 278.9,196.1 275.3,198.8 270.2,197.6" fill="url(#tealB)" stroke="#b8e8e0" stroke-width="0.6" stroke-opacity="0.8" stroke-linejoin="round"/>
<ellipse cx="273.6" cy="190.7" rx="2.2" ry="1.9" fill="none" stroke="#b8e8e0" stroke-width="0.5" stroke-opacity="0.55"/>
<polygon points="280.6,171.7 281.1,166.7 284.7,164.8 290.3,165.4 294.1,167.8 294.7,173.8 291.1,176.3 285.3,176.8 281.9,176.2" fill="url(#tealB)" stroke="#b8e8e0" stroke-width="0.6" stroke-opacity="0.8" stroke-linejoin="round"/>
<polygon points="337.9,172.6 339.5,174.8 337.1,181.8 333.5,182.5 327.6,180.6 325.6,175.3 328.3,169.9 331.1,169.5" fill="url(#tealB)" stroke="#b8e8e0" stroke-width="0.6" stroke-opacity="0.8" stroke-linejoin="round"/>
<polygon points="321.4,220.4 325.2,218.7 330.4,221.7 331.9,224.5 330.5,231.1 326.1,234.8 322.7,233.2 317.6,227.3 317.8,224.4" fill="url(#tealB)" stroke="#b8e8e0" stroke-width="0.6" stroke-opacity="0.8" stroke-linejoin="round"/>
<polygon points="316.9,211.0 312.6,212.1 310.6,213.8 305.6,210.4 304.9,208.9 305.3,205.6 308.7,204.1 313.4,203.5 316.1,206.1" fill="url(#tealB)" stroke="#b8e8e0" stroke-width="0.6" stroke-opacity="0.8" stroke-linejoin="round"/>
<ellipse cx="310.2" cy="208.0" rx="3.9" ry="3.3" fill="none" stroke="#b8e8e0" stroke-width="0.5" stroke-opacity="0.55"/>
<polygon points="330.2,200.1 324.9,201.9 317.9,201.2 316.8,196.9 320.3,192.9 324.0,193.1 328.1,195.3" fill="url(#tealB)" stroke="#b8e8e0" stroke-width="0.6" stroke-opacity="0.8" stroke-linejoin="round"/>
<ellipse cx="325.7" cy="199.0" rx="2.3" ry="2.0" fill="none" stroke="#b8e8e0" stroke-width="0.5" stroke-opacity="0.55"/>
<polygon points="361.6,201.5 368.0,198.9 372.5,200.0 373.7,205.4 369.2,210.0 364.0,209.4 360.7,205.4" fill="url(#tealB)" stroke="#b8e8e0" stroke-width="0.6" stroke-opacity="0.8" stroke-linejoin="round"/>
<polygon points="308.5,218.9 314.3,217.9 317.1,220.4 318.3,223.5 316.6,227.9 311.8,227.9 308.3,226.8 305.4,220.8" fill="url(#tealB)" stroke="#b8e8e0" stroke-width="0.6" stroke-opacity="0.8" stroke-linejoin="round"/>
<polygon points="285.1,187.7 279.3,188.1 276.0,185.7 277.1,180.2 281.1,178.7 285.6,179.8 287.4,184.4" fill="url(#tealB)" stroke="#b8e8e0" stroke-width="0.6" stroke-opacity="0.8" stroke-linejoin="round"/>
<polygon points="293.3,183.4 289.6,183.0 286.6,180.6 286.2,178.3 290.0,175.9 293.7,176.1 296.5,177.4 298.8,179.4 296.1,182.9" fill="url(#tealB)" stroke="#b8e8e0" stroke-width="0.6" stroke-opacity="0.8" stroke-linejoin="round"/>
<ellipse cx="290.3" cy="181.0" rx="3.2" ry="2.8" fill="none" stroke="#b8e8e0" stroke-width="0.5" stroke-opacity="0.55"/>
<polygon points="310.6,233.1 315.1,228.7 322.0,229.1 322.9,235.7 317.8,240.5 314.1,238.8" fill="url(#tealB)" stroke="#b8e8e0" stroke-width="0.6" stroke-opacity="0.8" stroke-linejoin="round"/>
<ellipse cx="316.8" cy="233.5" rx="2.4" ry="2.1" fill="none" stroke="#b8e8e0" stroke-width="0.5" stroke-opacity="0.55"/>
<polygon points="283.3,209.6 280.9,213.2 273.6,214.1 271.1,209.1 272.3,205.8 278.4,205.3" fill="url(#tealB)" stroke="#b8e8e0" stroke-width="0.6" stroke-opacity="0.8" stroke-linejoin="round"/>
<polygon points="287.8,229.4 288.6,225.6 293.5,222.4 299.9,227.7 298.9,234.7 293.8,237.2 289.4,234.8" fill="url(#tealB)" stroke="#b8e8e0" stroke-width="0.6" stroke-opacity="0.8" stroke-linejoin="round"/>
<ellipse cx="293.1" cy="229.6" rx="3.2" ry="2.7" fill="none" stroke="#b8e8e0" stroke-width="0.5" stroke-opacity="0.55"/>
<polygon points="369.7,221.8 362.2,224.5 358.8,221.9 361.0,213.8 365.0,210.4 370.0,215.4" fill="url(#tealB)" stroke="#b8e8e0" stroke-width="0.6" stroke-opacity="0.8" stroke-linejoin="round"/>
<ellipse cx="363.5" cy="218.1" rx="2.6" ry="2.2" fill="none" stroke="#b8e8e0" stroke-width="0.5" stroke-opacity="0.55"/>
<polygon points="346.3,230.8 349.1,226.2 355.9,229.2 357.2,232.3 355.2,237.3 347.6,238.1 345.3,236.1" fill="url(#tealB)" stroke="#b8e8e0" stroke-width="0.6" stroke-opacity="0.8" stroke-linejoin="round"/>
<ellipse cx="352.6" cy="230.7" rx="3.0" ry="2.6" fill="none" stroke="#b8e8e0" stroke-width="0.5" stroke-opacity="0.55"/>
<polygon points="358.4,184.9 356.2,186.3 350.3,183.9 350.8,180.1 351.5,177.8 353.9,175.7 359.1,176.2 361.4,178.0 361.8,183.9" fill="url(#tealB)" stroke="#b8e8e0" stroke-width="0.6" stroke-opacity="0.8" stroke-linejoin="round"/>
<polygon points="288.0,208.3 287.2,203.2 291.6,199.5 296.8,201.2 297.2,206.0 292.5,208.7" fill="url(#tealB)" stroke="#b8e8e0" stroke-width="0.6" stroke-opacity="0.8" stroke-linejoin="round"/>
<ellipse cx="292.8" cy="204.0" rx="2.2" ry="1.9" fill="none" stroke="#b8e8e0" stroke-width="0.5" stroke-opacity="0.55"/>
<polygon points="356.9,205.8 364.4,207.3 365.3,210.8 361.1,213.7 355.9,213.2 354.3,208.6" fill="url(#tealB)" stroke="#b8e8e0" stroke-width="0.6" stroke-opacity="0.8" stroke-linejoin="round"/>
<polygon points="281.6,227.4 283.6,230.7 284.8,234.9 280.9,238.5 276.6,237.8 272.4,233.2 274.6,229.7 276.6,227.8" fill="url(#tealB)" stroke="#b8e8e0" stroke-width="0.6" stroke-opacity="0.8" stroke-linejoin="round"/>
<ellipse cx="278.5" cy="231.5" rx="2.2" ry="1.9" fill="none" stroke="#b8e8e0" stroke-width="0.5" stroke-opacity="0.55"/>
<polygon points="276.3,211.0 275.0,205.2 277.5,200.3 282.4,199.2 285.7,205.8 284.7,209.9" fill="url(#tealB)" stroke="#b8e8e0" stroke-width="0.6" stroke-opacity="0.8" stroke-linejoin="round"/>
<polygon points="335.6,214.9 339.7,219.9 335.3,224.6 331.8,225.9 327.4,221.4 330.3,214.1" fill="url(#tealB)" stroke="#b8e8e0" stroke-width="0.6" stroke-opacity="0.8" stroke-linejoin="round"/>
<ellipse cx="335.1" cy="221.0" rx="3.0" ry="2.5" fill="none" stroke="#b8e8e0" stroke-width="0.5" stroke-opacity="0.55"/>
<polygon points="286.3,215.1 288.9,214.1 294.0,217.9 293.0,222.2 291.6,225.0 286.6,224.6 283.4,221.8 283.2,219.6" fill="url(#tealB)" stroke="#b8e8e0" stroke-width="0.6" stroke-opacity="0.8" stroke-linejoin="round"/>
<ellipse cx="289.4" cy="222.0" rx="2.5" ry="2.1" fill="none" stroke="#b8e8e0" stroke-width="0.5" stroke-opacity="0.55"/>
<polygon points="328.8,230.0 330.8,225.7 333.5,226.1 338.3,226.3 340.1,228.4 339.0,232.9 336.5,235.1 332.6,234.6 329.8,232.9" fill="url(#tealB)" stroke="#b8e8e0" stroke-width="0.6" stroke-opacity="0.8" stroke-linejoin="round"/>
<ellipse cx="334.3" cy="230.9" rx="2.2" ry="1.9" fill="none" stroke="#b8e8e0" stroke-width="0.5" stroke-opacity="0.55"/>
<polygon points="274.9,178.8 278.0,175.5 281.3,175.7 284.0,177.7 285.0,182.4 283.0,184.0 280.3,185.9 277.0,184.7 274.7,180.6" fill="url(#tealB)" stroke="#b8e8e0" stroke-width="0.6" stroke-opacity="0.8" stroke-linejoin="round"/>
<polygon points="286.3,185.8 290.1,181.0 293.7,183.4 295.5,186.9 295.1,190.0 290.1,191.5 285.9,189.2" fill="url(#tealB)" stroke="#b8e8e0" stroke-width="0.6" stroke-opacity="0.8" stroke-linejoin="round"/>
<polygon points="362.8,208.3 367.9,209.5 371.1,212.6 370.1,215.1 368.6,218.0 364.2,218.4 361.5,215.9 361.0,211.9" fill="url(#tealB)" stroke="#b8e8e0" stroke-width="0.6" stroke-opacity="0.8" stroke-linejoin="round"/>
<ellipse cx="364.5" cy="213.8" rx="2.9" ry="2.4" fill="none" stroke="#b8e8e0" stroke-width="0.5" stroke-opacity="0.55"/>
<polygon points="300.6,217.6 303.7,219.0 303.5,223.3 298.0,225.4 294.5,223.3 292.9,220.1 296.6,216.9" fill="url(#tealB)" stroke="#b8e8e0" stroke-width="0.6" stroke-opacity="0.8" stroke-linejoin="round"/>
<ellipse cx="299.3" cy="220.4" rx="1.9" ry="1.6" fill="none" stroke="#b8e8e0" stroke-width="0.5" stroke-opacity="0.55"/>
<polygon points="291.1,213.8 294.8,211.4 298.7,211.4 300.4,212.3 300.6,216.1 298.7,219.6 293.7,219.9 290.9,217.8" fill="url(#tealB)" stroke="#b8e8e0" stroke-width="0.6" stroke-opacity="0.8" stroke-linejoin="round"/>
<ellipse cx="293.4" cy="215.4" rx="3.0" ry="2.5" fill="none" stroke="#b8e8e0" stroke-width="0.5" stroke-opacity="0.55"/>
<polygon points="357.0,201.8 357.3,198.0 363.1,196.5 364.9,198.8 366.0,202.8 361.8,205.4" fill="url(#tealB)" stroke="#b8e8e0" stroke-width="0.6" stroke-opacity="0.8" stroke-linejoin="round"/>
<polygon points="314.4,210.6 308.4,212.2 304.9,207.9 308.0,204.2 313.0,205.3 316.0,207.2" fill="url(#tealB)" stroke="#b8e8e0" stroke-width="0.6" stroke-opacity="0.8" stroke-linejoin="round"/>
<polygon points="338.5,198.7 337.9,204.5 337.7,207.1 332.0,205.8 329.8,205.7 329.7,199.5 332.3,196.4 336.5,198.0" fill="url(#tealB)" stroke="#b8e8e0" stroke-width="0.6" stroke-opacity="0.8" stroke-linejoin="round"/>
<ellipse cx="335.6" cy="204.2" rx="2.7" ry="2.3" fill="none" stroke="#b8e8e0" stroke-width="0.5" stroke-opacity="0.55"/>
<polygon points="340.2,211.8 337.9,207.4 337.7,206.0 340.9,202.1 343.6,201.7 347.0,205.3 347.0,207.0 345.7,210.6 341.8,211.9" fill="url(#tealB)" stroke="#b8e8e0" stroke-width="0.6" stroke-opacity="0.8" stroke-linejoin="round"/>
<polygon points="285.8,196.7 287.9,195.7 291.6,195.4 294.2,198.8 294.0,200.3 291.8,202.9 287.1,202.2 285.2,200.6" fill="url(#tealB)" stroke="#b8e8e0" stroke-width="0.6" stroke-opacity="0.8" stroke-linejoin="round"/>
<ellipse cx="290.5" cy="197.6" rx="1.6" ry="1.4" fill="none" stroke="#b8e8e0" stroke-width="0.5" stroke-opacity="0.55"/>
<polygon points="301.8,217.7 301.4,220.1 298.4,221.7 293.7,221.4 291.9,220.1 293.2,216.3 292.8,214.8 297.2,214.7 299.2,215.4" fill="url(#tealB)" stroke="#b8e8e0" stroke-width="0.6" stroke-opacity="0.8" stroke-linejoin="round"/>
<ellipse cx="295.6" cy="217.3" rx="1.7" ry="1.4" fill="none" stroke="#b8e8e0" stroke-width="0.5" stroke-opacity="0.55"/>
<polygon points="285.1,212.5 281.8,212.0 277.1,209.9 277.4,205.2 281.0,203.8 284.1,204.3 286.0,208.9" fill="url(#tealB)" stroke="#b8e8e0" stroke-width="0.6" stroke-opacity="0.8" stroke-linejoin="round"/>
<ellipse cx="281.5" cy="206.3" rx="1.9" ry="1.6" fill="none" stroke="#b8e8e0" stroke-width="0.5" stroke-opacity="0.55"/>
<polygon points="280.5,195.5 284.7,193.3 287.9,194.9 289.4,196.5 288.6,199.8 282.0,200.7 280.8,198.0" fill="url(#tealB)" stroke="#b8e8e0" stroke-width="0.6" stroke-opacity="0.8" stroke-linejoin="round"/>
<polygon points="322.8,183.9 320.5,180.4 322.5,175.6 325.6,174.1 328.7,179.2 327.5,182.6" fill="url(#tealB)" stroke="#b8e8e0" stroke-width="0.6" stroke-opacity="0.8" stroke-linejoin="round"/>
<ellipse cx="323.7" cy="178.0" rx="2.3" ry="1.9" fill="none" stroke="#b8e8e0" stroke-width="0.5" stroke-opacity="0.55"/>
<polygon points="306.5,213.0 305.6,217.3 303.6,217.4 299.9,216.7 298.9,213.2 301.3,211.2 304.7,211.8" fill="url(#tealB)" stroke="#b8e8e0" stroke-width="0.6" stroke-opacity="0.8" stroke-linejoin="round"/>
<polygon points="328.1,191.3 327.1,188.5 328.9,185.1 333.1,184.7 336.3,187.1 334.6,190.6 332.6,193.4" fill="url(#tealB)" stroke="#b8e8e0" stroke-width="0.6" stroke-opacity="0.8" stroke-linejoin="round"/>
<ellipse cx="330.3" cy="189.1" rx="1.6" ry="1.4" fill="none" stroke="#b8e8e0" stroke-width="0.5" stroke-opacity="0.55"/>
<polygon points="290.3,203.9 289.3,204.7 286.0,203.5 284.0,200.7 285.6,198.2 286.9,197.0 290.4,196.7 292.9,199.2 293.2,200.8" fill="url(#tealB)" stroke="#b8e8e0" stroke-width="0.6" stroke-opacity="0.8" stroke-linejoin="round"/>
<ellipse cx="289.4" cy="202.0" rx="1.7" ry="1.4" fill="none" stroke="#b8e8e0" stroke-width="0.5" stroke-opacity="0.55"/>
<polygon points="353.6,178.5 352.2,181.1 350.5,181.3 347.4,179.9 346.7,178.2 346.0,176.0 348.7,174.5 352.5,174.6 354.5,177.2" fill="url(#tealB)" stroke="#b8e8e0" stroke-width="0.6" stroke-opacity="0.8" stroke-linejoin="round"/>
<polygon points="326.1,203.9 327.7,205.5 328.0,208.0 325.5,209.5 323.0,210.1 321.0,210.3 319.7,208.4 319.4,205.6 322.1,203.5" fill="url(#tealB)" stroke="#b8e8e0" stroke-width="0.6" stroke-opacity="0.8" stroke-linejoin="round"/>
<polygon points="303.1,199.5 302.3,203.0 298.5,204.2 295.9,200.6 297.3,197.4 301.6,197.2" fill="url(#tealB)" stroke="#b8e8e0" stroke-width="0.6" stroke-opacity="0.8" stroke-linejoin="round"/>
<ellipse cx="299.3" cy="200.2" rx="2.1" ry="1.8" fill="none" stroke="#b8e8e0" stroke-width="0.5" stroke-opacity="0.55"/>
<polygon points="311.1,219.9 314.1,218.8 317.0,220.3 318.8,223.2 315.4,225.8 310.6,223.9" fill="url(#tealB)" stroke="#b8e8e0" stroke-width="0.6" stroke-opacity="0.8" stroke-linejoin="round"/>
<ellipse cx="313.8" cy="221.5" rx="1.5" ry="1.3" fill="none" stroke="#b8e8e0" stroke-width="0.5" stroke-opacity="0.55"/>
<polygon points="277.7,201.0 281.0,200.9 282.5,202.3 282.6,206.1 279.4,207.6 277.3,207.8 275.3,205.5 274.9,202.4" fill="url(#tealB)" stroke="#b8e8e0" stroke-width="0.6" stroke-opacity="0.8" stroke-linejoin="round"/>
<ellipse cx="279.2" cy="203.6" rx="1.5" ry="1.3" fill="none" stroke="#b8e8e0" stroke-width="0.5" stroke-opacity="0.55"/>
<polygon points="284.0,221.3 281.7,221.3 278.9,218.3 280.8,215.5 283.2,214.8 286.6,214.9 287.3,217.3 286.5,221.1" fill="url(#tealB)" stroke="#b8e8e0" stroke-width="0.6" stroke-opacity="0.8" stroke-linejoin="round"/>
<polygon points="288.9,172.0 290.2,170.9 294.6,171.0 296.0,171.8 294.9,174.9 291.8,175.7 289.7,174.9 288.8,174.2" fill="url(#tealB)" stroke="#b8e8e0" stroke-width="0.6" stroke-opacity="0.8" stroke-linejoin="round"/>
<polygon points="358.7,216.6 355.5,215.5 353.2,214.5 352.4,210.3 353.9,208.3 356.1,207.2 359.0,207.8 359.9,211.2 359.7,214.2" fill="url(#tealB)" stroke="#b8e8e0" stroke-width="0.6" stroke-opacity="0.8" stroke-linejoin="round"/>
<polygon points="316.5,217.3 315.2,219.5 312.2,221.1 310.7,220.3 308.8,218.8 309.6,216.8 310.7,214.5 313.9,214.6 316.3,215.4" fill="url(#tealB)" stroke="#b8e8e0" stroke-width="0.6" stroke-opacity="0.8" stroke-linejoin="round"/>
<ellipse cx="313.8" cy="218.1" rx="1.6" ry="1.4" fill="none" stroke="#b8e8e0" stroke-width="0.5" stroke-opacity="0.55"/>
<polygon points="293.4,185.1 296.0,184.8 299.3,186.6 299.8,188.1 297.5,191.5 294.5,191.9 292.2,190.3 291.9,186.1" fill="url(#tealB)" stroke="#b8e8e0" stroke-width="0.6" stroke-opacity="0.8" stroke-linejoin="round"/>
<ellipse cx="294.9" cy="187.1" rx="1.8" ry="1.5" fill="none" stroke="#b8e8e0" stroke-width="0.5" stroke-opacity="0.55"/>
<polygon points="295.3,196.5 295.0,194.5 297.2,193.2 299.0,193.4 301.1,193.4 302.0,195.2 301.4,197.0 298.3,198.2 296.5,197.6" fill="url(#tealB)" stroke="#b8e8e0" stroke-width="0.6" stroke-opacity="0.8" stroke-linejoin="round"/>
<polygon points="332.1,175.6 334.2,177.8 332.6,179.9 330.4,180.5 327.3,179.2 327.8,176.7 329.6,175.6" fill="url(#tealB)" stroke="#b8e8e0" stroke-width="0.6" stroke-opacity="0.8" stroke-linejoin="round"/>
<polygon points="316.8,177.2 314.6,174.6 314.5,170.5 318.2,169.9 320.8,172.6 320.7,175.3" fill="url(#tealB)" stroke="#b8e8e0" stroke-width="0.6" stroke-opacity="0.8" stroke-linejoin="round"/>
<ellipse cx="317.5" cy="175.0" rx="1.6" ry="1.4" fill="none" stroke="#b8e8e0" stroke-width="0.5" stroke-opacity="0.55"/>
<polygon points="320.3,212.0 318.8,210.6 319.5,206.6 321.8,206.0 324.3,206.2 325.5,208.2 324.7,211.9 323.3,213.9" fill="url(#tealB)" stroke="#b8e8e0" stroke-width="0.6" stroke-opacity="0.8" stroke-linejoin="round"/>
<polygon points="288.5,203.0 284.7,201.7 283.7,199.9 283.7,197.1 287.4,196.0 289.6,197.2 289.6,200.5" fill="url(#tealB)" stroke="#b8e8e0" stroke-width="0.6" stroke-opacity="0.8" stroke-linejoin="round"/>
<polygon points="349.5,233.0 351.4,235.6 350.3,237.4 347.4,238.6 344.8,236.6 344.1,233.5 347.0,231.3" fill="url(#tealB)" stroke="#b8e8e0" stroke-width="0.6" stroke-opacity="0.8" stroke-linejoin="round"/>
<ellipse cx="346.7" cy="235.4" rx="1.8" ry="1.5" fill="none" stroke="#b8e8e0" stroke-width="0.5" stroke-opacity="0.55"/>
<polygon points="339.6,236.2 337.8,234.0 338.6,232.9 339.9,230.8 342.0,230.3 344.5,231.3 345.2,234.5 344.0,235.6 342.2,237.9" fill="url(#tealB)" stroke="#b8e8e0" stroke-width="0.6" stroke-opacity="0.8" stroke-linejoin="round"/>
<polygon points="365.6,182.7 364.0,184.5 362.5,185.2 360.1,183.6 359.7,182.1 360.5,180.4 362.2,179.7 364.2,179.9 365.6,180.9" fill="url(#tealB)" stroke="#b8e8e0" stroke-width="0.6" stroke-opacity="0.8" stroke-linejoin="round"/>
<polygon points="345.0,190.4 342.1,190.8 339.8,189.9 339.9,187.1 341.4,185.9 343.9,185.5 345.9,187.2 346.6,189.3" fill="url(#tealB)" stroke="#b8e8e0" stroke-width="0.6" stroke-opacity="0.8" stroke-linejoin="round"/>
<polygon points="319.3,183.4 317.0,181.4 316.6,179.2 318.5,177.1 321.8,178.1 323.6,180.2 322.3,182.4" fill="url(#tealB)" stroke="#b8e8e0" stroke-width="0.6" stroke-opacity="0.8" stroke-linejoin="round"/>
<ellipse cx="319.9" cy="180.9" rx="1.8" ry="1.6" fill="none" stroke="#b8e8e0" stroke-width="0.5" stroke-opacity="0.55"/>
</g></g>
<path d="M276.3,171.3 L288.5,171.3 C285,174 281,178 276.3,182.5 Z" fill="#f4f8f7"/>
<rect x="276.30" y="232.90" width="91.60" height="3.20" fill="#141816" />
<line x1="335.00" y1="234.20" x2="366.00" y2="234.20" stroke="#bbb" stroke-width="0.5" stroke-dasharray="1.5 0.6"/>
<g clip-path="url(#clE2)"><g filter="url(#eSoft)">
<rect x="276.30" y="236.30" width="91.60" height="73.30" fill="#4a2624" />
<ellipse cx="361.0" cy="305.8" rx="6.6" ry="1.7" fill="#080808"/>
<ellipse cx="330.5" cy="267.4" rx="5.1" ry="1.8" fill="#080808"/>
<ellipse cx="293.9" cy="268.9" rx="3.9" ry="2.6" fill="#080808"/>
<ellipse cx="278.6" cy="242.6" rx="5.8" ry="2.6" fill="#080808"/>
<ellipse cx="323.3" cy="290.1" rx="4.4" ry="1.6" fill="#080808"/>
<ellipse cx="348.0" cy="279.5" rx="5.6" ry="3.1" fill="#080808"/>
<ellipse cx="365.2" cy="262.9" rx="6.0" ry="2.4" fill="#080808"/>
<ellipse cx="328.7" cy="284.7" rx="4.3" ry="1.7" fill="#080808"/>
<ellipse cx="319.7" cy="288.9" rx="5.4" ry="2.6" fill="#080808"/>
<polygon points="293.6,274.0 299.7,271.3 306.8,272.6 308.0,278.6 304.4,286.6 295.7,287.6 293.0,282.2" fill="url(#redB)" stroke="#f0c0bc" stroke-width="0.6" stroke-opacity="0.8" stroke-linejoin="round"/>
<ellipse cx="302.1" cy="279.2" rx="3.8" ry="3.3" fill="none" stroke="#f0c0bc" stroke-width="0.5" stroke-opacity="0.55"/>
<polygon points="306.0,292.0 311.5,299.9 309.1,309.3 303.1,313.6 294.8,306.7 296.5,300.0" fill="url(#redB)" stroke="#f0c0bc" stroke-width="0.6" stroke-opacity="0.8" stroke-linejoin="round"/>
<ellipse cx="305.6" cy="306.0" rx="3.7" ry="3.1" fill="none" stroke="#f0c0bc" stroke-width="0.5" stroke-opacity="0.55"/>
<polygon points="300.8,262.5 295.8,266.9 287.5,265.5 284.9,261.2 286.3,255.8 295.7,253.3 300.2,256.1" fill="url(#redB)" stroke="#f0c0bc" stroke-width="0.6" stroke-opacity="0.8" stroke-linejoin="round"/>
<polygon points="289.7,287.6 282.7,287.2 279.2,280.8 280.7,273.9 288.4,270.7 294.9,273.0 294.3,280.1" fill="url(#redB)" stroke="#f0c0bc" stroke-width="0.6" stroke-opacity="0.8" stroke-linejoin="round"/>
<ellipse cx="288.4" cy="276.6" rx="4.5" ry="3.8" fill="none" stroke="#f0c0bc" stroke-width="0.5" stroke-opacity="0.55"/>
<polygon points="354.1,262.1 348.8,267.1 342.2,267.0 337.0,261.4 342.9,253.2 351.5,255.2" fill="url(#redB)" stroke="#f0c0bc" stroke-width="0.6" stroke-opacity="0.8" stroke-linejoin="round"/>
<ellipse cx="344.2" cy="260.1" rx="4.3" ry="3.7" fill="none" stroke="#f0c0bc" stroke-width="0.5" stroke-opacity="0.55"/>
<polygon points="292.4,314.4 288.8,306.6 294.1,299.3 298.4,297.8 306.7,302.3 308.3,309.0 306.4,313.4 298.0,314.4" fill="url(#redB)" stroke="#f0c0bc" stroke-width="0.6" stroke-opacity="0.8" stroke-linejoin="round"/>
<polygon points="345.8,283.9 353.4,283.0 357.2,286.2 360.4,293.1 353.4,299.5 344.1,296.6 340.7,291.4" fill="url(#redB)" stroke="#f0c0bc" stroke-width="0.6" stroke-opacity="0.8" stroke-linejoin="round"/>
<ellipse cx="350.3" cy="293.2" rx="4.3" ry="3.7" fill="none" stroke="#f0c0bc" stroke-width="0.5" stroke-opacity="0.55"/>
<polygon points="344.3,289.4 347.4,281.4 356.6,282.9 360.8,287.5 363.0,294.3 355.7,299.2 351.0,299.7 344.0,292.8" fill="url(#redB)" stroke="#f0c0bc" stroke-width="0.6" stroke-opacity="0.8" stroke-linejoin="round"/>
<ellipse cx="351.6" cy="291.8" rx="4.7" ry="4.0" fill="none" stroke="#f0c0bc" stroke-width="0.5" stroke-opacity="0.55"/>
<polygon points="356.3,259.2 347.2,256.2 345.9,251.4 353.9,246.5 362.6,248.5 363.0,256.2" fill="url(#redB)" stroke="#f0c0bc" stroke-width="0.6" stroke-opacity="0.8" stroke-linejoin="round"/>
<ellipse cx="354.1" cy="252.6" rx="4.3" ry="3.7" fill="none" stroke="#f0c0bc" stroke-width="0.5" stroke-opacity="0.55"/>
<polygon points="372.0,289.4 376.8,294.7 377.0,298.2 373.2,302.6 368.4,304.2 362.3,302.1 358.9,295.2 359.7,293.0 365.6,289.3" fill="url(#redB)" stroke="#f0c0bc" stroke-width="0.6" stroke-opacity="0.8" stroke-linejoin="round"/>
<polygon points="343.6,281.8 339.1,287.1 337.0,290.6 328.7,290.0 324.6,285.9 327.3,277.9 333.9,274.8 338.2,276.9" fill="url(#redB)" stroke="#f0c0bc" stroke-width="0.6" stroke-opacity="0.8" stroke-linejoin="round"/>
<polygon points="361.1,274.9 368.2,273.8 371.2,280.1 367.1,286.9 363.4,287.3 353.7,282.3 353.7,278.8" fill="url(#redB)" stroke="#f0c0bc" stroke-width="0.6" stroke-opacity="0.8" stroke-linejoin="round"/>
<ellipse cx="361.0" cy="281.3" rx="5.0" ry="4.3" fill="none" stroke="#f0c0bc" stroke-width="0.5" stroke-opacity="0.55"/>
<polygon points="287.9,243.0 294.5,243.2 299.2,245.2 297.4,250.8 290.6,254.3 285.8,252.5 280.9,248.0" fill="url(#redB)" stroke="#f0c0bc" stroke-width="0.6" stroke-opacity="0.8" stroke-linejoin="round"/>
<ellipse cx="292.8" cy="250.5" rx="4.0" ry="3.4" fill="none" stroke="#f0c0bc" stroke-width="0.5" stroke-opacity="0.55"/>
<polygon points="295.1,315.0 290.1,316.5 283.8,314.7 280.8,308.0 288.1,303.6 294.0,305.4 297.5,310.2" fill="url(#redB)" stroke="#f0c0bc" stroke-width="0.6" stroke-opacity="0.8" stroke-linejoin="round"/>
<ellipse cx="288.2" cy="313.1" rx="2.8" ry="2.4" fill="none" stroke="#f0c0bc" stroke-width="0.5" stroke-opacity="0.55"/>
<polygon points="285.8,253.8 289.4,247.1 295.1,245.8 301.1,249.0 303.8,254.3 297.7,258.1 290.0,257.5" fill="url(#redB)" stroke="#f0c0bc" stroke-width="0.6" stroke-opacity="0.8" stroke-linejoin="round"/>
<ellipse cx="297.0" cy="252.3" rx="3.4" ry="2.9" fill="none" stroke="#f0c0bc" stroke-width="0.5" stroke-opacity="0.55"/>
<polygon points="275.5,296.3 280.9,291.6 285.7,290.4 289.7,295.7 290.3,299.5 285.2,302.4 279.9,303.9 274.5,299.3" fill="url(#redB)" stroke="#f0c0bc" stroke-width="0.6" stroke-opacity="0.8" stroke-linejoin="round"/>
<polygon points="294.5,243.9 291.4,243.7 283.3,239.6 284.0,234.1 286.7,230.5 292.2,228.2 296.9,228.2 298.7,234.5 297.9,240.1" fill="url(#redB)" stroke="#f0c0bc" stroke-width="0.6" stroke-opacity="0.8" stroke-linejoin="round"/>
<ellipse cx="291.7" cy="234.3" rx="3.6" ry="3.1" fill="none" stroke="#f0c0bc" stroke-width="0.5" stroke-opacity="0.55"/>
<polygon points="289.0,302.5 287.1,307.3 281.6,311.5 279.5,308.8 273.4,304.5 273.8,300.0 279.0,296.3 284.3,296.3 289.1,299.4" fill="url(#redB)" stroke="#f0c0bc" stroke-width="0.6" stroke-opacity="0.8" stroke-linejoin="round"/>
<polygon points="364.0,253.8 363.9,258.2 355.6,260.6 348.9,255.2 350.3,248.6 358.8,247.7" fill="url(#redB)" stroke="#f0c0bc" stroke-width="0.6" stroke-opacity="0.8" stroke-linejoin="round"/>
<ellipse cx="355.6" cy="251.8" rx="4.0" ry="3.4" fill="none" stroke="#f0c0bc" stroke-width="0.5" stroke-opacity="0.55"/>
<polygon points="315.4,284.6 316.6,279.1 327.0,278.3 331.1,281.7 329.1,287.5 319.9,288.7" fill="url(#redB)" stroke="#f0c0bc" stroke-width="0.6" stroke-opacity="0.8" stroke-linejoin="round"/>
<ellipse cx="320.7" cy="284.2" rx="3.3" ry="2.8" fill="none" stroke="#f0c0bc" stroke-width="0.5" stroke-opacity="0.55"/>
<polygon points="357.0,291.3 355.4,298.9 349.9,300.4 345.8,297.1 341.0,291.9 342.7,288.6 347.5,282.2 351.1,283.0 356.7,286.2" fill="url(#redB)" stroke="#f0c0bc" stroke-width="0.6" stroke-opacity="0.8" stroke-linejoin="round"/>
<polygon points="357.4,293.0 366.2,290.5 370.8,294.4 372.8,298.6 368.1,302.5 360.5,303.3 356.9,297.4" fill="url(#redB)" stroke="#f0c0bc" stroke-width="0.6" stroke-opacity="0.8" stroke-linejoin="round"/>
<polygon points="324.5,295.2 322.0,291.1 319.8,284.9 323.3,279.5 328.6,277.7 334.0,283.5 334.4,286.9 330.3,293.1" fill="url(#redB)" stroke="#f0c0bc" stroke-width="0.6" stroke-opacity="0.8" stroke-linejoin="round"/>
<ellipse cx="328.3" cy="286.3" rx="2.7" ry="2.3" fill="none" stroke="#f0c0bc" stroke-width="0.5" stroke-opacity="0.55"/>
<polygon points="316.7,298.4 308.2,300.8 302.7,297.2 304.8,291.7 313.6,288.8 316.5,292.6" fill="url(#redB)" stroke="#f0c0bc" stroke-width="0.6" stroke-opacity="0.8" stroke-linejoin="round"/>
<ellipse cx="310.9" cy="292.4" rx="4.6" ry="3.9" fill="none" stroke="#f0c0bc" stroke-width="0.5" stroke-opacity="0.55"/>
<polygon points="310.7,296.3 304.5,286.5 310.2,280.0 318.3,281.3 322.4,289.2 317.9,294.0" fill="url(#redB)" stroke="#f0c0bc" stroke-width="0.6" stroke-opacity="0.8" stroke-linejoin="round"/>
<ellipse cx="315.5" cy="287.1" rx="3.1" ry="2.7" fill="none" stroke="#f0c0bc" stroke-width="0.5" stroke-opacity="0.55"/>
<polygon points="343.6,292.3 341.8,286.5 346.2,282.6 350.4,282.9 354.7,284.3 358.2,288.3 356.0,292.9 351.9,296.5 345.1,295.2" fill="url(#redB)" stroke="#f0c0bc" stroke-width="0.6" stroke-opacity="0.8" stroke-linejoin="round"/>
<ellipse cx="348.4" cy="291.9" rx="3.5" ry="2.9" fill="none" stroke="#f0c0bc" stroke-width="0.5" stroke-opacity="0.55"/>
<polygon points="369.4,247.8 363.4,245.9 359.6,245.1 359.4,240.7 364.1,235.8 371.5,236.9 375.2,238.7 374.6,242.1 372.0,247.3" fill="url(#redB)" stroke="#f0c0bc" stroke-width="0.6" stroke-opacity="0.8" stroke-linejoin="round"/>
<polygon points="335.9,296.4 328.6,303.1 324.5,300.7 321.2,292.4 323.5,288.6 329.6,286.5 335.4,289.8" fill="url(#redB)" stroke="#f0c0bc" stroke-width="0.6" stroke-opacity="0.8" stroke-linejoin="round"/>
<ellipse cx="325.8" cy="296.1" rx="3.6" ry="3.1" fill="none" stroke="#f0c0bc" stroke-width="0.5" stroke-opacity="0.55"/>
<polygon points="313.5,298.8 315.5,305.7 311.4,311.4 304.8,313.6 298.1,306.7 300.0,301.9 305.4,294.7" fill="url(#redB)" stroke="#f0c0bc" stroke-width="0.6" stroke-opacity="0.8" stroke-linejoin="round"/>
<ellipse cx="306.9" cy="306.7" rx="4.4" ry="3.7" fill="none" stroke="#f0c0bc" stroke-width="0.5" stroke-opacity="0.55"/>
<polygon points="374.3,237.7 369.0,240.5 361.3,238.0 360.9,230.6 366.4,224.3 374.7,227.1 375.2,232.5" fill="url(#redB)" stroke="#f0c0bc" stroke-width="0.6" stroke-opacity="0.8" stroke-linejoin="round"/>
<ellipse cx="366.5" cy="236.5" rx="4.0" ry="3.4" fill="none" stroke="#f0c0bc" stroke-width="0.5" stroke-opacity="0.55"/>
<polygon points="331.0,240.8 327.6,237.9 328.7,232.4 337.6,229.4 340.5,233.6 342.4,238.3 337.9,242.6" fill="url(#redB)" stroke="#f0c0bc" stroke-width="0.6" stroke-opacity="0.8" stroke-linejoin="round"/>
<ellipse cx="337.6" cy="236.2" rx="3.4" ry="2.9" fill="none" stroke="#f0c0bc" stroke-width="0.5" stroke-opacity="0.55"/>
<polygon points="347.0,251.9 347.2,246.9 351.0,241.9 355.5,240.9 361.1,243.2 363.7,248.8 360.2,256.0 353.8,257.0 349.3,256.6" fill="url(#redB)" stroke="#f0c0bc" stroke-width="0.6" stroke-opacity="0.8" stroke-linejoin="round"/>
<polygon points="317.5,231.0 322.3,232.4 328.0,235.4 329.6,240.0 326.5,245.6 317.8,249.3 312.8,244.2 313.3,238.9" fill="url(#redB)" stroke="#f0c0bc" stroke-width="0.6" stroke-opacity="0.8" stroke-linejoin="round"/>
<ellipse cx="321.0" cy="238.2" rx="3.2" ry="2.8" fill="none" stroke="#f0c0bc" stroke-width="0.5" stroke-opacity="0.55"/>
<polygon points="303.3,257.5 304.9,254.4 310.4,252.9 315.6,253.5 318.8,257.2 316.5,260.9 310.5,264.7 306.6,264.3 302.4,259.6" fill="url(#redB)" stroke="#f0c0bc" stroke-width="0.6" stroke-opacity="0.8" stroke-linejoin="round"/>
<polygon points="326.4,272.9 330.2,276.4 329.2,279.6 325.3,281.6 319.0,283.0 314.2,281.2 312.5,277.1 317.2,272.0 321.6,271.0" fill="url(#redB)" stroke="#f0c0bc" stroke-width="0.6" stroke-opacity="0.8" stroke-linejoin="round"/>
<polygon points="325.1,308.1 331.2,304.8 336.9,305.7 339.8,314.1 332.8,320.9 324.6,317.2" fill="url(#redB)" stroke="#f0c0bc" stroke-width="0.6" stroke-opacity="0.8" stroke-linejoin="round"/>
<ellipse cx="332.4" cy="309.7" rx="2.9" ry="2.5" fill="none" stroke="#f0c0bc" stroke-width="0.5" stroke-opacity="0.55"/>
<polygon points="296.6,270.3 295.8,264.8 297.0,259.7 303.7,259.0 308.1,261.3 310.5,265.7 305.9,270.9 301.1,273.0" fill="url(#redB)" stroke="#f0c0bc" stroke-width="0.6" stroke-opacity="0.8" stroke-linejoin="round"/>
<polygon points="324.4,277.8 333.2,278.7 334.5,285.2 331.0,289.3 323.7,288.8 321.6,282.3" fill="url(#redB)" stroke="#f0c0bc" stroke-width="0.6" stroke-opacity="0.8" stroke-linejoin="round"/>
<polygon points="363.8,282.1 361.2,280.0 363.2,274.3 370.2,273.2 373.8,274.5 376.5,279.8 376.3,286.2 371.7,287.0 366.2,288.3" fill="url(#redB)" stroke="#f0c0bc" stroke-width="0.6" stroke-opacity="0.8" stroke-linejoin="round"/>
<ellipse cx="369.4" cy="280.9" rx="2.8" ry="2.4" fill="none" stroke="#f0c0bc" stroke-width="0.5" stroke-opacity="0.55"/>
<polygon points="295.8,281.0 299.6,276.9 301.9,275.9 309.1,277.4 311.8,281.6 311.2,285.5 305.6,289.7 301.3,289.5 297.9,286.3" fill="url(#redB)" stroke="#f0c0bc" stroke-width="0.6" stroke-opacity="0.8" stroke-linejoin="round"/>
<polygon points="293.6,300.3 296.1,307.9 290.8,311.5 287.0,313.9 281.9,307.7 281.6,300.5 284.3,297.2 290.2,297.7" fill="url(#redB)" stroke="#f0c0bc" stroke-width="0.6" stroke-opacity="0.8" stroke-linejoin="round"/>
<polygon points="365.5,248.3 370.7,250.0 371.4,255.9 366.0,260.5 358.6,258.0 357.7,255.2 359.6,250.0" fill="url(#redB)" stroke="#f0c0bc" stroke-width="0.6" stroke-opacity="0.8" stroke-linejoin="round"/>
<ellipse cx="365.0" cy="256.9" rx="2.7" ry="2.3" fill="none" stroke="#f0c0bc" stroke-width="0.5" stroke-opacity="0.55"/>
<polygon points="347.0,239.0 346.6,244.7 344.0,249.9 337.9,247.7 334.5,245.8 334.3,241.1 336.7,236.5 341.1,235.0 344.2,233.5" fill="url(#redB)" stroke="#f0c0bc" stroke-width="0.6" stroke-opacity="0.8" stroke-linejoin="round"/>
<ellipse cx="340.4" cy="241.8" rx="3.3" ry="2.8" fill="none" stroke="#f0c0bc" stroke-width="0.5" stroke-opacity="0.55"/>
<polygon points="330.8,250.0 325.7,245.3 328.7,239.2 334.8,237.6 339.9,242.1 336.5,251.4" fill="url(#redB)" stroke="#f0c0bc" stroke-width="0.6" stroke-opacity="0.8" stroke-linejoin="round"/>
<ellipse cx="331.2" cy="244.2" rx="3.2" ry="2.7" fill="none" stroke="#f0c0bc" stroke-width="0.5" stroke-opacity="0.55"/>
<polygon points="296.5,295.6 291.3,297.4 287.7,295.7 285.4,292.5 287.3,286.7 290.6,286.6 295.3,285.7 298.8,290.8 299.5,293.1" fill="url(#redB)" stroke="#f0c0bc" stroke-width="0.6" stroke-opacity="0.8" stroke-linejoin="round"/>
<ellipse cx="293.6" cy="293.1" rx="3.1" ry="2.6" fill="none" stroke="#f0c0bc" stroke-width="0.5" stroke-opacity="0.55"/>
<polygon points="369.0,251.8 363.0,249.7 363.1,243.0 368.3,236.4 374.8,240.0 375.0,248.5" fill="url(#redB)" stroke="#f0c0bc" stroke-width="0.6" stroke-opacity="0.8" stroke-linejoin="round"/>
<ellipse cx="371.6" cy="246.9" rx="3.5" ry="2.9" fill="none" stroke="#f0c0bc" stroke-width="0.5" stroke-opacity="0.55"/>
<polygon points="321.4,239.2 320.0,244.1 312.1,246.5 307.7,242.1 309.3,236.1 312.7,234.0 319.3,233.6" fill="url(#redB)" stroke="#f0c0bc" stroke-width="0.6" stroke-opacity="0.8" stroke-linejoin="round"/>
<ellipse cx="317.1" cy="239.7" rx="3.1" ry="2.6" fill="none" stroke="#f0c0bc" stroke-width="0.5" stroke-opacity="0.55"/>
<polygon points="314.0,270.7 317.9,280.1 317.9,285.2 308.7,285.3 305.2,279.0 309.2,271.4" fill="url(#redB)" stroke="#f0c0bc" stroke-width="0.6" stroke-opacity="0.8" stroke-linejoin="round"/>
<polygon points="356.6,244.7 361.3,243.8 364.8,247.9 365.0,251.8 358.2,255.9 352.6,253.9 350.1,249.1 352.4,247.0" fill="url(#redB)" stroke="#f0c0bc" stroke-width="0.6" stroke-opacity="0.8" stroke-linejoin="round"/>
<ellipse cx="356.6" cy="251.4" rx="3.5" ry="3.0" fill="none" stroke="#f0c0bc" stroke-width="0.5" stroke-opacity="0.55"/>
<polygon points="352.8,292.8 350.0,294.0 344.3,294.6 338.8,292.7 338.1,290.1 339.9,285.7 345.8,282.9 348.7,285.2 351.7,288.5" fill="url(#redB)" stroke="#f0c0bc" stroke-width="0.6" stroke-opacity="0.8" stroke-linejoin="round"/>
<polygon points="336.8,303.1 339.6,303.2 345.6,305.3 348.9,308.8 347.0,311.1 344.2,313.4 335.8,313.1 333.5,311.6 333.3,308.4" fill="url(#redB)" stroke="#f0c0bc" stroke-width="0.6" stroke-opacity="0.8" stroke-linejoin="round"/>
<ellipse cx="340.0" cy="307.4" rx="2.5" ry="2.1" fill="none" stroke="#f0c0bc" stroke-width="0.5" stroke-opacity="0.55"/>
<polygon points="366.1,289.0 369.6,292.5 370.6,298.5 364.8,302.1 362.0,301.8 355.9,296.7 357.1,292.9 362.0,287.5" fill="url(#redB)" stroke="#f0c0bc" stroke-width="0.6" stroke-opacity="0.8" stroke-linejoin="round"/>
<polygon points="314.9,268.9 310.8,265.9 308.4,260.3 310.7,258.0 314.4,255.4 320.8,255.8 323.0,259.2 322.9,264.7 320.3,268.3" fill="url(#redB)" stroke="#f0c0bc" stroke-width="0.6" stroke-opacity="0.8" stroke-linejoin="round"/>
<polygon points="334.2,298.6 328.5,302.0 324.0,301.2 322.2,294.6 325.8,292.4 332.3,292.2 336.4,295.6" fill="url(#redB)" stroke="#f0c0bc" stroke-width="0.6" stroke-opacity="0.8" stroke-linejoin="round"/>
<polygon points="364.3,316.7 361.5,309.1 362.7,304.0 364.6,300.2 370.6,302.6 373.0,305.0 373.5,313.3 368.6,316.8" fill="url(#redB)" stroke="#f0c0bc" stroke-width="0.6" stroke-opacity="0.8" stroke-linejoin="round"/>
<ellipse cx="367.5" cy="310.5" rx="2.2" ry="1.9" fill="none" stroke="#f0c0bc" stroke-width="0.5" stroke-opacity="0.55"/>
<polygon points="350.8,235.6 358.0,238.5 360.8,242.2 359.5,245.3 352.7,246.7 348.0,245.9 346.5,240.0" fill="url(#redB)" stroke="#f0c0bc" stroke-width="0.6" stroke-opacity="0.8" stroke-linejoin="round"/>
<ellipse cx="354.9" cy="241.3" rx="2.2" ry="1.9" fill="none" stroke="#f0c0bc" stroke-width="0.5" stroke-opacity="0.55"/>
<polygon points="302.1,315.7 298.8,313.1 298.0,309.5 300.3,306.9 304.0,305.5 309.0,307.0 311.8,310.7 308.0,315.4" fill="url(#redB)" stroke="#f0c0bc" stroke-width="0.6" stroke-opacity="0.8" stroke-linejoin="round"/>
<ellipse cx="305.2" cy="311.8" rx="3.3" ry="2.8" fill="none" stroke="#f0c0bc" stroke-width="0.5" stroke-opacity="0.55"/>
<polygon points="319.3,263.8 314.4,265.2 309.7,262.4 308.8,259.3 308.2,254.4 315.4,251.7 319.8,254.1 320.7,258.3" fill="url(#redB)" stroke="#f0c0bc" stroke-width="0.6" stroke-opacity="0.8" stroke-linejoin="round"/>
<polygon points="323.1,286.7 325.4,293.0 321.8,295.9 318.9,298.7 313.0,298.4 311.6,293.1 311.4,289.5 315.0,285.5 321.1,284.7" fill="url(#redB)" stroke="#f0c0bc" stroke-width="0.6" stroke-opacity="0.8" stroke-linejoin="round"/>
<polygon points="324.5,239.8 329.2,242.2 331.5,247.2 330.2,250.8 326.7,253.3 320.9,253.3 316.4,247.2 319.4,243.0" fill="url(#redB)" stroke="#f0c0bc" stroke-width="0.6" stroke-opacity="0.8" stroke-linejoin="round"/>
<ellipse cx="324.0" cy="244.9" rx="3.6" ry="3.1" fill="none" stroke="#f0c0bc" stroke-width="0.5" stroke-opacity="0.55"/>
<polygon points="329.7,259.8 336.6,259.0 340.1,263.9 339.7,271.0 335.2,275.8 331.8,273.0 327.6,269.3" fill="url(#redB)" stroke="#f0c0bc" stroke-width="0.6" stroke-opacity="0.8" stroke-linejoin="round"/>
<ellipse cx="334.3" cy="264.8" rx="3.8" ry="3.2" fill="none" stroke="#f0c0bc" stroke-width="0.5" stroke-opacity="0.55"/>
<polygon points="339.5,239.4 336.3,242.6 327.8,243.2 325.3,238.5 328.7,233.3 336.1,233.5" fill="url(#redB)" stroke="#f0c0bc" stroke-width="0.6" stroke-opacity="0.8" stroke-linejoin="round"/>
<polygon points="311.5,281.0 308.5,282.3 301.5,281.5 299.6,278.3 301.7,271.4 304.5,269.6 309.6,268.7 313.0,273.8" fill="url(#redB)" stroke="#f0c0bc" stroke-width="0.6" stroke-opacity="0.8" stroke-linejoin="round"/>
<polygon points="297.1,300.9 290.4,304.9 285.6,302.6 284.7,294.4 289.5,291.5 295.7,293.2" fill="url(#redB)" stroke="#f0c0bc" stroke-width="0.6" stroke-opacity="0.8" stroke-linejoin="round"/>
<polygon points="280.1,289.4 280.9,292.7 280.8,297.3 277.9,302.5 271.8,303.3 268.8,300.2 270.6,292.7 274.1,289.9" fill="url(#redB)" stroke="#f0c0bc" stroke-width="0.6" stroke-opacity="0.8" stroke-linejoin="round"/>
<ellipse cx="276.3" cy="293.8" rx="3.2" ry="2.7" fill="none" stroke="#f0c0bc" stroke-width="0.5" stroke-opacity="0.55"/>
<polygon points="329.8,258.0 326.8,256.9 320.8,256.2 320.3,253.9 321.5,247.7 323.9,246.9 329.6,245.7 331.2,247.8 331.5,253.3" fill="url(#redB)" stroke="#f0c0bc" stroke-width="0.6" stroke-opacity="0.8" stroke-linejoin="round"/>
<polygon points="358.5,273.3 353.8,275.5 348.8,275.5 346.0,269.6 350.7,266.4 358.7,268.7" fill="url(#redB)" stroke="#f0c0bc" stroke-width="0.6" stroke-opacity="0.8" stroke-linejoin="round"/>
<polygon points="320.2,241.9 325.1,246.0 323.1,248.7 317.2,251.3 312.3,248.0 311.2,245.1 315.8,241.5" fill="url(#redB)" stroke="#f0c0bc" stroke-width="0.6" stroke-opacity="0.8" stroke-linejoin="round"/>
<ellipse cx="316.8" cy="244.3" rx="2.3" ry="2.0" fill="none" stroke="#f0c0bc" stroke-width="0.5" stroke-opacity="0.55"/>
<polygon points="309.0,297.9 305.4,300.4 301.4,299.7 297.4,297.6 296.4,293.0 299.2,289.9 302.7,289.5 306.7,291.0 308.8,295.9" fill="url(#redB)" stroke="#f0c0bc" stroke-width="0.6" stroke-opacity="0.8" stroke-linejoin="round"/>
<ellipse cx="305.7" cy="292.8" rx="3.1" ry="2.6" fill="none" stroke="#f0c0bc" stroke-width="0.5" stroke-opacity="0.55"/>
<polygon points="337.8,290.1 341.2,288.2 349.0,289.8 349.6,293.9 347.0,297.3 343.0,297.6 338.1,296.5" fill="url(#redB)" stroke="#f0c0bc" stroke-width="0.6" stroke-opacity="0.8" stroke-linejoin="round"/>
<ellipse cx="344.6" cy="291.3" rx="3.2" ry="2.7" fill="none" stroke="#f0c0bc" stroke-width="0.5" stroke-opacity="0.55"/>
<polygon points="300.6,242.8 295.9,245.9 291.4,246.6 289.8,243.8 289.0,241.9 290.3,237.0 292.5,236.5 298.9,238.6 301.4,241.6" fill="url(#redB)" stroke="#f0c0bc" stroke-width="0.6" stroke-opacity="0.8" stroke-linejoin="round"/>
<ellipse cx="292.7" cy="242.9" rx="2.5" ry="2.1" fill="none" stroke="#f0c0bc" stroke-width="0.5" stroke-opacity="0.55"/>
<polygon points="274.9,298.1 283.2,296.1 287.5,298.7 285.6,304.5 279.9,306.6 276.7,304.7" fill="url(#redB)" stroke="#f0c0bc" stroke-width="0.6" stroke-opacity="0.8" stroke-linejoin="round"/>
<ellipse cx="281.8" cy="301.2" rx="2.2" ry="1.9" fill="none" stroke="#f0c0bc" stroke-width="0.5" stroke-opacity="0.55"/>
<polygon points="329.8,280.6 323.2,282.3 320.4,278.1 322.1,274.4 329.0,272.3 331.5,277.4" fill="url(#redB)" stroke="#f0c0bc" stroke-width="0.6" stroke-opacity="0.8" stroke-linejoin="round"/>
<ellipse cx="327.3" cy="278.7" rx="2.4" ry="2.1" fill="none" stroke="#f0c0bc" stroke-width="0.5" stroke-opacity="0.55"/>
<polygon points="298.4,280.7 296.0,278.5 296.6,271.5 298.4,271.0 302.0,269.4 306.4,268.4 309.2,274.5 307.3,278.5 302.4,281.4" fill="url(#redB)" stroke="#f0c0bc" stroke-width="0.6" stroke-opacity="0.8" stroke-linejoin="round"/>
<polygon points="323.6,291.5 329.5,296.2 326.3,302.8 319.9,303.6 317.6,298.5 319.0,294.0" fill="url(#redB)" stroke="#f0c0bc" stroke-width="0.6" stroke-opacity="0.8" stroke-linejoin="round"/>
<polygon points="304.5,285.4 302.0,280.4 304.6,274.5 310.8,272.5 314.1,276.8 312.6,283.9 309.7,286.6" fill="url(#redB)" stroke="#f0c0bc" stroke-width="0.6" stroke-opacity="0.8" stroke-linejoin="round"/>
<polygon points="341.1,233.9 341.5,240.4 339.3,242.4 335.4,243.3 331.4,239.3 329.3,236.4 330.2,232.8 334.4,231.0 340.5,231.5" fill="url(#redB)" stroke="#f0c0bc" stroke-width="0.6" stroke-opacity="0.8" stroke-linejoin="round"/>
<ellipse cx="335.5" cy="235.7" rx="2.0" ry="1.7" fill="none" stroke="#f0c0bc" stroke-width="0.5" stroke-opacity="0.55"/>
<polygon points="285.7,234.5 291.7,236.6 289.5,242.3 283.7,243.7 279.4,239.0 281.8,233.9" fill="url(#redB)" stroke="#f0c0bc" stroke-width="0.6" stroke-opacity="0.8" stroke-linejoin="round"/>
<polygon points="287.0,235.8 289.6,241.1 289.8,245.9 286.4,247.8 281.6,247.5 280.2,245.7 278.1,240.6 283.3,236.3" fill="url(#redB)" stroke="#f0c0bc" stroke-width="0.6" stroke-opacity="0.8" stroke-linejoin="round"/>
<ellipse cx="286.0" cy="241.6" rx="3.1" ry="2.7" fill="none" stroke="#f0c0bc" stroke-width="0.5" stroke-opacity="0.55"/>
<polygon points="304.2,244.9 300.6,242.9 302.0,236.8 304.1,236.1 308.5,236.6 312.7,239.9 310.8,244.7 308.1,246.1" fill="url(#redB)" stroke="#f0c0bc" stroke-width="0.6" stroke-opacity="0.8" stroke-linejoin="round"/>
<ellipse cx="305.5" cy="241.8" rx="1.9" ry="1.6" fill="none" stroke="#f0c0bc" stroke-width="0.5" stroke-opacity="0.55"/>
<polygon points="285.0,257.5 284.3,260.6 282.3,264.2 276.0,263.9 272.7,259.3 274.6,255.2 278.0,253.1 280.9,251.9" fill="url(#redB)" stroke="#f0c0bc" stroke-width="0.6" stroke-opacity="0.8" stroke-linejoin="round"/>
<ellipse cx="280.4" cy="256.0" rx="2.3" ry="1.9" fill="none" stroke="#f0c0bc" stroke-width="0.5" stroke-opacity="0.55"/>
<polygon points="348.7,259.0 347.6,254.1 349.3,248.4 352.3,247.7 357.2,249.3 359.0,253.0 355.9,258.6 354.4,260.3" fill="url(#redB)" stroke="#f0c0bc" stroke-width="0.6" stroke-opacity="0.8" stroke-linejoin="round"/>
<ellipse cx="353.3" cy="253.2" rx="3.1" ry="2.6" fill="none" stroke="#f0c0bc" stroke-width="0.5" stroke-opacity="0.55"/>
<polygon points="278.3,249.1 282.5,245.7 287.8,246.2 290.1,250.1 286.6,252.6 280.9,253.3" fill="url(#redB)" stroke="#f0c0bc" stroke-width="0.6" stroke-opacity="0.8" stroke-linejoin="round"/>
<ellipse cx="285.2" cy="248.6" rx="3.1" ry="2.6" fill="none" stroke="#f0c0bc" stroke-width="0.5" stroke-opacity="0.55"/>
<polygon points="341.2,240.0 337.5,235.5 338.6,230.2 340.3,228.7 344.3,228.4 348.6,232.5 347.5,236.8 344.9,239.7" fill="url(#redB)" stroke="#f0c0bc" stroke-width="0.6" stroke-opacity="0.8" stroke-linejoin="round"/>
<ellipse cx="344.5" cy="236.0" rx="2.4" ry="2.1" fill="none" stroke="#f0c0bc" stroke-width="0.5" stroke-opacity="0.55"/>
<polygon points="318.8,286.0 317.0,289.3 314.0,292.2 309.9,292.0 306.5,287.2 307.6,284.0 311.6,281.1 315.7,281.5" fill="url(#redB)" stroke="#f0c0bc" stroke-width="0.6" stroke-opacity="0.8" stroke-linejoin="round"/>
<ellipse cx="311.6" cy="286.2" rx="2.3" ry="1.9" fill="none" stroke="#f0c0bc" stroke-width="0.5" stroke-opacity="0.55"/>
<polygon points="298.5,311.0 296.8,308.4 300.6,306.0 304.3,304.2 307.7,306.8 306.8,310.9 304.4,313.3 301.4,314.5" fill="url(#redB)" stroke="#f0c0bc" stroke-width="0.6" stroke-opacity="0.8" stroke-linejoin="round"/>
<polygon points="295.3,241.8 299.9,241.3 302.6,242.8 303.0,249.3 300.4,252.6 294.3,251.1 293.0,246.1" fill="url(#redB)" stroke="#f0c0bc" stroke-width="0.6" stroke-opacity="0.8" stroke-linejoin="round"/>
<ellipse cx="297.4" cy="248.1" rx="2.6" ry="2.2" fill="none" stroke="#f0c0bc" stroke-width="0.5" stroke-opacity="0.55"/>
<polygon points="331.2,268.8 327.3,267.0 327.4,262.8 330.9,260.8 336.1,262.2 336.8,267.4" fill="url(#redB)" stroke="#f0c0bc" stroke-width="0.6" stroke-opacity="0.8" stroke-linejoin="round"/>
<polygon points="285.7,281.9 287.9,285.2 286.1,290.9 283.7,290.6 279.0,288.8 278.2,283.4 281.0,282.1" fill="url(#redB)" stroke="#f0c0bc" stroke-width="0.6" stroke-opacity="0.8" stroke-linejoin="round"/>
<ellipse cx="284.8" cy="284.7" rx="2.4" ry="2.1" fill="none" stroke="#f0c0bc" stroke-width="0.5" stroke-opacity="0.55"/>
<polygon points="326.6,294.7 329.3,293.6 333.5,296.6 334.6,298.3 332.2,302.6 327.5,302.4 324.4,301.6 324.1,298.7" fill="url(#redB)" stroke="#f0c0bc" stroke-width="0.6" stroke-opacity="0.8" stroke-linejoin="round"/>
<polygon points="360.3,235.8 362.0,241.3 359.6,245.0 354.3,245.2 351.2,241.3 352.5,237.6 356.5,234.4" fill="url(#redB)" stroke="#f0c0bc" stroke-width="0.6" stroke-opacity="0.8" stroke-linejoin="round"/>
<ellipse cx="358.1" cy="241.4" rx="2.2" ry="1.9" fill="none" stroke="#f0c0bc" stroke-width="0.5" stroke-opacity="0.55"/>
<polygon points="280.7,267.1 276.7,270.8 272.8,269.3 271.2,264.5 275.6,261.3 278.7,262.8" fill="url(#redB)" stroke="#f0c0bc" stroke-width="0.6" stroke-opacity="0.8" stroke-linejoin="round"/>
<ellipse cx="274.6" cy="266.9" rx="2.4" ry="2.1" fill="none" stroke="#f0c0bc" stroke-width="0.5" stroke-opacity="0.55"/>
<polygon points="317.2,250.0 318.4,253.4 317.7,256.7 311.5,257.3 309.2,254.4 309.8,250.9 313.6,247.3" fill="url(#redB)" stroke="#f0c0bc" stroke-width="0.6" stroke-opacity="0.8" stroke-linejoin="round"/>
<ellipse cx="312.9" cy="254.9" rx="1.9" ry="1.6" fill="none" stroke="#f0c0bc" stroke-width="0.5" stroke-opacity="0.55"/>
<polygon points="301.0,286.5 298.6,287.3 296.2,287.3 292.4,285.8 291.6,283.7 292.3,281.2 296.6,280.4 299.0,281.0 301.4,282.9" fill="url(#redB)" stroke="#f0c0bc" stroke-width="0.6" stroke-opacity="0.8" stroke-linejoin="round"/>
<ellipse cx="298.7" cy="284.5" rx="2.1" ry="1.8" fill="none" stroke="#f0c0bc" stroke-width="0.5" stroke-opacity="0.55"/>
<polygon points="343.8,280.1 343.0,282.8 338.1,284.7 334.3,282.4 334.9,278.8 339.6,276.8" fill="url(#redB)" stroke="#f0c0bc" stroke-width="0.6" stroke-opacity="0.8" stroke-linejoin="round"/>
<ellipse cx="338.4" cy="281.6" rx="2.4" ry="2.0" fill="none" stroke="#f0c0bc" stroke-width="0.5" stroke-opacity="0.55"/>
<polygon points="361.2,297.4 357.8,294.9 357.7,289.5 360.3,288.7 365.6,290.6 365.3,295.8" fill="url(#redB)" stroke="#f0c0bc" stroke-width="0.6" stroke-opacity="0.8" stroke-linejoin="round"/>
<ellipse cx="362.3" cy="294.3" rx="2.9" ry="2.4" fill="none" stroke="#f0c0bc" stroke-width="0.5" stroke-opacity="0.55"/>
<polygon points="278.2,297.2 282.1,297.4 284.7,299.9 284.2,304.9 280.7,307.0 275.8,304.2" fill="url(#redB)" stroke="#f0c0bc" stroke-width="0.6" stroke-opacity="0.8" stroke-linejoin="round"/>
<ellipse cx="281.3" cy="302.1" rx="2.1" ry="1.7" fill="none" stroke="#f0c0bc" stroke-width="0.5" stroke-opacity="0.55"/>
<polygon points="283.4,245.8 287.1,248.3 286.1,252.7 284.3,256.1 282.2,256.6 279.5,253.9 276.7,251.8 277.5,247.1 281.5,246.2" fill="url(#redB)" stroke="#f0c0bc" stroke-width="0.6" stroke-opacity="0.8" stroke-linejoin="round"/>
<polygon points="351.2,243.4 348.0,245.8 344.8,242.9 342.9,240.6 345.4,237.0 350.7,237.3 352.5,240.6" fill="url(#redB)" stroke="#f0c0bc" stroke-width="0.6" stroke-opacity="0.8" stroke-linejoin="round"/>
<polygon points="355.4,273.0 352.2,271.9 351.0,270.0 352.1,265.3 354.6,264.0 356.9,262.8 359.9,265.6 360.5,269.8 359.6,272.4" fill="url(#redB)" stroke="#f0c0bc" stroke-width="0.6" stroke-opacity="0.8" stroke-linejoin="round"/>
<polygon points="279.4,282.6 281.5,276.6 286.2,277.7 288.7,279.1 288.2,286.0 282.8,287.0" fill="url(#redB)" stroke="#f0c0bc" stroke-width="0.6" stroke-opacity="0.8" stroke-linejoin="round"/>
<ellipse cx="283.5" cy="280.4" rx="2.4" ry="2.0" fill="none" stroke="#f0c0bc" stroke-width="0.5" stroke-opacity="0.55"/>
<polygon points="278.1,276.7 277.8,273.3 281.5,269.6 283.9,270.0 286.1,273.1 286.0,275.3 285.0,277.3 280.8,278.4" fill="url(#redB)" stroke="#f0c0bc" stroke-width="0.6" stroke-opacity="0.8" stroke-linejoin="round"/>
<ellipse cx="283.2" cy="275.3" rx="1.8" ry="1.6" fill="none" stroke="#f0c0bc" stroke-width="0.5" stroke-opacity="0.55"/>
<polygon points="327.0,262.7 325.5,265.1 322.5,265.2 320.0,265.5 318.2,263.2 318.5,260.5 319.9,258.1 323.6,257.3 325.9,258.7" fill="url(#redB)" stroke="#f0c0bc" stroke-width="0.6" stroke-opacity="0.8" stroke-linejoin="round"/>
<polygon points="285.4,270.5 281.8,275.1 278.2,274.4 276.4,270.5 277.2,266.4 280.7,265.5 283.4,266.6" fill="url(#redB)" stroke="#f0c0bc" stroke-width="0.6" stroke-opacity="0.8" stroke-linejoin="round"/>
<polygon points="368.1,297.5 371.2,301.0 370.4,304.1 369.2,305.9 366.6,306.0 363.3,303.6 363.3,301.4 365.1,298.0" fill="url(#redB)" stroke="#f0c0bc" stroke-width="0.6" stroke-opacity="0.8" stroke-linejoin="round"/>
<polygon points="335.2,251.8 332.6,249.6 331.4,246.9 333.3,244.8 335.3,243.6 338.5,245.4 340.5,246.4 339.3,250.2 338.3,251.6" fill="url(#redB)" stroke="#f0c0bc" stroke-width="0.6" stroke-opacity="0.8" stroke-linejoin="round"/>
<polygon points="287.7,272.8 282.3,273.6 281.0,271.9 281.2,268.0 283.3,266.7 286.3,266.2 288.2,270.7" fill="url(#redB)" stroke="#f0c0bc" stroke-width="0.6" stroke-opacity="0.8" stroke-linejoin="round"/>
<ellipse cx="283.1" cy="268.7" rx="1.4" ry="1.2" fill="none" stroke="#f0c0bc" stroke-width="0.5" stroke-opacity="0.55"/>
<polygon points="288.3,242.7 290.7,240.2 292.6,240.0 295.2,240.3 296.9,242.1 295.4,244.4 292.7,245.0 289.0,244.4" fill="url(#redB)" stroke="#f0c0bc" stroke-width="0.6" stroke-opacity="0.8" stroke-linejoin="round"/>
<polygon points="356.1,254.1 356.6,250.9 360.2,248.7 362.7,249.9 364.0,252.5 361.6,255.9 357.7,255.6" fill="url(#redB)" stroke="#f0c0bc" stroke-width="0.6" stroke-opacity="0.8" stroke-linejoin="round"/>
<ellipse cx="361.3" cy="253.6" rx="1.5" ry="1.3" fill="none" stroke="#f0c0bc" stroke-width="0.5" stroke-opacity="0.55"/>
<polygon points="302.1,246.1 301.3,243.0 303.2,240.2 306.5,239.7 308.8,242.4 308.5,246.5 306.3,247.5 304.0,248.3" fill="url(#redB)" stroke="#f0c0bc" stroke-width="0.6" stroke-opacity="0.8" stroke-linejoin="round"/>
<ellipse cx="306.3" cy="244.1" rx="1.3" ry="1.1" fill="none" stroke="#f0c0bc" stroke-width="0.5" stroke-opacity="0.55"/>
<polygon points="289.7,296.7 290.8,299.5 290.2,301.6 286.4,303.6 284.6,302.7 284.4,298.4 286.1,296.5" fill="url(#redB)" stroke="#f0c0bc" stroke-width="0.6" stroke-opacity="0.8" stroke-linejoin="round"/>
<polygon points="279.9,246.1 283.1,245.6 285.4,247.1 285.8,248.1 285.4,250.6 283.7,251.7 280.7,250.9 279.6,250.1 279.4,247.6" fill="url(#redB)" stroke="#f0c0bc" stroke-width="0.6" stroke-opacity="0.8" stroke-linejoin="round"/>
<polygon points="308.3,254.7 309.4,256.7 309.4,258.9 305.8,261.0 302.7,259.6 303.0,257.7 303.3,254.1 305.0,254.1" fill="url(#redB)" stroke="#f0c0bc" stroke-width="0.6" stroke-opacity="0.8" stroke-linejoin="round"/>
<ellipse cx="307.0" cy="256.4" rx="1.3" ry="1.1" fill="none" stroke="#f0c0bc" stroke-width="0.5" stroke-opacity="0.55"/>
<polygon points="339.0,261.2 336.9,258.8 336.5,255.4 338.1,251.9 341.2,252.5 343.8,256.5 342.5,260.0" fill="url(#redB)" stroke="#f0c0bc" stroke-width="0.6" stroke-opacity="0.8" stroke-linejoin="round"/>
<ellipse cx="338.5" cy="256.1" rx="1.4" ry="1.2" fill="none" stroke="#f0c0bc" stroke-width="0.5" stroke-opacity="0.55"/>
<polygon points="336.2,263.6 338.4,263.9 340.7,266.4 340.7,270.3 336.2,270.7 334.7,267.1" fill="url(#redB)" stroke="#f0c0bc" stroke-width="0.6" stroke-opacity="0.8" stroke-linejoin="round"/>
<ellipse cx="339.3" cy="268.8" rx="2.0" ry="1.7" fill="none" stroke="#f0c0bc" stroke-width="0.5" stroke-opacity="0.55"/>
<polygon points="289.7,247.5 292.5,247.6 294.6,251.8 291.3,254.4 289.0,253.5 287.5,250.2" fill="url(#redB)" stroke="#f0c0bc" stroke-width="0.6" stroke-opacity="0.8" stroke-linejoin="round"/>
<ellipse cx="291.9" cy="249.9" rx="1.7" ry="1.4" fill="none" stroke="#f0c0bc" stroke-width="0.5" stroke-opacity="0.55"/>
<polygon points="291.6,294.9 289.0,295.0 286.9,292.9 286.1,291.3 287.6,288.9 291.1,286.9 292.2,288.3 294.3,289.4 293.9,293.8" fill="url(#redB)" stroke="#f0c0bc" stroke-width="0.6" stroke-opacity="0.8" stroke-linejoin="round"/>
<ellipse cx="291.3" cy="291.1" rx="1.7" ry="1.4" fill="none" stroke="#f0c0bc" stroke-width="0.5" stroke-opacity="0.55"/>
<polygon points="278.6,277.6 281.7,275.1 284.7,276.2 286.0,278.4 283.7,281.0 279.9,280.6" fill="url(#redB)" stroke="#f0c0bc" stroke-width="0.6" stroke-opacity="0.8" stroke-linejoin="round"/>
<ellipse cx="282.9" cy="277.9" rx="2.0" ry="1.7" fill="none" stroke="#f0c0bc" stroke-width="0.5" stroke-opacity="0.55"/>
<polygon points="350.5,233.5 352.6,233.2 355.2,234.4 355.4,235.8 355.8,238.8 353.7,240.0 351.2,240.0 350.2,239.0 348.8,236.7" fill="url(#redB)" stroke="#f0c0bc" stroke-width="0.6" stroke-opacity="0.8" stroke-linejoin="round"/>
<ellipse cx="351.8" cy="235.6" rx="1.7" ry="1.4" fill="none" stroke="#f0c0bc" stroke-width="0.5" stroke-opacity="0.55"/>
<polygon points="310.5,235.3 313.1,235.4 314.2,238.0 313.3,239.0 311.6,240.6 309.3,241.2 307.7,238.2 307.4,236.1 309.2,235.1" fill="url(#redB)" stroke="#f0c0bc" stroke-width="0.6" stroke-opacity="0.8" stroke-linejoin="round"/>
<ellipse cx="311.5" cy="237.2" rx="1.4" ry="1.2" fill="none" stroke="#f0c0bc" stroke-width="0.5" stroke-opacity="0.55"/>
<polygon points="300.6,277.5 304.3,275.2 305.9,276.5 306.8,279.6 306.4,282.4 302.7,282.1 300.2,279.7" fill="url(#redB)" stroke="#f0c0bc" stroke-width="0.6" stroke-opacity="0.8" stroke-linejoin="round"/>
<polygon points="286.9,293.0 285.8,291.0 286.8,288.8 290.0,288.5 292.5,290.1 290.3,293.5" fill="url(#redB)" stroke="#f0c0bc" stroke-width="0.6" stroke-opacity="0.8" stroke-linejoin="round"/>
<polygon points="357.8,311.8 356.4,310.4 356.0,307.1 356.8,305.8 359.6,304.6 361.9,305.3 362.4,308.0 363.0,309.8 361.4,311.2" fill="url(#redB)" stroke="#f0c0bc" stroke-width="0.6" stroke-opacity="0.8" stroke-linejoin="round"/>
<polygon points="279.9,262.5 282.6,265.1 281.5,267.2 279.4,269.3 277.8,269.4 275.8,266.7 275.7,264.1 278.2,262.7" fill="url(#redB)" stroke="#f0c0bc" stroke-width="0.6" stroke-opacity="0.8" stroke-linejoin="round"/>
<ellipse cx="279.1" cy="265.7" rx="2.0" ry="1.7" fill="none" stroke="#f0c0bc" stroke-width="0.5" stroke-opacity="0.55"/>
<polygon points="291.9,288.4 294.5,287.9 297.0,289.8 295.9,292.4 293.2,292.8 290.8,291.0" fill="url(#redB)" stroke="#f0c0bc" stroke-width="0.6" stroke-opacity="0.8" stroke-linejoin="round"/>
</g></g>
<path d="M276.3,236.2 L282.5,236.2 C282,245 281,252 276.3,258 Z" fill="#5aa498" opacity="0.9"/>
<path d="M276.3,296 C280,293 286,292 290,295 C292,300 293,305 293,309.6 L276.3,309.6 Z" fill="#1a0c0c"/>
<line x1="340.00" y1="302.80" x2="366.00" y2="302.80" stroke="#eee" stroke-width="0.6" />
<line x1="340.00" y1="305.20" x2="366.00" y2="305.20" stroke="#eee" stroke-width="0.6" />
<text x="338.50" y="184.20" font-family="Liberation Sans" font-size="12.21" fill="#fff" font-weight="bold" stroke="#fff" stroke-width="0.22" textLength="25.00" lengthAdjust="spacingAndGlyphs" >S&amp;T</text>
<text x="335.20" y="229.80" font-family="Liberation Sans" font-size="12.35" fill="#fff" font-weight="bold" stroke="#fff" stroke-width="0.22" textLength="32.60" lengthAdjust="spacingAndGlyphs" >2 μm</text>
<text x="339.30" y="252.00" font-family="Liberation Sans" font-size="12.06" fill="#fff" font-weight="bold" stroke="#fff" stroke-width="0.22" textLength="24.70" lengthAdjust="spacingAndGlyphs" >S&amp;U</text>
<text x="335.50" y="296.80" font-family="Liberation Sans" font-size="12.35" fill="#fff" font-weight="bold" stroke="#fff" stroke-width="0.22" textLength="30.50" lengthAdjust="spacingAndGlyphs" >2 μm</text>
<text x="371.00" y="179.60" font-family="Liberation Serif" font-size="10.5" fill="#000" font-weight="bold" >(F)</text>
<rect x="388.60" y="180.50" width="147.10" height="108.50" fill="none" stroke="#333" stroke-width="0.8" />
<polyline points="399.00,242.70 399.50,242.77 400.00,242.85 400.50,242.92 401.00,243.00 401.50,243.07 402.00,243.15 402.50,243.22 403.00,243.30 403.50,243.38 404.00,243.45 404.50,243.52 405.00,243.60 405.50,243.67 406.00,243.75 406.50,243.82 407.00,243.90 407.50,243.97 408.00,244.05 408.50,244.12 409.00,244.20 409.50,244.27 410.00,244.35 410.50,244.43 411.00,244.50 411.50,244.58 412.00,244.65 412.50,244.73 413.00,244.80 413.50,244.88 414.00,244.95 414.50,245.03 415.00,245.10 415.50,245.18 416.00,245.25 416.50,245.33 417.00,245.40 417.50,245.48 418.00,245.55 418.50,245.63 419.00,245.70 419.50,245.78 420.00,245.85 420.50,245.93 421.00,246.00 421.50,246.08 422.00,246.15 422.50,246.23 423.00,246.30 423.50,246.38 424.00,246.45 424.50,246.53 425.00,246.60 425.50,246.68 426.00,246.75 426.50,246.83 427.00,246.90 427.50,246.98 428.00,247.05 428.50,247.13 429.00,247.20 429.50,247.28 430.00,247.35 430.50,247.43 431.00,247.50 431.50,247.58 432.00,247.65 432.50,247.73 433.00,247.80 433.50,247.88 434.00,247.95 434.50,248.03 435.00,248.10 435.50,248.18 436.00,248.25 436.50,248.33 437.00,248.40 437.50,248.48 438.00,248.55 438.50,248.63 439.00,248.70 439.50,248.78 440.00,248.85 440.50,248.93 441.00,249.00 441.50,249.08 442.00,249.15 442.50,249.23 443.00,249.30 443.50,249.38 444.00,249.45 444.50,249.53 445.00,249.60 445.50,249.68 446.00,249.75 446.50,249.83 447.00,249.90 447.50,249.98 448.00,250.05 448.50,250.13 449.00,250.20 449.50,250.28 450.00,250.35 450.50,250.43 451.00,250.50 451.50,250.58 452.00,250.65 452.50,250.73 453.00,250.80 453.50,250.88 454.00,250.95 454.50,251.03 455.00,251.10 455.50,251.18 456.00,251.25 456.50,251.33 457.00,251.40 457.50,251.48 458.00,251.55 458.50,251.63 459.00,251.70 459.50,251.78 460.00,251.85 460.50,251.93 461.00,252.00 461.50,252.08 462.00,252.15 462.50,252.23 463.00,252.30 463.50,252.38 464.00,252.45 464.50,252.53 465.00,252.60 465.50,252.68 466.00,252.75 466.50,252.83 467.00,252.90 467.50,252.98 468.00,253.05 468.50,253.13 469.00,253.20 469.50,253.28 470.00,253.35 470.50,253.43 471.00,253.50 471.50,253.58 472.00,253.65 472.50,253.73 473.00,253.80 473.50,253.88 474.00,253.95 474.50,254.03 475.00,254.10 475.50,254.18 476.00,254.25 476.50,254.33 477.00,254.40 477.50,254.48 478.00,254.55 478.50,254.63 479.00,254.70 479.50,254.78 480.00,254.86 480.50,254.93 481.00,255.01 481.50,255.09 482.00,255.16 482.50,255.24 483.00,255.32 483.50,255.40 484.00,255.48 484.50,255.56 485.00,255.65 485.50,255.73 486.00,255.82 486.50,255.91 487.00,256.00 487.50,256.10 488.00,256.20 488.50,256.30 489.00,256.41 489.50,256.53 490.00,256.66 490.50,256.80 491.00,256.96 491.50,257.12 492.00,257.31 492.50,257.52 493.00,257.75 493.50,258.01 494.00,258.31 494.50,258.64 495.00,259.01 495.50,259.43 496.00,259.90 496.50,260.42 497.00,261.00 497.50,261.62 498.00,262.30 498.50,263.02 499.00,263.78 499.50,264.56 500.00,265.35 500.50,266.14 501.00,266.92 501.50,267.68 502.00,268.40 502.50,269.08 503.00,269.70 503.50,270.28 504.00,270.80 504.50,271.27 505.00,271.69 505.50,272.06 506.00,272.39 506.50,272.69 507.00,272.95 507.50,273.18 508.00,273.39 508.50,273.58 509.00,273.74 509.50,273.90 510.00,274.04 510.50,274.17 511.00,274.29 511.50,274.40 512.00,274.50 512.50,274.60 513.00,274.70 513.50,274.79 514.00,274.88 514.50,274.97 515.00,275.05 515.50,275.14 516.00,275.22 516.50,275.30 517.00,275.38 517.50,275.46 518.00,275.54 518.50,275.61" fill="none" stroke="#a0522d" stroke-width="0.6" stroke-linejoin="round" />
<polyline points="407.00,243.82 407.50,243.87 408.00,243.92 408.50,243.97 409.00,244.01 409.50,244.05 410.00,244.08 410.50,244.10 411.00,244.11 411.50,244.11 412.00,244.10 412.50,244.08 413.00,244.04 413.50,243.99 414.00,243.93 414.50,243.84 415.00,243.74 415.50,243.62 416.00,243.48 416.50,243.31 417.00,243.12 417.50,242.91 418.00,242.68 418.50,242.43 419.00,242.15 419.50,241.85 420.00,241.53 420.50,241.20 421.00,240.84 421.50,240.48 422.00,240.10 422.50,239.71 423.00,239.32 423.50,238.94 424.00,238.55 424.50,238.17 425.00,237.81 425.50,237.47 426.00,237.14 426.50,236.85 427.00,236.59 427.50,236.36 428.00,236.17 428.50,236.03 429.00,235.93 429.50,235.88 430.00,235.88 430.50,235.93 431.00,236.03 431.50,236.18 432.00,236.38 432.50,236.63 433.00,236.92 433.50,237.26 434.00,237.64 434.50,238.05 435.00,238.49 435.50,238.97 436.00,239.46 436.50,239.97 437.00,240.50 437.50,241.04 438.00,241.57 438.50,242.11 439.00,242.65 439.50,243.18 440.00,243.69 440.50,244.20 441.00,244.68 441.50,245.15 442.00,245.60 442.50,246.03 443.00,246.43 443.50,246.81 444.00,247.17 444.50,247.51 445.00,247.83 445.50,248.12 446.00,248.39 446.50,248.64 447.00,248.88 447.50,249.09 448.00,249.29 448.50,249.48 449.00,249.65 449.50,249.81 450.00,249.96 450.50,250.10 451.00,250.23 451.50,250.35 452.00,250.46 452.50,250.57 453.00,250.67 453.50,250.77 454.00,250.87" fill="none" stroke="#a8a830" stroke-width="0.6" stroke-linejoin="round" />
<polyline points="460.00,251.73 460.50,251.77 461.00,251.80 461.50,251.82 462.00,251.82 462.50,251.81 463.00,251.79 463.50,251.74 464.00,251.66 464.50,251.55 465.00,251.42 465.50,251.24 466.00,251.03 466.50,250.77 467.00,250.46 467.50,250.11 468.00,249.70 468.50,249.23 469.00,248.71 469.50,248.14 470.00,247.51 470.50,246.83 471.00,246.10 471.50,245.33 472.00,244.54 472.50,243.72 473.00,242.88 473.50,242.05 474.00,241.23 474.50,240.44 475.00,239.69 475.50,238.99 476.00,238.37 476.50,237.82 477.00,237.37 477.50,237.03 478.00,236.80 478.50,236.69 479.00,236.70 479.50,236.84 480.00,237.11 480.50,237.49 481.00,237.98 481.50,238.58 482.00,239.28 482.50,240.06 483.00,240.91 483.50,241.81 484.00,242.76 484.50,243.74 485.00,244.73 485.50,245.72 486.00,246.70 486.50,247.67 487.00,248.60 487.50,249.50 488.00,250.35 488.50,251.16 489.00,251.93 489.50,252.64 490.00,253.31 490.50,253.94 491.00,254.52 491.50,255.07 492.00,255.59 492.50,256.09 493.00,256.57 493.50,257.04 494.00,257.52 494.50,258.00 495.00,258.50 495.50,259.02 496.00,259.58 496.50,260.17 497.00,260.80 497.50,261.47 498.00,262.18" fill="none" stroke="#a8a830" stroke-width="0.6" stroke-linejoin="round" />
<polyline points="490.00,256.61 490.50,256.69 491.00,256.73 491.50,256.70 492.00,256.53 492.50,256.16 493.00,255.50 493.50,254.49 494.00,253.06 494.50,251.23 495.00,249.06 495.50,246.75 496.00,244.55 496.50,242.77 497.00,241.73 497.50,241.64 498.00,242.63 498.50,244.63 499.00,247.44 499.50,250.78 500.00,254.32 500.50,257.75 501.00,260.87 501.50,263.52 502.00,265.69 502.50,267.40 503.00,268.72 503.50,269.73 504.00,270.51 504.50,271.12 505.00,271.62" fill="none" stroke="#2a2aff" stroke-width="0.7" stroke-linejoin="round" />
<polyline points="443.50,249.34 444.00,249.37 444.50,249.35 445.00,249.26 445.50,249.04 446.00,248.65 446.50,248.02 447.00,247.12 447.50,245.95 448.00,244.59 448.50,243.16 449.00,241.85 449.50,240.87 450.00,240.40 450.50,240.54 451.00,241.27 451.50,242.48 452.00,243.98 452.50,245.56 453.00,247.05 453.50,248.31 454.00,249.31 454.50,250.03 455.00,250.54 455.50,250.88 456.00,251.10 456.50,251.25 457.00,251.37" fill="none" stroke="#2a2aff" stroke-width="0.7" stroke-linejoin="round" />
<polyline points="484.00,255.31 484.50,255.27 485.00,255.17 485.50,254.97 486.00,254.63 486.50,254.11 487.00,253.33 487.50,252.24 488.00,250.76 488.50,248.82 489.00,246.35 489.50,243.34 490.00,239.78 490.50,235.72 491.00,231.26 491.50,226.57 492.00,221.85 492.50,217.36 493.00,213.36 493.50,210.13 494.00,207.91 494.50,206.87 495.00,207.11 495.50,208.66 496.00,211.43 496.50,215.27 497.00,219.94 497.50,225.20 498.00,230.76 498.50,236.37 499.00,241.80 499.50,246.87 500.00,251.46 500.50,255.50 501.00,258.97 501.50,261.87 502.00,264.26 502.50,266.20 503.00,267.75 503.50,268.99 504.00,269.96 504.50,270.74 505.00,271.36 505.50,271.87 506.00,272.28" fill="none" stroke="#f03030" stroke-width="0.8" stroke-linejoin="round" />
<polyline points="437.50,248.39 438.00,248.40 438.50,248.37 439.00,248.28 439.50,248.10 440.00,247.80 440.50,247.33 441.00,246.66 441.50,245.74 442.00,244.54 442.50,243.04 443.00,241.24 443.50,239.18 444.00,236.94 444.50,234.61 445.00,232.35 445.50,230.31 446.00,228.64 446.50,227.49 447.00,226.95 447.50,227.10 448.00,227.91 448.50,229.32 449.00,231.23 449.50,233.48 450.00,235.92 450.50,238.39 451.00,240.75 451.50,242.91 452.00,244.80 452.50,246.40 453.00,247.69 453.50,248.70 454.00,249.48 454.50,250.06 455.00,250.48 455.50,250.79 456.00,251.02 456.50,251.19 457.00,251.32" fill="none" stroke="#f03030" stroke-width="0.8" stroke-linejoin="round" />
<polyline points="399.00,242.61 399.50,242.38 400.00,242.56 400.50,242.85 401.00,242.62 401.50,243.01 402.00,243.37 402.50,242.98 403.00,243.17 403.50,243.25 404.00,242.87 404.50,243.20 405.00,243.71 405.50,243.83 406.00,243.73 406.50,243.32 407.00,243.06 407.50,243.25 408.00,243.95 408.50,244.53 409.00,244.54 409.50,244.36 410.00,244.25 410.50,244.08 411.00,243.65 411.50,243.72 412.00,244.32 412.50,244.40 413.00,243.83 413.50,243.31 414.00,243.22 414.50,243.22 415.00,243.49 415.50,243.67 416.00,243.53 416.50,243.82 417.00,243.54 417.50,242.53 418.00,242.26 418.50,242.05 419.00,241.52 419.50,241.71 420.00,241.74 420.50,241.03 421.00,240.50 421.50,240.13 422.00,240.20 422.50,240.06 423.00,238.91 423.50,237.92 424.00,237.78 424.50,237.69 425.00,237.01 425.50,236.68 426.00,237.15 426.50,237.31 427.00,236.69 427.50,236.28 428.00,236.04 428.50,235.68 429.00,235.60 429.50,235.61 430.00,236.10 430.50,236.29 431.00,235.81 431.50,236.05 432.00,236.34 432.50,236.14 433.00,236.74 433.50,238.02 434.00,238.31 434.50,238.02 435.00,238.79 435.50,239.47 436.00,239.47 436.50,239.65 437.00,239.89 437.50,240.61 438.00,241.60 438.50,242.22 439.00,242.34 439.50,242.04 440.00,242.38 440.50,242.95 441.00,242.58 441.50,241.71 442.00,241.13 442.50,240.49 443.00,238.72 443.50,236.81 444.00,235.62 444.50,234.16 445.00,232.62 445.50,231.54 446.00,230.82 446.50,230.01 447.00,229.35 447.50,228.85 448.00,228.22 448.50,227.61 449.00,227.20 449.50,227.85 450.00,229.04 450.50,230.48 451.00,232.63 451.50,235.34 452.00,238.52 452.50,241.31 453.00,244.03 453.50,246.75 454.00,248.34 454.50,249.69 455.00,251.05 455.50,251.76 456.00,252.18 456.50,252.72 457.00,253.37 457.50,253.41 458.00,253.80 458.50,254.72 459.00,255.16 459.50,256.00 460.00,256.60 460.50,256.07 461.00,255.35 461.50,255.27 462.00,255.62 462.50,256.02 463.00,256.47 463.50,256.45 464.00,255.50 464.50,254.76 465.00,254.44 465.50,253.65 466.00,253.07 466.50,253.09 467.00,252.52 467.50,251.42 468.00,250.95 468.50,250.80 469.00,250.05 469.50,249.16 470.00,248.31 470.50,247.26 471.00,246.68 471.50,246.28 472.00,245.35 472.50,243.84 473.00,242.23 473.50,241.36 474.00,240.86 474.50,240.19 475.00,239.44 475.50,238.77 476.00,238.32 476.50,237.40 477.00,236.46 477.50,236.36 478.00,236.62 478.50,236.70 479.00,236.44 479.50,236.40 480.00,237.18 480.50,238.06 481.00,238.58 481.50,238.87 482.00,239.28 482.50,240.58 483.00,241.65 483.50,242.02 484.00,242.66 484.50,243.74 485.00,244.48 485.50,244.73 486.00,245.40 486.50,245.81 487.00,245.77 487.50,245.82 488.00,244.95 488.50,243.30 489.00,241.67 489.50,239.31 490.00,236.23 490.50,232.41 491.00,227.90 491.50,223.37 492.00,218.69 492.50,213.56 493.00,208.29 493.50,203.77 494.00,199.83 494.50,196.63 495.00,194.40 495.50,193.25 496.00,194.20 496.50,196.78 497.00,200.28 497.50,204.69 498.00,210.24 498.50,217.37 499.00,225.14 499.50,232.38 500.00,239.42 500.50,246.41 501.00,252.54 501.50,257.20 502.00,260.94 502.50,264.28 503.00,266.76 503.50,268.27 504.00,269.44 504.50,270.84 505.00,271.92 505.50,272.72 506.00,273.31 506.50,273.06 507.00,272.54 507.50,272.57 508.00,273.13 508.50,273.55 509.00,273.37 509.50,273.14 510.00,273.17 510.50,273.74 511.00,274.87 511.50,275.15 512.00,274.78 512.50,274.80 513.00,274.82 513.50,274.72 514.00,274.82 514.50,274.89 515.00,274.67 515.50,274.70 516.00,274.91 516.50,274.91 517.00,275.39 517.50,275.67 518.00,274.99 518.50,274.66" fill="none" stroke="#222" stroke-width="0.7" stroke-linejoin="round" />
<polyline points="399.00,242.70 399.50,242.77 400.00,242.85 400.50,242.92 401.00,242.99 401.50,243.07 402.00,243.14 402.50,243.21 403.00,243.29 403.50,243.36 404.00,243.43 404.50,243.50 405.00,243.56 405.50,243.63 406.00,243.69 406.50,243.76 407.00,243.82 407.50,243.87 408.00,243.92 408.50,243.97 409.00,244.01 409.50,244.05 410.00,244.08 410.50,244.10 411.00,244.11 411.50,244.11 412.00,244.10 412.50,244.08 413.00,244.04 413.50,243.99 414.00,243.93 414.50,243.84 415.00,243.74 415.50,243.62 416.00,243.48 416.50,243.31 417.00,243.12 417.50,242.91 418.00,242.68 418.50,242.43 419.00,242.15 419.50,241.85 420.00,241.53 420.50,241.20 421.00,240.84 421.50,240.48 422.00,240.10 422.50,239.71 423.00,239.32 423.50,238.94 424.00,238.55 424.50,238.17 425.00,237.81 425.50,237.47 426.00,237.14 426.50,236.85 427.00,236.59 427.50,236.36 428.00,236.17 428.50,236.03 429.00,235.93 429.50,235.88 430.00,235.88 430.50,235.92 431.00,236.03 431.50,236.18 432.00,236.38 432.50,236.63 433.00,236.92 433.50,237.26 434.00,237.64 434.50,238.05 435.00,238.49 435.50,238.96 436.00,239.45 436.50,239.95 437.00,240.45 437.50,240.95 438.00,241.42 438.50,241.86 439.00,242.23 439.50,242.50 440.00,242.64 440.50,242.60 441.00,242.34 441.50,241.82 442.00,240.99 442.50,239.84 443.00,238.36 443.50,236.59 444.00,234.58 444.50,232.43 445.00,230.24 445.50,228.12 446.00,226.18 446.50,224.50 447.00,223.15 447.50,222.20 448.00,221.69 448.50,221.71 449.00,222.33 449.50,223.61 450.00,225.58 450.50,228.17 451.00,231.25 451.50,234.59 452.00,237.94 452.50,241.08 453.00,243.80 453.50,246.03 454.00,247.75 454.50,248.99 455.00,249.86 455.50,250.44 456.00,250.82 456.50,251.08 457.00,251.25 457.50,251.37 458.00,251.47 458.50,251.55 459.00,251.62 459.50,251.67 460.00,251.72 460.50,251.77 461.00,251.80 461.50,251.82 462.00,251.82 462.50,251.81 463.00,251.78 463.50,251.73 464.00,251.66 464.50,251.55 465.00,251.42 465.50,251.24 466.00,251.03 466.50,250.77 467.00,250.46 467.50,250.11 468.00,249.70 468.50,249.23 469.00,248.71 469.50,248.14 470.00,247.51 470.50,246.83 471.00,246.10 471.50,245.33 472.00,244.54 472.50,243.72 473.00,242.88 473.50,242.05 474.00,241.23 474.50,240.44 475.00,239.69 475.50,238.99 476.00,238.37 476.50,237.82 477.00,237.37 477.50,237.03 478.00,236.80 478.50,236.69 479.00,236.70 479.50,236.84 480.00,237.10 480.50,237.48 481.00,237.98 481.50,238.57 482.00,239.26 482.50,240.03 483.00,240.85 483.50,241.71 484.00,242.59 484.50,243.45 485.00,244.25 485.50,244.96 486.00,245.52 486.50,245.87 487.00,245.93 487.50,245.64 488.00,244.91 488.50,243.67 489.00,241.86 489.50,239.43 490.00,236.38 490.50,232.74 491.00,228.61 491.50,224.09 492.00,219.35 492.50,214.56 493.00,209.93 493.50,205.64 494.00,201.87 494.50,198.82 495.00,196.65 495.50,195.57 496.00,195.75 496.50,197.36 497.00,200.47 497.50,205.06 498.00,210.97 498.50,217.88 499.00,225.40 499.50,233.05 500.00,240.39 500.50,247.08 501.00,252.89 501.50,257.70 502.00,261.54 502.50,264.52 503.00,266.76 503.50,268.43 504.00,269.67 504.50,270.59 505.00,271.29 505.50,271.83 506.00,272.26 506.50,272.62 507.00,272.91 507.50,273.16 508.00,273.38 508.50,273.57 509.00,273.74 509.50,273.90 510.00,274.04 510.50,274.16 511.00,274.28 511.50,274.40 512.00,274.50 512.50,274.60 513.00,274.70 513.50,274.79 514.00,274.88 514.50,274.97 515.00,275.05 515.50,275.14 516.00,275.22 516.50,275.30 517.00,275.38 517.50,275.46 518.00,275.54 518.50,275.61" fill="none" stroke="#ff3c8c" stroke-width="1.0" stroke-linejoin="round" stroke-opacity="0.85"/>
<line x1="402.70" y1="289.00" x2="402.70" y2="287.00" stroke="#333" stroke-width="0.6" />
<line x1="416.00" y1="289.00" x2="416.00" y2="287.80" stroke="#333" stroke-width="0.6" />
<line x1="429.30" y1="289.00" x2="429.30" y2="287.00" stroke="#333" stroke-width="0.6" />
<line x1="442.60" y1="289.00" x2="442.60" y2="287.80" stroke="#333" stroke-width="0.6" />
<line x1="455.90" y1="289.00" x2="455.90" y2="287.00" stroke="#333" stroke-width="0.6" />
<line x1="469.20" y1="289.00" x2="469.20" y2="287.80" stroke="#333" stroke-width="0.6" />
<line x1="482.50" y1="289.00" x2="482.50" y2="287.00" stroke="#333" stroke-width="0.6" />
<line x1="495.80" y1="289.00" x2="495.80" y2="287.80" stroke="#333" stroke-width="0.6" />
<line x1="509.10" y1="289.00" x2="509.10" y2="287.00" stroke="#333" stroke-width="0.6" />
<line x1="522.40" y1="289.00" x2="522.40" y2="287.80" stroke="#333" stroke-width="0.6" />
<line x1="535.70" y1="289.00" x2="535.70" y2="287.00" stroke="#333" stroke-width="0.6" />
<text x="402.70" y="299.90" font-family="Liberation Sans" font-size="8.2" fill="#000" font-weight="bold" stroke="#000" stroke-width="0.22" text-anchor="middle" >890</text>
<text x="429.30" y="299.90" font-family="Liberation Sans" font-size="8.2" fill="#000" font-weight="bold" stroke="#000" stroke-width="0.22" text-anchor="middle" >880</text>
<text x="455.90" y="299.90" font-family="Liberation Sans" font-size="8.2" fill="#000" font-weight="bold" stroke="#000" stroke-width="0.22" text-anchor="middle" >870</text>
<text x="482.50" y="299.90" font-family="Liberation Sans" font-size="8.2" fill="#000" font-weight="bold" stroke="#000" stroke-width="0.22" text-anchor="middle" >860</text>
<text x="509.10" y="299.90" font-family="Liberation Sans" font-size="8.2" fill="#000" font-weight="bold" stroke="#000" stroke-width="0.22" text-anchor="middle" >850</text>
<text x="535.70" y="299.90" font-family="Liberation Sans" font-size="8.2" fill="#000" font-weight="bold" stroke="#000" stroke-width="0.22" text-anchor="middle" >840</text>
<text x="463.20" y="311.40" font-family="Liberation Sans" font-size="8.4" fill="#000" font-weight="bold" stroke="#000" stroke-width="0.22" text-anchor="middle" textLength="82.30" lengthAdjust="spacingAndGlyphs" >Binding energy / eV</text>
<text x="382.30" y="263.60" font-family="Liberation Sans" font-size="8.5" fill="#000" font-weight="bold" stroke="#000" stroke-width="0.22" textLength="58.60" lengthAdjust="spacingAndGlyphs" transform="rotate(-90 382.30 263.60)" >Intensity / a.u.</text>
<text x="393.70" y="191.30" font-family="Liberation Sans" font-size="8.43" fill="#000" font-weight="bold" stroke="#000" stroke-width="0.22" textLength="38.10" lengthAdjust="spacingAndGlyphs" >M-NCM88</text>
<text x="486.70" y="190.90" font-family="Liberation Sans" font-size="8.87" fill="#000" font-weight="bold" stroke="#000" stroke-width="0.22" textLength="30.60" lengthAdjust="spacingAndGlyphs" >Ni2p3/2</text>
<text x="430.60" y="213.10" font-family="Liberation Sans" font-size="8.87" fill="#000" font-weight="bold" stroke="#000" stroke-width="0.22" textLength="31.00" lengthAdjust="spacingAndGlyphs" >Ni2p1/2</text>
<text x="402.60" y="231.00" font-family="Liberation Sans" font-size="8.43" fill="#000" font-weight="bold" stroke="#000" stroke-width="0.22" textLength="32.80" lengthAdjust="spacingAndGlyphs" >Satellite</text>
<text x="454.80" y="236.40" font-family="Liberation Sans" font-size="8.87" fill="#000" font-weight="bold" stroke="#000" stroke-width="0.22" textLength="32.80" lengthAdjust="spacingAndGlyphs" >Satellite</text>
<rect x="544.60" y="180.00" width="147.70" height="108.00" fill="none" stroke="#333" stroke-width="0.8" />
<polyline points="555.10,242.20 555.60,242.28 556.10,242.37 556.60,242.45 557.10,242.53 557.60,242.61 558.10,242.70 558.60,242.78 559.10,242.86 559.60,242.94 560.10,243.03 560.60,243.11 561.10,243.19 561.60,243.27 562.10,243.36 562.60,243.44 563.10,243.52 563.60,243.60 564.10,243.69 564.60,243.77 565.10,243.85 565.60,243.93 566.10,244.02 566.60,244.10 567.10,244.18 567.60,244.26 568.10,244.35 568.60,244.43 569.10,244.51 569.60,244.59 570.10,244.68 570.60,244.76 571.10,244.84 571.60,244.92 572.10,245.01 572.60,245.09 573.10,245.17 573.60,245.25 574.10,245.34 574.60,245.42 575.10,245.50 575.60,245.58 576.10,245.67 576.60,245.75 577.10,245.83 577.60,245.91 578.10,246.00 578.60,246.08 579.10,246.16 579.60,246.24 580.10,246.33 580.60,246.41 581.10,246.49 581.60,246.57 582.10,246.66 582.60,246.74 583.10,246.82 583.60,246.90 584.10,246.99 584.60,247.07 585.10,247.15 585.60,247.23 586.10,247.32 586.60,247.40 587.10,247.48 587.60,247.56 588.10,247.65 588.60,247.73 589.10,247.81 589.60,247.89 590.10,247.98 590.60,248.06 591.10,248.14 591.60,248.22 592.10,248.31 592.60,248.39 593.10,248.47 593.60,248.55 594.10,248.64 594.60,248.72 595.10,248.80 595.60,248.88 596.10,248.97 596.60,249.05 597.10,249.13 597.60,249.21 598.10,249.30 598.60,249.38 599.10,249.46 599.60,249.54 600.10,249.63 600.60,249.71 601.10,249.79 601.60,249.87 602.10,249.96 602.60,250.04 603.10,250.12 603.60,250.20 604.10,250.29 604.60,250.37 605.10,250.45 605.60,250.53 606.10,250.62 606.60,250.70 607.10,250.78 607.60,250.86 608.10,250.95 608.60,251.03 609.10,251.11 609.60,251.19 610.10,251.28 610.60,251.36 611.10,251.44 611.60,251.52 612.10,251.61 612.60,251.69 613.10,251.77 613.60,251.85 614.10,251.94 614.60,252.02 615.10,252.10 615.60,252.18 616.10,252.27 616.60,252.35 617.10,252.43 617.60,252.51 618.10,252.60 618.60,252.68 619.10,252.76 619.60,252.84 620.10,252.93 620.60,253.01 621.10,253.09 621.60,253.17 622.10,253.26 622.60,253.34 623.10,253.42 623.60,253.50 624.10,253.59 624.60,253.67 625.10,253.75 625.60,253.83 626.10,253.92 626.60,254.00 627.10,254.08 627.60,254.16 628.10,254.25 628.60,254.33 629.10,254.41 629.60,254.49 630.10,254.58 630.60,254.66 631.10,254.74 631.60,254.83 632.10,254.91 632.60,254.99 633.10,255.07 633.60,255.16 634.10,255.24 634.60,255.32 635.10,255.41 635.60,255.49 636.10,255.58 636.60,255.66 637.10,255.75 637.60,255.83 638.10,255.92 638.60,256.00 639.10,256.09 639.60,256.18 640.10,256.27 640.60,256.36 641.10,256.45 641.60,256.55 642.10,256.64 642.60,256.74 643.10,256.84 643.60,256.95 644.10,257.05 644.60,257.17 645.10,257.28 645.60,257.41 646.10,257.54 646.60,257.68 647.10,257.83 647.60,257.99 648.10,258.17 648.60,258.36 649.10,258.57 649.60,258.80 650.10,259.05 650.60,259.33 651.10,259.63 651.60,259.98 652.10,260.35 652.60,260.77 653.10,261.23 653.60,261.73 654.10,262.28 654.60,262.88 655.10,263.52 655.60,264.21 656.10,264.93 656.60,265.69 657.10,266.48 657.60,267.28 658.10,268.09 658.60,268.90 659.10,269.70 659.60,270.47 660.10,271.22 660.60,271.93 661.10,272.60 661.60,273.22 662.10,273.80 662.60,274.33 663.10,274.82 663.60,275.26 664.10,275.66 664.60,276.02 665.10,276.35 665.60,276.65 666.10,276.91 666.60,277.16 667.10,277.38 667.60,277.58 668.10,277.76 668.60,277.93 669.10,278.09 669.60,278.23 670.10,278.37 670.60,278.50 671.10,278.62 671.60,278.74 672.10,278.85 672.60,278.95 673.10,279.06 673.60,279.16 674.10,279.25 674.60,279.35 675.10,279.44 675.60,279.53" fill="none" stroke="#a0522d" stroke-width="0.6" stroke-linejoin="round" />
<polyline points="560.10,242.93 560.60,242.99 561.10,243.05 561.60,243.10 562.10,243.15 562.60,243.20 563.10,243.23 563.60,243.26 564.10,243.28 564.60,243.29 565.10,243.29 565.60,243.28 566.10,243.26 566.60,243.22 567.10,243.17 567.60,243.09 568.10,243.01 568.60,242.90 569.10,242.77 569.60,242.62 570.10,242.45 570.60,242.26 571.10,242.05 571.60,241.81 572.10,241.54 572.60,241.26 573.10,240.95 573.60,240.62 574.10,240.27 574.60,239.90 575.10,239.51 575.60,239.11 576.10,238.70 576.60,238.27 577.10,237.85 577.60,237.42 578.10,236.99 578.60,236.57 579.10,236.16 579.60,235.77 580.10,235.40 580.60,235.05 581.10,234.73 581.60,234.44 582.10,234.19 582.60,233.98 583.10,233.82 583.60,233.70 584.10,233.64 584.60,233.62 585.10,233.65 585.60,233.74 586.10,233.88 586.60,234.07 587.10,234.32 587.60,234.61 588.10,234.95 588.60,235.33 589.10,235.75 589.60,236.21 590.10,236.70 590.60,237.22 591.10,237.76 591.60,238.32 592.10,238.90 592.60,239.48 593.10,240.08 593.60,240.67 594.10,241.26 594.60,241.85 595.10,242.43 595.60,242.99 596.10,243.54 596.60,244.07 597.10,244.58 597.60,245.07 598.10,245.54 598.60,245.99 599.10,246.41 599.60,246.81 600.10,247.19 600.60,247.54 601.10,247.87 601.60,248.18 602.10,248.47 602.60,248.73 603.10,248.98 603.60,249.22 604.10,249.43 604.60,249.63 605.10,249.82 605.60,249.99 606.10,250.16 606.60,250.31 607.10,250.45 607.60,250.59 608.10,250.71 608.60,250.83 609.10,250.95 609.60,251.06 610.10,251.16 610.60,251.27" fill="none" stroke="#a8a830" stroke-width="0.6" stroke-linejoin="round" />
<polyline points="615.60,252.08 616.10,252.13 616.60,252.18 617.10,252.22 617.60,252.25 618.10,252.27 618.60,252.27 619.10,252.27 619.60,252.24 620.10,252.20 620.60,252.13 621.10,252.04 621.60,251.93 622.10,251.78 622.60,251.61 623.10,251.40 623.60,251.15 624.10,250.87 624.60,250.55 625.10,250.20 625.60,249.80 626.10,249.37 626.60,248.90 627.10,248.40 627.60,247.87 628.10,247.32 628.60,246.74 629.10,246.16 629.60,245.56 630.10,244.97 630.60,244.39 631.10,243.83 631.60,243.29 632.10,242.80 632.60,242.35 633.10,241.95 633.60,241.61 634.10,241.35 634.60,241.16 635.10,241.05 635.60,241.02 636.10,241.08 636.60,241.22 637.10,241.45 637.60,241.76 638.10,242.16 638.60,242.62 639.10,243.15 639.60,243.74 640.10,244.39 640.60,245.07 641.10,245.79 641.60,246.54 642.10,247.31 642.60,248.08 643.10,248.86 643.60,249.63 644.10,250.38 644.60,251.12 645.10,251.84 645.60,252.54 646.10,253.20 646.60,253.84 647.10,254.46 647.60,255.04 648.10,255.60 648.60,256.14 649.10,256.66 649.60,257.17 650.10,257.67 650.60,258.16 651.10,258.66 651.60,259.16 652.10,259.68 652.60,260.21 653.10,260.77 653.60,261.36 654.10,261.98 654.60,262.64 655.10,263.33 655.60,264.05 656.10,264.81 656.60,265.60" fill="none" stroke="#a8a830" stroke-width="0.6" stroke-linejoin="round" />
<polyline points="646.10,257.48 646.60,257.56 647.10,257.60 647.60,257.56 648.10,257.40 648.60,257.06 649.10,256.49 649.60,255.65 650.10,254.50 650.60,253.10 651.10,251.53 651.60,249.96 652.10,248.60 652.60,247.67 653.10,247.36 653.60,247.79 654.10,248.97 654.60,250.81 655.10,253.14 655.60,255.72 656.10,258.34 656.60,260.83 657.10,263.07 657.60,265.02 658.10,266.66 658.60,268.04 659.10,269.21 659.60,270.21 660.10,271.08 660.60,271.86" fill="none" stroke="#2a2aff" stroke-width="0.7" stroke-linejoin="round" />
<polyline points="599.60,249.52 600.10,249.58 600.60,249.62 601.10,249.61 601.60,249.52 602.10,249.33 602.60,248.99 603.10,248.47 603.60,247.76 604.10,246.88 604.60,245.91 605.10,244.97 605.60,244.21 606.10,243.75 606.60,243.71 607.10,244.09 607.60,244.85 608.10,245.86 608.60,246.99 609.10,248.10 609.60,249.09 610.10,249.89 610.60,250.50 611.10,250.94 611.60,251.25 612.10,251.47 612.60,251.62 613.10,251.74" fill="none" stroke="#2a2aff" stroke-width="0.7" stroke-linejoin="round" />
<polyline points="639.10,255.98 639.60,255.99 640.10,255.95 640.60,255.85 641.10,255.66 641.60,255.33 642.10,254.83 642.60,254.09 643.10,253.06 643.60,251.67 644.10,249.87 644.60,247.59 645.10,244.82 645.60,241.54 646.10,237.81 646.60,233.70 647.10,229.34 647.60,224.92 648.10,220.64 648.60,216.75 649.10,213.47 649.60,211.04 650.10,209.62 650.60,209.33 651.10,210.21 651.60,212.22 652.10,215.26 652.60,219.16 653.10,223.70 653.60,228.66 654.10,233.79 654.60,238.90 655.10,243.79 655.60,248.34 656.10,252.47 656.60,256.12 657.10,259.29 657.60,262.01 658.10,264.31 658.60,266.25 659.10,267.88 659.60,269.26 660.10,270.43 660.60,271.42 661.10,272.28 661.60,273.03 662.10,273.68" fill="none" stroke="#f03030" stroke-width="0.8" stroke-linejoin="round" />
<polyline points="594.10,248.56 594.60,248.58 595.10,248.57 595.60,248.51 596.10,248.37 596.60,248.12 597.10,247.73 597.60,247.15 598.10,246.34 598.60,245.27 599.10,243.89 599.60,242.21 600.10,240.24 600.60,238.02 601.10,235.64 601.60,233.20 602.10,230.85 602.60,228.75 603.10,227.04 603.60,225.87 604.10,225.34 604.60,225.49 605.10,226.32 605.60,227.77 606.10,229.73 606.60,232.06 607.10,234.61 607.60,237.21 608.10,239.74 608.60,242.08 609.10,244.16 609.60,245.94 610.10,247.42 610.60,248.60 611.10,249.52 611.60,250.23 612.10,250.75 612.60,251.14 613.10,251.43 613.60,251.65 614.10,251.81 614.60,251.95" fill="none" stroke="#f03030" stroke-width="0.8" stroke-linejoin="round" />
<polyline points="555.10,242.91 555.60,241.77 556.10,241.99 556.60,242.76 557.10,242.67 557.60,242.04 558.10,241.82 558.60,242.07 559.10,242.60 559.60,243.39 560.10,243.85 560.60,243.86 561.10,243.96 561.60,244.09 562.10,244.11 562.60,244.21 563.10,243.80 563.60,242.94 564.10,242.67 564.60,242.94 565.10,243.26 565.60,243.24 566.10,243.27 566.60,243.47 567.10,243.07 567.60,242.55 568.10,242.54 568.60,242.78 569.10,242.92 569.60,242.73 570.10,242.23 570.60,241.79 571.10,241.63 571.60,241.33 572.10,241.06 572.60,240.92 573.10,240.72 573.60,240.78 574.10,240.36 574.60,239.63 575.10,239.34 575.60,238.96 576.10,238.60 576.60,238.53 577.10,238.45 577.60,238.18 578.10,237.33 578.60,236.39 579.10,235.94 579.60,235.31 580.10,234.76 580.60,234.81 581.10,234.95 581.60,234.77 582.10,234.41 582.60,234.30 583.10,233.81 583.60,233.37 584.10,233.54 584.60,233.52 585.10,233.32 585.60,232.97 586.10,233.30 586.60,234.02 587.10,233.82 587.60,233.72 588.10,234.10 588.60,234.85 589.10,236.20 589.60,237.09 590.10,237.12 590.60,237.42 591.10,238.17 591.60,238.34 592.10,238.57 592.60,239.40 593.10,239.86 593.60,240.16 594.10,240.76 594.60,241.27 595.10,241.80 595.60,242.76 596.10,243.46 596.60,243.11 597.10,242.69 597.60,242.58 598.10,242.04 598.60,241.70 599.10,241.30 599.60,240.10 600.10,238.53 600.60,236.31 601.10,233.53 601.60,231.18 602.10,229.59 602.60,227.90 603.10,225.89 603.60,224.57 604.10,223.76 604.60,222.90 605.10,222.64 605.60,223.28 606.10,224.22 606.60,225.28 607.10,227.81 607.60,231.59 608.10,234.78 608.60,237.37 609.10,240.23 609.60,243.27 610.10,246.22 610.60,248.27 611.10,249.08 611.60,250.04 612.10,251.29 612.60,252.19 613.10,253.17 613.60,254.04 614.10,254.34 614.60,254.29 615.10,254.00 615.60,254.13 616.10,254.84 616.60,255.12 617.10,255.30 617.60,255.94 618.10,256.33 618.60,256.33 619.10,256.56 619.60,256.24 620.10,255.24 620.60,255.15 621.10,255.62 621.60,255.58 622.10,254.90 622.60,253.85 623.10,253.57 623.60,253.51 624.10,252.83 624.60,252.38 625.10,251.76 625.60,250.32 626.10,249.57 626.60,249.68 627.10,248.98 627.60,248.11 628.10,247.67 628.60,246.66 629.10,245.61 629.60,244.93 630.10,244.32 630.60,244.23 631.10,244.12 631.60,243.72 632.10,243.08 632.60,241.90 633.10,241.09 633.60,241.06 634.10,241.06 634.60,240.96 635.10,241.10 635.60,241.22 636.10,241.41 636.60,241.87 637.10,242.27 637.60,242.23 638.10,241.90 638.60,242.49 639.10,243.46 639.60,243.57 640.10,243.73 640.60,244.21 641.10,244.79 641.60,245.60 642.10,245.57 642.60,245.23 643.10,245.31 643.60,244.40 644.10,242.86 644.60,241.67 645.10,239.74 645.60,236.31 646.10,232.43 646.60,228.70 647.10,224.89 647.60,220.97 648.10,216.93 648.60,212.73 649.10,208.05 649.60,204.04 650.10,201.29 650.60,199.23 651.10,198.35 651.60,198.79 652.10,200.78 652.60,204.61 653.10,209.21 653.60,214.16 654.10,219.98 654.60,226.60 655.10,233.53 655.60,239.59 656.10,245.19 656.60,250.80 657.10,255.14 657.60,258.50 658.10,262.04 658.60,265.48 659.10,267.64 659.60,268.89 660.10,270.32 660.60,271.33 661.10,271.95 661.60,273.10 662.10,274.29 662.60,274.63 663.10,274.54 663.60,275.05 664.10,275.90 664.60,276.34 665.10,276.48 665.60,276.99 666.10,277.39 666.60,277.22 667.10,277.53 667.60,277.77 668.10,277.72 668.60,278.10 669.10,278.12 669.60,277.94 670.10,278.27 670.60,278.75 671.10,278.99 671.60,278.81 672.10,278.75 672.60,279.36 673.10,279.78 673.60,279.40 674.10,278.88 674.60,278.86 675.10,278.98 675.60,278.49" fill="none" stroke="#222" stroke-width="0.7" stroke-linejoin="round" />
<polyline points="555.10,242.19 555.60,242.27 556.10,242.35 556.60,242.43 557.10,242.50 557.60,242.58 558.10,242.65 558.60,242.73 559.10,242.80 559.60,242.86 560.10,242.93 560.60,242.99 561.10,243.05 561.60,243.10 562.10,243.15 562.60,243.20 563.10,243.23 563.60,243.26 564.10,243.28 564.60,243.29 565.10,243.29 565.60,243.28 566.10,243.26 566.60,243.22 567.10,243.17 567.60,243.09 568.10,243.01 568.60,242.90 569.10,242.77 569.60,242.62 570.10,242.45 570.60,242.26 571.10,242.05 571.60,241.81 572.10,241.54 572.60,241.26 573.10,240.95 573.60,240.62 574.10,240.27 574.60,239.90 575.10,239.51 575.60,239.11 576.10,238.70 576.60,238.27 577.10,237.85 577.60,237.42 578.10,236.99 578.60,236.57 579.10,236.16 579.60,235.77 580.10,235.40 580.60,235.05 581.10,234.73 581.60,234.44 582.10,234.19 582.60,233.98 583.10,233.82 583.60,233.70 584.10,233.64 584.60,233.62 585.10,233.65 585.60,233.74 586.10,233.88 586.60,234.07 587.10,234.32 587.60,234.61 588.10,234.95 588.60,235.33 589.10,235.75 589.60,236.21 590.10,236.70 590.60,237.22 591.10,237.76 591.60,238.32 592.10,238.89 592.60,239.47 593.10,240.05 593.60,240.63 594.10,241.19 594.60,241.71 595.10,242.20 595.60,242.62 596.10,242.94 596.60,243.14 597.10,243.18 597.60,243.01 598.10,242.59 598.60,241.87 599.10,240.84 599.60,239.46 600.10,237.76 600.60,235.76 601.10,233.53 601.60,231.16 602.10,228.74 602.60,226.40 603.10,224.26 603.60,222.44 604.10,221.08 604.60,220.30 605.10,220.21 605.60,220.91 606.10,222.41 606.60,224.68 607.10,227.59 607.60,230.91 608.10,234.42 608.60,237.85 609.10,240.99 609.60,243.70 610.10,245.92 610.60,247.65 611.10,248.94 611.60,249.88 612.10,250.55 612.60,251.01 613.10,251.34 613.60,251.57 614.10,251.74 614.60,251.87 615.10,251.97 615.60,252.05 616.10,252.11 616.60,252.17 617.10,252.21 617.60,252.24 618.10,252.26 618.60,252.27 619.10,252.26 619.60,252.24 620.10,252.20 620.60,252.13 621.10,252.04 621.60,251.93 622.10,251.78 622.60,251.61 623.10,251.40 623.60,251.15 624.10,250.87 624.60,250.55 625.10,250.20 625.60,249.80 626.10,249.37 626.60,248.90 627.10,248.40 627.60,247.87 628.10,247.32 628.60,246.74 629.10,246.16 629.60,245.56 630.10,244.97 630.60,244.39 631.10,243.83 631.60,243.29 632.10,242.80 632.60,242.35 633.10,241.95 633.60,241.61 634.10,241.35 634.60,241.16 635.10,241.05 635.60,241.02 636.10,241.08 636.60,241.22 637.10,241.44 637.60,241.74 638.10,242.12 638.60,242.55 639.10,243.04 639.60,243.55 640.10,244.07 640.60,244.57 641.10,245.00 641.60,245.33 642.10,245.49 642.60,245.43 643.10,245.08 643.60,244.35 644.10,243.19 644.60,241.54 645.10,239.36 645.60,236.64 646.10,233.41 646.60,229.74 647.10,225.73 647.60,221.53 648.10,217.31 648.60,213.24 649.10,209.50 649.60,206.27 650.10,203.69 650.60,201.93 651.10,201.12 651.60,201.39 652.10,202.83 652.60,205.50 653.10,209.38 653.60,214.34 654.10,220.18 654.60,226.59 655.10,233.21 655.60,239.70 656.10,245.75 656.60,251.16 657.10,255.81 657.60,259.69 658.10,262.84 658.60,265.36 659.10,267.37 659.60,268.98 660.10,270.27 660.60,271.34 661.10,272.24 661.60,273.01 662.10,273.67 662.60,274.26 663.10,274.78 663.60,275.24 664.10,275.65 664.60,276.01 665.10,276.35 665.60,276.64 666.10,276.91 666.60,277.15 667.10,277.38 667.60,277.58 668.10,277.76 668.60,277.93 669.10,278.09 669.60,278.23 670.10,278.37 670.60,278.50 671.10,278.62 671.60,278.74 672.10,278.85 672.60,278.95 673.10,279.06 673.60,279.16 674.10,279.25 674.60,279.35 675.10,279.44 675.60,279.53" fill="none" stroke="#ff3c8c" stroke-width="1.0" stroke-linejoin="round" stroke-opacity="0.85"/>
<line x1="558.30" y1="288.00" x2="558.30" y2="286.00" stroke="#333" stroke-width="0.6" />
<line x1="571.70" y1="288.00" x2="571.70" y2="286.80" stroke="#333" stroke-width="0.6" />
<line x1="585.10" y1="288.00" x2="585.10" y2="286.00" stroke="#333" stroke-width="0.6" />
<line x1="598.50" y1="288.00" x2="598.50" y2="286.80" stroke="#333" stroke-width="0.6" />
<line x1="611.90" y1="288.00" x2="611.90" y2="286.00" stroke="#333" stroke-width="0.6" />
<line x1="625.30" y1="288.00" x2="625.30" y2="286.80" stroke="#333" stroke-width="0.6" />
<line x1="638.70" y1="288.00" x2="638.70" y2="286.00" stroke="#333" stroke-width="0.6" />
<line x1="652.10" y1="288.00" x2="652.10" y2="286.80" stroke="#333" stroke-width="0.6" />
<line x1="665.50" y1="288.00" x2="665.50" y2="286.00" stroke="#333" stroke-width="0.6" />
<line x1="678.90" y1="288.00" x2="678.90" y2="286.80" stroke="#333" stroke-width="0.6" />
<line x1="692.30" y1="288.00" x2="692.30" y2="286.00" stroke="#333" stroke-width="0.6" />
<text x="558.30" y="299.90" font-family="Liberation Sans" font-size="8.2" fill="#000" font-weight="bold" stroke="#000" stroke-width="0.22" text-anchor="middle" >890</text>
<text x="585.10" y="299.90" font-family="Liberation Sans" font-size="8.2" fill="#000" font-weight="bold" stroke="#000" stroke-width="0.22" text-anchor="middle" >880</text>
<text x="611.90" y="299.90" font-family="Liberation Sans" font-size="8.2" fill="#000" font-weight="bold" stroke="#000" stroke-width="0.22" text-anchor="middle" >870</text>
<text x="638.70" y="299.90" font-family="Liberation Sans" font-size="8.2" fill="#000" font-weight="bold" stroke="#000" stroke-width="0.22" text-anchor="middle" >860</text>
<text x="665.50" y="299.90" font-family="Liberation Sans" font-size="8.2" fill="#000" font-weight="bold" stroke="#000" stroke-width="0.22" text-anchor="middle" >850</text>
<text x="692.30" y="299.90" font-family="Liberation Sans" font-size="8.2" fill="#000" font-weight="bold" stroke="#000" stroke-width="0.22" text-anchor="middle" >840</text>
<text x="620.00" y="311.40" font-family="Liberation Sans" font-size="8.4" fill="#000" font-weight="bold" stroke="#000" stroke-width="0.22" text-anchor="middle" textLength="82.30" lengthAdjust="spacingAndGlyphs" >Binding energy / eV</text>
<text x="553.00" y="192.30" font-family="Liberation Sans" font-size="8.87" fill="#000" font-weight="bold" stroke="#000" stroke-width="0.22" textLength="38.00" lengthAdjust="spacingAndGlyphs" >B-NCM88</text>
<text x="637.40" y="194.00" font-family="Liberation Sans" font-size="9.3" fill="#000" font-weight="bold" stroke="#000" stroke-width="0.22" textLength="31.00" lengthAdjust="spacingAndGlyphs" >Ni2p3/2</text>
<text x="562.60" y="229.40" font-family="Liberation Sans" font-size="8.43" fill="#000" font-weight="bold" stroke="#000" stroke-width="0.22" textLength="33.20" lengthAdjust="spacingAndGlyphs" >Satellite</text>
<text x="612.70" y="243.00" font-family="Liberation Sans" font-size="8.87" fill="#000" font-weight="bold" stroke="#000" stroke-width="0.22" textLength="33.00" lengthAdjust="spacingAndGlyphs" >Satellite</text>
<text x="585.30" y="270.80" font-family="Liberation Sans" font-size="9.16" fill="#000" font-weight="bold" stroke="#000" stroke-width="0.22" textLength="30.20" lengthAdjust="spacingAndGlyphs" >Ni2p1/2</text>
<text x="0.60" y="319.00" font-family="Liberation Serif" font-size="10.5" fill="#000" font-weight="bold" >(G)</text>
<defs>
<clipPath id="clG1"><rect x="13.1" y="321.6" width="98.5" height="100.3"/></clipPath>
<clipPath id="clG2"><rect x="111.6" y="321.6" width="102.3" height="100.3"/></clipPath>
<filter id="gNoise" x="0" y="0" width="1" height="1" color-interpolation-filters="sRGB">
 <feTurbulence type="fractalNoise" baseFrequency="0.25" numOctaves="3" seed="4" result="n"/>
 <feColorMatrix in="n" type="matrix" values="0 0 0 0 0.5  0 0 0 0 0.5  0 0 0 0 0.5  1.4 0 0 0 -0.7" result="nn"/>
 <feComposite in="nn" in2="SourceGraphic" operator="in" result="nc"/>
 <feBlend in="nc" in2="SourceGraphic" mode="overlay"/>
</filter>
<linearGradient id="gMid" x1="0" y1="0" x2="0" y2="1">
 <stop offset="0" stop-color="#dedede"/><stop offset="0.6" stop-color="#e8e8e8"/><stop offset="0.85" stop-color="#f4f4f4"/><stop offset="1" stop-color="#dcdcdc"/>
</linearGradient>
<linearGradient id="gRight" x1="0" y1="0" x2="1" y2="1">
 <stop offset="0" stop-color="#d8d8d8"/><stop offset="1" stop-color="#cacaca"/>
</linearGradient>
<pattern id="vstripe" patternUnits="userSpaceOnUse" width="3" height="10">
 <rect width="3" height="10" fill="#000" fill-opacity="0"/><rect width="1.2" height="10" fill="#000" fill-opacity="0.07"/>
</pattern>
</defs>
<g clip-path="url(#clG1)"><g filter="url(#gNoise)">
<rect x="13.10" y="321.60" width="98.50" height="100.30" fill="#2c2c2c" />
<polygon points="13.1,321.6 111.6,321.6 111.6,362.0 107.0,367.0 100.0,374.0 90.0,381.0 80.0,384.0 74.9,384.1 70.0,386.0 66.0,390.0 60.0,393.0 54.0,394.0 42.0,393.5 32.0,390.0 26.0,387.0 13.1,386.5" fill="#cfcfcf"/>
<polygon points="13.1,321.6 42.0,321.6 37.6,340.0 13.1,346.0" fill="#e0e0e0"/>
<polygon points="42.0,321.6 68.7,321.6 66.9,352.0 48.6,353.0 37.6,340.0" fill="#dadada"/>
<polygon points="13.1,346.0 37.6,340.0 48.6,353.0 26.6,376.7 18.0,385.0 13.1,386.0" fill="#d0d0d0"/>
<polygon points="68.7,321.6 111.6,321.6 111.6,362.0 107.0,367.0 100.0,374.0 90.0,381.0 80.0,384.0 74.9,384.1 71.0,370.0 66.9,352.0" fill="url(#gRight)"/>
<polygon points="48.6,353.0 66.9,352.0 71.0,370.0 74.9,384.1 70.0,386.0 66.0,390.0 60.0,393.0 54.0,394.0 42.0,393.5 32.0,390.0 26.0,387.0 22.0,383.0 26.6,376.7" fill="url(#gMid)"/>
<polygon points="13.1,378.0 26.6,376.7 22.0,383.0 26.0,387.0 13.1,386.5" fill="#c4c4c4"/>
<polyline points="13.10,346.00 37.60,340.00 48.60,353.00" fill="none" stroke="#8a8a8a" stroke-width="0.6" stroke-linejoin="round" />
<polyline points="37.60,340.00 42.00,321.60" fill="none" stroke="#8a8a8a" stroke-width="0.6" stroke-linejoin="round" />
<polyline points="48.60,353.00 26.60,376.70 18.00,385.00" fill="none" stroke="#8a8a8a" stroke-width="0.6" stroke-linejoin="round" />
<polyline points="48.60,353.00 66.90,352.00 68.70,321.60" fill="none" stroke="#8a8a8a" stroke-width="0.6" stroke-linejoin="round" />
<polyline points="66.90,352.00 71.00,370.00 74.90,384.10" fill="none" stroke="#8a8a8a" stroke-width="0.6" stroke-linejoin="round" />
<polyline points="13.10,366.00 30.00,352.00" fill="none" stroke="#8a8a8a" stroke-width="0.6" stroke-linejoin="round" />
<polygon points="13.1,414.0 24.0,413.0 36.0,416.0 40.0,421.9 13.1,421.9" fill="#9a9a9a"/>
<ellipse cx="40" cy="405" rx="12" ry="6" fill="#242424"/>
<ellipse cx="80" cy="396" rx="10" ry="4" fill="#343434"/>
<ellipse cx="100" cy="392" rx="8" ry="6" fill="#262626"/>
<ellipse cx="25" cy="400" rx="8" ry="5" fill="#343434"/>
<ellipse cx="95" cy="414" rx="14" ry="5" fill="#242424"/>
</g></g>
<line x1="43.00" y1="392.60" x2="46.30" y2="381.00" stroke="#000" stroke-width="0.7" />
<path d="M46.7,379.2 l-1.6,3.2 l2.7,0.7 z" fill="#000"/>
<text x="32.00" y="338.50" font-family="Liberation Sans" font-size="13.81" fill="#000" font-weight="bold" stroke="#000" stroke-width="0.22" textLength="58.00" lengthAdjust="spacingAndGlyphs" >B-NCM88</text>
<text x="58.10" y="410.20" font-family="Liberation Sans" font-size="13.66" fill="#fff" font-weight="bold" stroke="#fff" stroke-width="0.22" textLength="45.00" lengthAdjust="spacingAndGlyphs" >500 nm</text>
<line x1="67.40" y1="414.20" x2="93.00" y2="414.20" stroke="#fff" stroke-width="1.5" />
<g clip-path="url(#clG2)"><g filter="url(#gNoise)">
<rect x="111.60" y="321.60" width="102.30" height="100.30" fill="#0c0c0c" />
<polygon points="115.3,321.7 132.5,321.7 132.5,360.9 115.3,352.3" fill="#4a4a4a"/>
<polygon points="119.8,321.7 125.1,321.7 125.6,344.9 120.2,344.9" fill="#8a8a8a"/>
<polygon points="132.5,321.7 216.0,321.7 216.0,391.5 206.0,392.0 191.3,390.5 181.5,391.5 169.2,389.5 157.0,391.5 144.7,391.0 134.9,390.3 132.5,376.8 133.7,362.1 132.5,354.7" fill="#bcbcbc"/>
<polygon points="132.5,321.7 216.0,321.7 216.0,342.5 201.1,341.3 183.9,349.8 166.8,346.2 153.3,342.5 134.9,343.7" fill="#cfcfcf"/>
<polygon points="153.3,321.7 188.8,321.7 183.9,349.8 166.8,346.2 153.3,342.5" fill="#d8d8d8"/>
<polygon points="132.5,364.5 157.0,363.3 181.5,365.8 201.1,354.7 216.0,351.1 216.0,391.5 206.0,392.0 191.3,390.5 181.5,391.5 169.2,389.5 157.0,391.5 144.7,391.0 134.9,390.3 132.5,376.8" fill="#a2a2a2"/>
<polygon points="132.5,364.5 216.0,351.1 216.0,391.5 132.5,391.5" fill="url(#vstripe)"/>
<polygon points="164.3,379.2 181.5,378.0 188.8,384.1 181.5,391.0 169.2,389.5 163.8,386.6" fill="#b0b0b0"/>
<polyline points="134.94,389.76 144.74,390.50 156.98,390.99 169.23,389.03 181.48,390.99 191.27,390.01 205.97,391.48 216.01,390.99" fill="none" stroke="#dcdcdc" stroke-width="1.6" stroke-linejoin="round" />
<polyline points="115.35,352.29 122.70,354.74 128.82,357.19 132.49,360.86" fill="none" stroke="#d0d0d0" stroke-width="1.4" stroke-linejoin="round" />
<polyline points="134.94,343.72 153.31,342.49 166.78,346.17 183.92,349.84 201.07,341.27 216.01,342.49" fill="none" stroke="#5a5a5a" stroke-width="0.75" stroke-linejoin="round" />
<polyline points="148.41,352.29 156.98,362.09 181.48,365.76 201.07,354.74 216.01,351.06" fill="none" stroke="#5a5a5a" stroke-width="0.75" stroke-linejoin="round" />
<polyline points="133.72,363.31 156.98,362.82" fill="none" stroke="#5a5a5a" stroke-width="0.75" stroke-linejoin="round" />
<polyline points="153.31,342.49 148.41,352.29 139.84,363.31" fill="none" stroke="#5a5a5a" stroke-width="0.75" stroke-linejoin="round" />
<polyline points="166.78,346.17 160.66,361.60" fill="none" stroke="#5a5a5a" stroke-width="0.75" stroke-linejoin="round" />
<polyline points="183.92,349.84 181.48,365.76" fill="none" stroke="#5a5a5a" stroke-width="0.75" stroke-linejoin="round" />
<polyline points="201.07,341.27 205.97,332.70 216.01,331.47" fill="none" stroke="#5a5a5a" stroke-width="0.75" stroke-linejoin="round" />
<polyline points="181.48,365.76 185.15,376.78 193.72,380.45 216.01,376.78" fill="none" stroke="#5a5a5a" stroke-width="0.75" stroke-linejoin="round" />
<polyline points="164.33,363.31 163.11,376.78 166.78,384.13" fill="none" stroke="#5a5a5a" stroke-width="0.75" stroke-linejoin="round" />
<polyline points="188.82,322.90 183.92,349.84" fill="none" stroke="#5a5a5a" stroke-width="0.75" stroke-linejoin="round" />
<polyline points="152.09,322.90 153.31,342.49" fill="none" stroke="#5a5a5a" stroke-width="0.75" stroke-linejoin="round" />
<line x1="112.30" y1="321.60" x2="112.30" y2="421.90" stroke="#222" stroke-width="0.8" />
<line x1="114.40" y1="321.60" x2="114.40" y2="421.90" stroke="#8a8a8a" stroke-width="0.7" />
</g></g>
<line x1="150.90" y1="378.00" x2="154.10" y2="367.50" stroke="#000" stroke-width="0.7" />
<path d="M154.5,365.8 l-1.5,3.2 l2.7,0.7 z" fill="#000"/>
<text x="142.10" y="337.60" font-family="Liberation Sans" font-size="13.81" fill="#000" font-weight="bold" stroke="#000" stroke-width="0.22" textLength="59.60" lengthAdjust="spacingAndGlyphs" >M-NCM88</text>
<text x="169.10" y="411.70" font-family="Liberation Sans" font-size="13.37" fill="#fff" font-weight="bold" stroke="#fff" stroke-width="0.22" textLength="44.20" lengthAdjust="spacingAndGlyphs" >500 nm</text>
<line x1="182.80" y1="415.40" x2="207.50" y2="415.40" stroke="#fff" stroke-width="1.5" />
<text x="219.70" y="321.70" font-family="Liberation Serif" font-size="10.5" fill="#000" font-weight="bold" >(H)</text>
<rect x="235.60" y="324.20" width="127.70" height="93.80" fill="none" stroke="#333" stroke-width="0.8" />
<defs><clipPath id="clH"><rect x="235.6" y="324.2" width="127.70000000000002" height="93.80000000000001"/></clipPath></defs>
<polyline points="235.72,365.05 236.52,353.60 237.66,347.31 238.58,351.32 239.38,364.47 240.52,330.72 241.44,338.73 242.24,347.88 243.15,365.05 244.30,351.32 245.10,361.61 246.36,363.90 247.73,370.77 248.87,361.61 250.02,362.76 251.39,371.34 252.88,366.76 254.59,365.05 255.74,364.47 256.88,343.31 258.03,350.17 259.17,360.47 260.54,357.04 262.03,344.45 263.18,340.45 264.32,368.48 265.46,361.61 267.18,358.18 268.32,357.04 269.70,359.32 270.84,368.48 272.90,363.90 274.62,357.04 276.33,359.32 277.71,360.47 279.19,355.89 280.34,371.34 281.83,357.04 283.20,355.32 284.92,362.76 286.63,361.61 287.78,359.32 288.69,353.60 290.06,349.60 291.44,349.03 292.58,351.32 293.73,371.91 295.21,365.05 296.70,348.46 297.84,352.46 298.00,361.59 299.37,362.16 300.86,362.73 302.35,372.46 304.29,360.45 305.78,373.03 307.15,363.31 308.53,362.16 310.01,373.03 311.73,372.46 313.79,359.87 314.93,375.89 315.96,355.87 316.88,358.73 317.68,387.33 318.59,343.86 319.51,371.32 320.88,375.89 322.03,369.60 323.40,373.03 324.89,367.31 326.03,358.73 327.52,381.61 328.89,373.03 330.61,371.32 332.10,369.60 333.47,377.04 334.84,385.05 336.90,371.32 338.62,355.30 340.11,357.59 341.25,353.58 342.85,363.88 343.77,377.04 344.91,362.16 346.05,365.02 347.43,363.88 348.92,372.46 350.63,374.75 351.78,366.74 353.49,355.87 354.86,349.00 355.78,363.31 356.58,381.61 357.73,367.88 358.87,361.59 360.36,371.32" fill="none" stroke="#2a2a2a" stroke-width="0.7" stroke-linejoin="round" clip-path="url(#clH)"/>
<polyline points="235.72,394.03 238.35,405.47 241.44,396.89 244.87,388.88 247.73,390.59 250.59,400.66 253.45,397.46 256.31,395.74 259.74,400.66 263.18,394.26 266.04,396.32 269.47,398.83 272.90,395.74 275.19,397.46 278.05,402.27 280.91,402.61 284.11,392.31 287.20,404.90 290.06,392.88 292.92,379.73 296.36,402.27 299.22,383.73 302.58,391.74 305.78,387.73 308.87,389.45 311.73,395.74 314.59,392.88 317.45,389.22 320.31,391.74 323.40,388.88 327.18,399.18 329.46,399.18 332.32,396.09 335.53,402.61 338.62,394.03 341.48,395.74 344.68,405.47 347.77,387.73 350.63,383.16 353.84,392.31 356.92,394.03 359.78,395.74 362.65,401.46" fill="none" stroke="#ff2a2a" stroke-width="0.7" stroke-linejoin="round" clip-path="url(#clH)"/>
<line x1="235.60" y1="418.00" x2="235.60" y2="416.00" stroke="#333" stroke-width="0.6" />
<line x1="250.11" y1="418.00" x2="250.11" y2="416.80" stroke="#333" stroke-width="0.6" />
<line x1="264.62" y1="418.00" x2="264.62" y2="416.00" stroke="#333" stroke-width="0.6" />
<line x1="279.14" y1="418.00" x2="279.14" y2="416.80" stroke="#333" stroke-width="0.6" />
<line x1="293.65" y1="418.00" x2="293.65" y2="416.00" stroke="#333" stroke-width="0.6" />
<line x1="308.16" y1="418.00" x2="308.16" y2="416.80" stroke="#333" stroke-width="0.6" />
<line x1="322.68" y1="418.00" x2="322.68" y2="416.00" stroke="#333" stroke-width="0.6" />
<line x1="337.19" y1="418.00" x2="337.19" y2="416.80" stroke="#333" stroke-width="0.6" />
<line x1="351.70" y1="418.00" x2="351.70" y2="416.00" stroke="#333" stroke-width="0.6" />
<line x1="235.60" y1="418.00" x2="237.60" y2="418.00" stroke="#333" stroke-width="0.6" />
<line x1="235.60" y1="409.87" x2="236.80" y2="409.87" stroke="#333" stroke-width="0.6" />
<line x1="235.60" y1="401.74" x2="237.60" y2="401.74" stroke="#333" stroke-width="0.6" />
<line x1="235.60" y1="393.61" x2="236.80" y2="393.61" stroke="#333" stroke-width="0.6" />
<line x1="235.60" y1="385.48" x2="237.60" y2="385.48" stroke="#333" stroke-width="0.6" />
<line x1="235.60" y1="377.35" x2="236.80" y2="377.35" stroke="#333" stroke-width="0.6" />
<line x1="235.60" y1="369.22" x2="237.60" y2="369.22" stroke="#333" stroke-width="0.6" />
<line x1="235.60" y1="361.09" x2="236.80" y2="361.09" stroke="#333" stroke-width="0.6" />
<line x1="235.60" y1="352.96" x2="237.60" y2="352.96" stroke="#333" stroke-width="0.6" />
<line x1="235.60" y1="344.83" x2="236.80" y2="344.83" stroke="#333" stroke-width="0.6" />
<line x1="235.60" y1="336.70" x2="237.60" y2="336.70" stroke="#333" stroke-width="0.6" />
<line x1="235.60" y1="328.57" x2="236.80" y2="328.57" stroke="#333" stroke-width="0.6" />
<text x="235.60" y="426.70" font-family="Liberation Sans" font-size="8.0" fill="#000" font-weight="bold" stroke="#000" stroke-width="0.22" text-anchor="middle" >0</text>
<text x="264.62" y="426.70" font-family="Liberation Sans" font-size="8.0" fill="#000" font-weight="bold" stroke="#000" stroke-width="0.22" text-anchor="middle" >50</text>
<text x="293.65" y="426.70" font-family="Liberation Sans" font-size="8.0" fill="#000" font-weight="bold" stroke="#000" stroke-width="0.22" text-anchor="middle" >100</text>
<text x="322.68" y="426.70" font-family="Liberation Sans" font-size="8.0" fill="#000" font-weight="bold" stroke="#000" stroke-width="0.22" text-anchor="middle" >150</text>
<text x="351.70" y="426.70" font-family="Liberation Sans" font-size="8.0" fill="#000" font-weight="bold" stroke="#000" stroke-width="0.22" text-anchor="middle" >200</text>
<text x="233.30" y="420.80" font-family="Liberation Sans" font-size="8.0" fill="#000" font-weight="bold" stroke="#000" stroke-width="0.22" text-anchor="end" >0</text>
<text x="233.30" y="404.54" font-family="Liberation Sans" font-size="8.0" fill="#000" font-weight="bold" stroke="#000" stroke-width="0.22" text-anchor="end" >10</text>
<text x="233.30" y="388.28" font-family="Liberation Sans" font-size="8.0" fill="#000" font-weight="bold" stroke="#000" stroke-width="0.22" text-anchor="end" >20</text>
<text x="233.30" y="372.02" font-family="Liberation Sans" font-size="8.0" fill="#000" font-weight="bold" stroke="#000" stroke-width="0.22" text-anchor="end" >30</text>
<text x="233.30" y="355.76" font-family="Liberation Sans" font-size="8.0" fill="#000" font-weight="bold" stroke="#000" stroke-width="0.22" text-anchor="end" >40</text>
<text x="233.30" y="339.50" font-family="Liberation Sans" font-size="8.0" fill="#000" font-weight="bold" stroke="#000" stroke-width="0.22" text-anchor="end" >50</text>
<text x="294.20" y="436.20" font-family="Liberation Sans" font-size="8.0" fill="#000" font-weight="bold" stroke="#000" stroke-width="0.22" text-anchor="middle" textLength="46.40" lengthAdjust="spacingAndGlyphs" >Position / nm</text>
<text x="222.60" y="387.50" font-family="Liberation Sans" font-size="7.7" fill="#000" font-weight="bold" stroke="#000" stroke-width="0.22" textLength="40.00" lengthAdjust="spacingAndGlyphs" transform="rotate(-90 222.60 387.50)" >Counts / %</text>
<text x="284.90" y="342.30" font-family="Liberation Sans" font-size="8.58" fill="#000" font-weight="bold" stroke="#000" stroke-width="0.22" textLength="39.20" lengthAdjust="spacingAndGlyphs" >M-NCM88</text>
<text x="284.90" y="413.80" font-family="Liberation Sans" font-size="9.01" fill="#000" font-weight="bold" stroke="#000" stroke-width="0.22" textLength="37.80" lengthAdjust="spacingAndGlyphs" >B-NCM88</text>
<text x="362.70" y="322.00" font-family="Liberation Serif" font-size="10.5" fill="#000" font-weight="bold" >(I)</text>
<defs>
<filter id="nPM" x="0" y="0" width="1" height="1" color-interpolation-filters="sRGB">
 <feTurbulence type="fractalNoise" baseFrequency="0.26" numOctaves="2" seed="12"/>
 <feColorMatrix type="matrix" values="0.6 0.4 0 0 0  0.6 0.4 0 0 0  0.6 0.4 0 0 0  0 0 0 0 1"/>
 <feComponentTransfer>
  <feFuncR type="linear" slope="0.95" intercept="-0.27"/>
  <feFuncG type="linear" slope="0.95" intercept="-0.27"/>
  <feFuncB type="linear" slope="0.95" intercept="-0.27"/>
 </feComponentTransfer>
 <feComposite in2="SourceGraphic" operator="in"/>
</filter>
<filter id="nLight" x="0" y="0" width="1" height="1" color-interpolation-filters="sRGB">
 <feTurbulence type="fractalNoise" baseFrequency="0.3" numOctaves="2" seed="5"/>
 <feColorMatrix type="matrix" values="0.6 0.4 0 0 0  0.6 0.4 0 0 0  0.6 0.4 0 0 0  0 0 0 0 1"/>
 <feComponentTransfer>
  <feFuncR type="linear" slope="0.5" intercept="0.54"/>
  <feFuncG type="linear" slope="0.5" intercept="0.54"/>
  <feFuncB type="linear" slope="0.5" intercept="0.54"/>
 </feComponentTransfer>
 <feComposite in2="SourceGraphic" operator="in"/>
</filter>
<filter id="nC1" x="0" y="0" width="1" height="1" color-interpolation-filters="sRGB">
 <feTurbulence type="fractalNoise" baseFrequency="0.3" numOctaves="2" seed="8"/>
 <feColorMatrix type="matrix" values="0.6 0.4 0 0 0  0.6 0.4 0 0 0  0.6 0.4 0 0 0  0 0 0 0 1"/>
 <feComponentTransfer>
  <feFuncR type="linear" slope="0.7" intercept="0.03"/>
  <feFuncG type="linear" slope="0.7" intercept="0.03"/>
  <feFuncB type="linear" slope="0.7" intercept="0.03"/>
 </feComponentTransfer>
 <feComposite in2="SourceGraphic" operator="in"/>
</filter>
<filter id="nC2" x="0" y="0" width="1" height="1" color-interpolation-filters="sRGB">
 <feTurbulence type="fractalNoise" baseFrequency="0.3" numOctaves="2" seed="9"/>
 <feColorMatrix type="matrix" values="0.6 0.4 0 0 0  0.6 0.4 0 0 0  0.6 0.4 0 0 0  0 0 0 0 1"/>
 <feComponentTransfer>
  <feFuncR type="linear" slope="0.6" intercept="-0.02"/>
  <feFuncG type="linear" slope="0.6" intercept="-0.02"/>
  <feFuncB type="linear" slope="0.6" intercept="-0.02"/>
 </feComponentTransfer>
 <feComposite in2="SourceGraphic" operator="in"/>
</filter>
<filter id="nRMtop" x="0" y="0" width="1" height="1" color-interpolation-filters="sRGB">
 <feTurbulence type="fractalNoise" baseFrequency="0.35" numOctaves="2" seed="15"/>
 <feColorMatrix type="matrix" values="0.6 0.4 0 0 0  0.6 0.4 0 0 0  0.6 0.4 0 0 0  0 0 0 0 1"/>
 <feComponentTransfer>
  <feFuncR type="linear" slope="0.6" intercept="0.34"/>
  <feFuncG type="linear" slope="0.6" intercept="0.34"/>
  <feFuncB type="linear" slope="0.6" intercept="0.34"/>
 </feComponentTransfer>
 <feComposite in2="SourceGraphic" operator="in"/>
</filter>
<filter id="nRMbot" x="0" y="0" width="1" height="1" color-interpolation-filters="sRGB">
 <feTurbulence type="fractalNoise" baseFrequency="0.15" numOctaves="3" seed="21"/>
 <feColorMatrix type="matrix" values="0.6 0.4 0 0 0  0.6 0.4 0 0 0  0.6 0.4 0 0 0  0 0 0 0 1"/>
 <feComponentTransfer>
  <feFuncR type="linear" slope="1.0" intercept="-0.14"/>
  <feFuncG type="linear" slope="1.0" intercept="-0.14"/>
  <feFuncB type="linear" slope="1.0" intercept="-0.14"/>
 </feComponentTransfer>
 <feComposite in2="SourceGraphic" operator="in"/>
</filter>
<filter id="nF" x="0" y="0" width="1" height="1" color-interpolation-filters="sRGB">
 <feTurbulence type="fractalNoise" baseFrequency="0.4" numOctaves="2" seed="31"/>
 <feColorMatrix type="matrix" values="0.6 0.4 0 0 0  0.6 0.4 0 0 0  0.6 0.4 0 0 0  0 0 0 0 1"/>
 <feComponentTransfer>
  <feFuncR type="linear" slope="0.5" intercept="-0.02"/>
  <feFuncG type="linear" slope="0.5" intercept="-0.02"/>
  <feFuncB type="linear" slope="0.5" intercept="-0.02"/>
 </feComponentTransfer>
 <feComposite in2="SourceGraphic" operator="in"/>
</filter>
<pattern id="fr1" patternUnits="userSpaceOnUse" width="10" height="3.3" patternTransform="rotate(-4)">
 <rect width="10" height="3.3" fill="#000" fill-opacity="0.35"/><rect y="0.4" width="10" height="1.5" fill="#fff" fill-opacity="0.25"/>
</pattern>
<pattern id="xh" patternUnits="userSpaceOnUse" width="2.4" height="2.4" patternTransform="rotate(40)">
 <rect width="2.4" height="2.4" fill="#000" fill-opacity="0"/><rect width="1.1" height="1.1" fill="#fff" fill-opacity="0.12"/>
</pattern>
<radialGradient id="pmShade" cx="0.4" cy="0.5" r="0.7"><stop offset="0" stop-color="#000" stop-opacity="0"/><stop offset="1" stop-color="#000" stop-opacity="0.25"/></radialGradient>
<clipPath id="clI1"><rect x="375.1" y="325.1" width="157" height="96.9"/></clipPath>
<clipPath id="clI2"><rect x="533.1" y="325.1" width="159" height="96.9"/></clipPath>
</defs>
<g clip-path="url(#clI1)">
<rect x="375.10" y="325.10" width="108.50" height="96.90" fill="#fff" filter="url(#nPM)"/>
<polygon points="375.1,325.1 388.9,325.1 389.5,332.0 388.3,338.0 390.0,345.0 389.0,352.0 390.5,360.0 389.5,368.0 391.0,376.0 390.0,384.0 391.5,392.0 390.5,400.0 392.0,408.0 391.0,416.0 392.0,422.0 375.1,422.0" fill="#fff" filter="url(#nLight)"/>
<polyline points="388.90,325.10 389.50,332.00 388.30,338.00 390.00,345.00 389.00,352.00 390.50,360.00 389.50,368.00 391.00,376.00 390.00,384.00 391.50,392.00 390.50,400.00 392.00,408.00 391.00,416.00 392.00,422.00" fill="none" stroke="#e8e8e8" stroke-width="0.9" stroke-linejoin="round" />
<rect x="389" y="325.1" width="14" height="96.9" fill="#fff" fill-opacity="0.08"/>
<rect x="375.10" y="325.10" width="108.50" height="96.90" fill="url(#pmShade)" />
<defs><linearGradient id="pmR" x1="0" y1="0" x2="1" y2="0"><stop offset="0" stop-color="#000" stop-opacity="0"/><stop offset="0.4" stop-color="#000" stop-opacity="0.05"/><stop offset="1" stop-color="#000" stop-opacity="0.35"/></linearGradient></defs>
<rect x="392.00" y="325.10" width="91.60" height="96.90" fill="url(#pmR)" />
<rect x="483.60" y="325.10" width="48.50" height="48.10" fill="#fff" filter="url(#nC1)"/>
<rect x="483.60" y="325.10" width="48.50" height="48.10" fill="url(#xh)" />
<ellipse cx="497" cy="338" rx="14" ry="7" transform="rotate(-40 497 338)" fill="#fff" fill-opacity="0.12"/>
<ellipse cx="505" cy="358" rx="6" ry="7" fill="#000" fill-opacity="0.25"/>
<rect x="483.60" y="373.20" width="48.50" height="48.80" fill="#fff" filter="url(#nC2)"/>
<rect x="483.60" y="373.20" width="48.50" height="48.80" fill="url(#xh)" />
</g>
<line x1="532.60" y1="325.10" x2="532.60" y2="422.00" stroke="#ddd" stroke-width="1" />
<text x="430.40" y="334.70" font-family="Liberation Sans" font-size="8.28" fill="#fff" font-weight="bold" stroke="#fff" stroke-width="0.22" textLength="12.50" lengthAdjust="spacingAndGlyphs" >PM</text>
<text x="391.40" y="343.20" font-family="Liberation Sans" font-size="8.2" fill="#fff" font-weight="bold" stroke="#fff" stroke-width="0.22" textLength="10.80" lengthAdjust="spacingAndGlyphs" >(1)</text>
<rect x="394.60" y="327.60" width="5.20" height="4.90" fill="none" stroke="#eee" stroke-width="0.5" />
<text x="459.40" y="368.20" font-family="Liberation Sans" font-size="8.2" fill="#fff" font-weight="bold" stroke="#fff" stroke-width="0.22" textLength="10.50" lengthAdjust="spacingAndGlyphs" >(2)</text>
<rect x="472.80" y="361.80" width="5.80" height="5.80" fill="none" stroke="#eee" stroke-width="0.5" stroke-dasharray="0.8 0.6"/>
<text x="485.00" y="334.00" font-family="Liberation Sans" font-size="8.2" fill="#fff" font-weight="bold" stroke="#fff" stroke-width="0.22" textLength="15.40" lengthAdjust="spacingAndGlyphs" >(c1)</text>
<text x="505.90" y="341.20" font-family="Liberation Sans" font-size="5.2" fill="#fff" font-weight="bold" stroke="#fff" stroke-width="0.22" textLength="13.00" lengthAdjust="spacingAndGlyphs" >Fm3m</text>
<line x1="511.60" y1="336.20" x2="513.80" y2="336.20" stroke="#fff" stroke-width="0.4" />
<text x="485.60" y="382.10" font-family="Liberation Sans" font-size="4.8" fill="#fff" font-weight="bold" stroke="#fff" stroke-width="0.22" textLength="11.00" lengthAdjust="spacingAndGlyphs" >(c2)</text>
<text x="379.80" y="415.60" font-family="Liberation Sans" font-size="6.2" fill="#fff" font-weight="bold" stroke="#fff" stroke-width="0.22" textLength="16.50" lengthAdjust="spacingAndGlyphs" >5 nm</text>
<rect x="376.90" y="418.20" width="19.40" height="2.30" fill="#000" />
<text x="489.40" y="415.80" font-family="Liberation Sans" font-size="6.2" fill="#fff" font-weight="bold" stroke="#fff" stroke-width="0.22" textLength="17.40" lengthAdjust="spacingAndGlyphs" >1 nm</text>
<rect x="485.60" y="419.00" width="23.30" height="2.00" fill="#fff" />
<line x1="522.20" y1="364.80" x2="522.20" y2="350.00" stroke="#fff" stroke-width="0.55" />
<path d="M522.2,348.5 l-1.3,2.6 h2.6 z" fill="#fff"/>
<line x1="522.20" y1="364.80" x2="514.60" y2="357.20" stroke="#fff" stroke-width="0.55" />
<path d="M513.5,356.1 l0.6,2.7 l2.1,-2.1 z" fill="#fff"/>
<line x1="522.20" y1="414.80" x2="522.20" y2="398.90" stroke="#fff" stroke-width="0.55" />
<path d="M522.2,397.4 l-1.3,2.6 h2.6 z" fill="#fff"/>
<line x1="522.20" y1="414.80" x2="514.60" y2="407.20" stroke="#fff" stroke-width="0.55" />
<path d="M513.5,406.1 l0.6,2.7 l2.1,-2.1 z" fill="#fff"/>
<text x="530.90" y="363.70" font-family="Liberation Sans" font-size="4.8" fill="#fff" font-weight="bold" stroke="#fff" stroke-width="0.22" textLength="15.20" lengthAdjust="spacingAndGlyphs" transform="rotate(-90 530.90 363.70)" >(220)</text>
<text x="530.90" y="414.80" font-family="Liberation Sans" font-size="4.8" fill="#fff" font-weight="bold" stroke="#fff" stroke-width="0.22" textLength="14.00" lengthAdjust="spacingAndGlyphs" transform="rotate(-90 530.90 414.80)" >(220)</text>
<text x="509.30" y="357.60" font-family="Liberation Sans" font-size="4.8" fill="#fff" font-weight="bold" stroke="#fff" stroke-width="0.22" textLength="13.50" lengthAdjust="spacingAndGlyphs" transform="rotate(58 509.30 357.60)" >(200)</text>
<text x="510.00" y="407.50" font-family="Liberation Sans" font-size="4.8" fill="#fff" font-weight="bold" stroke="#fff" stroke-width="0.22" textLength="13.50" lengthAdjust="spacingAndGlyphs" transform="rotate(58 510.00 407.50)" >(200)</text>
<g clip-path="url(#clI2)">
<rect x="533.10" y="325.10" width="110.50" height="96.90" fill="#fff" filter="url(#nRMbot)"/>
<polygon points="533.1,325.1 643.6,325.1 643.6,331.8 636.3,336.2 628.0,339.5 618.9,342.0 610.0,343.5 601.4,344.3 590.0,345.2 578.0,346.3 560.0,347.5 549.0,350.7 540.0,355.5 533.1,360.9" fill="#fff" filter="url(#nRMtop)"/>
<polyline points="533.10,360.90 540.00,355.50 549.00,350.70 560.00,347.50 578.00,346.30 590.00,345.20 601.40,344.30 610.00,343.50 618.90,342.00 628.00,339.50 636.30,336.20 643.60,331.80" fill="none" stroke="#d8d8d8" stroke-width="0.9" stroke-linejoin="round" />
<defs><filter id="iBl" x="-0.5" y="-0.5" width="2" height="2"><feGaussianBlur stdDeviation="4"/></filter></defs>
<defs><linearGradient id="rmL" x1="0" y1="0" x2="1" y2="0"><stop offset="0" stop-color="#fff" stop-opacity="0.16"/><stop offset="0.4" stop-color="#fff" stop-opacity="0.06"/><stop offset="1" stop-color="#fff" stop-opacity="0"/></linearGradient></defs>
<rect x="533.10" y="340.00" width="110.50" height="82.00" fill="url(#rmL)" />
<g filter="url(#iBl)">
<ellipse cx="598" cy="382" rx="22" ry="14" fill="#000" fill-opacity="0.45"/>
<ellipse cx="575" cy="370" rx="12" ry="8" fill="#000" fill-opacity="0.3"/>
<ellipse cx="625" cy="362" rx="10" ry="16" fill="#000" fill-opacity="0.4"/>
<ellipse cx="560" cy="400" rx="14" ry="9" fill="#000" fill-opacity="0.25"/>
<ellipse cx="612" cy="405" rx="12" ry="8" fill="#000" fill-opacity="0.3"/>
</g>
<rect x="643.60" y="325.10" width="48.50" height="96.90" fill="#fff" filter="url(#nF)"/>
<path d="M643,327.00L693,328.20M643,331.90L693,333.10M643,336.80L693,338.00M643,341.70L693,342.90M643,346.60L693,347.80M643,351.50L693,352.70M643,356.40L693,357.60M643,361.30L693,362.50M643,366.20L693,367.40M643,371.10L693,372.30M643,376.00L693,377.20M643,380.90L693,382.10M643,385.80L693,387.00M643,390.70L693,391.90M643,395.60L693,396.80M643,400.50L693,401.70M643,405.40L693,406.60M643,410.30L693,411.50M643,415.20L693,416.40M643,420.10L693,421.30M643,425.00L693,426.20" stroke="#c0c0c0" stroke-opacity="0.55" stroke-width="2.1" fill="none"/>
</g>
<line x1="643.60" y1="373.90" x2="692.10" y2="373.90" stroke="#555" stroke-width="0.4" />
<text x="578.20" y="334.70" font-family="Liberation Sans" font-size="8.28" fill="#fff" font-weight="bold" stroke="#fff" stroke-width="0.22" textLength="13.00" lengthAdjust="spacingAndGlyphs" >RM</text>
<text x="624.10" y="342.00" font-family="Liberation Sans" font-size="8.2" fill="#fff" font-weight="bold" stroke="#fff" stroke-width="0.22" textLength="10.20" lengthAdjust="spacingAndGlyphs" >(1)</text>
<rect x="636.20" y="333.50" width="5.60" height="5.70" fill="none" stroke="#eee" stroke-width="0.5" />
<text x="645.60" y="334.50" font-family="Liberation Sans" font-size="8.2" fill="#fff" font-weight="bold" stroke="#fff" stroke-width="0.22" textLength="13.40" lengthAdjust="spacingAndGlyphs" >(f1)</text>
<text x="671.20" y="345.50" font-family="Liberation Sans" font-size="4.8" fill="#fff" font-weight="bold" stroke="#fff" stroke-width="0.22" textLength="13.00" lengthAdjust="spacingAndGlyphs" >R3m</text>
<line x1="674.50" y1="340.30" x2="676.70" y2="340.30" stroke="#fff" stroke-width="0.4" />
<text x="644.50" y="384.00" font-family="Liberation Sans" font-size="8.2" fill="#fff" font-weight="bold" stroke="#fff" stroke-width="0.22" textLength="12.20" lengthAdjust="spacingAndGlyphs" >(f2)</text>
<text x="689.60" y="374.00" font-family="Liberation Sans" font-size="7.2" fill="#fff" font-weight="bold" stroke="#fff" stroke-width="0.22" textLength="20.40" lengthAdjust="spacingAndGlyphs" font-style="italic" transform="rotate(-90 689.60 374.00)" >(003)</text>
<text x="689.60" y="420.50" font-family="Liberation Sans" font-size="7.2" fill="#fff" font-weight="bold" stroke="#fff" stroke-width="0.22" textLength="17.50" lengthAdjust="spacingAndGlyphs" font-style="italic" transform="rotate(-90 689.60 420.50)" >(003)</text>
<line x1="676.00" y1="370.00" x2="677.50" y2="359.00" stroke="#fff" stroke-width="0.5" />
<path d="M677.7,357.5 l-1.3,2.4 l2.3,0.3 z" fill="#fff"/>
<line x1="676.00" y1="418.00" x2="677.50" y2="407.00" stroke="#fff" stroke-width="0.5" />
<path d="M677.7,405.5 l-1.3,2.4 l2.3,0.3 z" fill="#fff"/>
<text x="538.90" y="415.30" font-family="Liberation Sans" font-size="6.2" fill="#fff" font-weight="bold" stroke="#fff" stroke-width="0.22" textLength="16.60" lengthAdjust="spacingAndGlyphs" >5 nm</text>
<rect x="536.00" y="418.20" width="19.50" height="2.80" fill="#000" />
<text x="570.00" y="420.50" font-family="Liberation Sans" font-size="5.5" fill="#fff" font-weight="bold" stroke="#fff" stroke-width="0.22" textLength="6.70" lengthAdjust="spacingAndGlyphs" >(2)</text>
<rect x="581.00" y="414.70" width="6.50" height="6.30" fill="none" stroke="#eee" stroke-width="0.5" stroke-dasharray="0.8 0.6"/>
<text x="648.00" y="415.30" font-family="Liberation Sans" font-size="6.2" fill="#fff" font-weight="bold" stroke="#fff" stroke-width="0.22" textLength="15.10" lengthAdjust="spacingAndGlyphs" >1 nm</text>
<rect x="645.60" y="418.50" width="22.70" height="2.50" fill="#fff" />
</svg>
</body></html>
